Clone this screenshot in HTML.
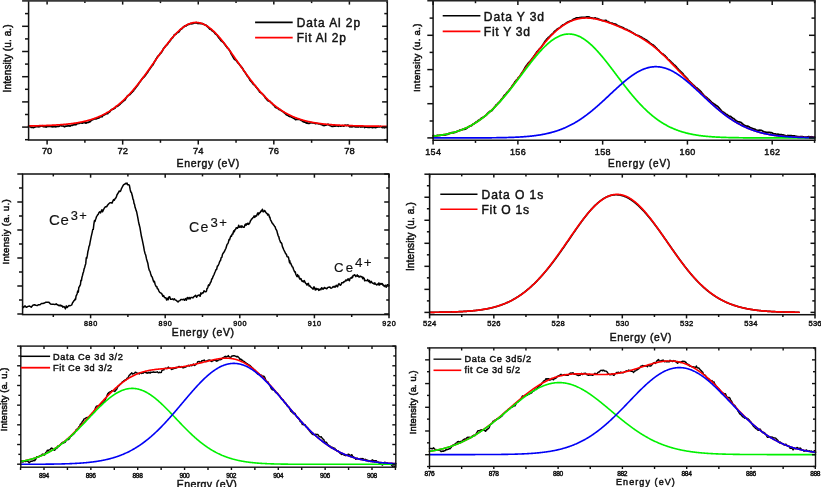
<!DOCTYPE html>
<html><head><meta charset="utf-8"><style>
html,body{margin:0;padding:0;background:#fff;}
svg{display:block;will-change:transform;}
text{font-family:"Liberation Sans",sans-serif;}
</style></head><body>
<svg width="821" height="487" viewBox="0 0 821 487">
<rect width="821" height="487" fill="#fff"/>
<polyline points="28.6,126.61 29.1,126.59 29.6,126.64 30.1,126.53 30.6,126.9 31.1,127.31 31.6,127.29 32.1,127.14 32.6,127.4 33.1,127.56 33.6,127.64 34.1,127.29 34.6,127.21 35.1,126.94 35.6,126.69 36.1,126.68 36.6,126.77 37.1,126.41 37.6,126.65 38.1,126.82 38.6,126.69 39.1,126.78 39.6,126.48 40.1,126.5 40.6,126.22 41.1,126.16 41.6,125.87 42.1,125.69 42.6,126.24 43.1,126.55 43.6,126.56 44.1,126.56 44.6,126.52 45.1,126.89 45.6,126.85 46.1,127.04 46.6,127.01 47.1,126.2 47.6,126.29 48.1,125.96 48.6,126.53 49.1,126.47 49.6,126.45 50.1,126.44 50.6,126.53 51.1,126.37 51.6,126.72 52.1,126.57 52.6,126.92 53.1,126.67 53.6,126.76 54.1,126.46 54.6,126.57 55.1,126.46 55.6,126.84 56.1,126.56 56.6,126.65 57.1,126.48 57.6,126.38 58.1,126.36 58.6,126.51 59.1,126.22 59.6,125.91 60.1,125.5 60.6,125.64 61.1,125.78 61.6,125.83 62.1,125.93 62.6,125.99 63.1,126.05 63.6,126.15 64.1,126.43 64.6,126.78 65.1,126.57 65.6,126.12 66.1,126.25 66.6,126.05 67.1,126.03 67.6,126.01 68.1,125.72 68.6,125.97 69.1,125.91 69.6,125.95 70.1,126.15 70.6,125.76 71.1,125.49 71.6,125.23 72.1,125.07 72.6,125.42 73.1,125.03 73.6,124.65 74.1,124.79 74.6,124.44 75.1,124.49 75.6,124.78 76.1,124.67 76.6,124.19 77.1,123.74 77.6,123.57 78.1,123.56 78.6,123.51 79.1,123.38 79.6,123.14 80.1,122.96 80.6,122.89 81.1,122.68 81.6,122.89 82.1,123.17 82.6,123.15 83.1,122.59 83.6,122.59 84.1,122.51 84.6,122.73 85.1,122.76 85.6,123.09 86.1,123.1 86.6,122.54 87.1,122.56 87.6,122.47 88.1,122.32 88.6,122.28 89.1,121.94 89.6,121.8 90.1,121.69 90.6,120.92 91.1,120.64 91.6,120.03 92.1,119.9 92.6,119.93 93.1,119.57 93.6,119.28 94.1,119 94.6,118.7 95.1,118.87 95.6,118.9 96.1,118.97 96.6,118.79 97.1,118.44 97.6,118.05 98.1,117.99 98.6,118.03 99.1,117.85 99.6,117.52 100.1,116.99 100.6,116.64 101.1,116.53 101.6,116.74 102.1,116.79 102.6,116.11 103.1,115.15 103.6,115.18 104.1,115.05 104.6,114.71 105.1,114.45 105.6,113.84 106.1,113.8 106.6,113.68 107.1,113.64 107.6,113.76 108.1,112.81 108.6,112.45 109.1,112.15 109.6,111.91 110.1,111.5 110.6,110.37 111.1,110.06 111.6,109.92 112.1,109.39 112.6,109.16 113.1,108.99 113.6,109.08 114.1,108.42 114.6,108.32 115.1,107.99 115.6,107.16 116.1,106.35 116.6,106.41 117.1,106.42 117.6,106.23 118.1,105.65 118.6,105.4 119.1,104.93 119.6,104.6 120.1,104.15 120.6,103.51 121.1,102.97 121.6,102.66 122.1,101.98 122.6,101.78 123.1,101.39 123.6,100.96 124.1,100.52 124.6,100.21 125.1,99.85 125.6,98.91 126.1,97.88 126.6,97.22 127.1,96.49 127.6,95.83 128.1,95.7 128.6,95.19 129.1,94.83 129.6,94.72 130.1,94.33 130.6,93.69 131.1,93.27 131.6,92.55 132.1,92.31 132.6,91.54 133.1,91.11 133.6,90.56 134.1,89.37 134.6,89.05 135.1,88.69 135.6,87.81 136.1,87.25 136.6,86.53 137.1,86.01 137.6,85.39 138.1,84.31 138.6,83.95 139.1,82.75 139.6,82.21 140.1,81.81 140.6,81.1 141.1,80.35 141.6,79.57 142.1,78.91 142.6,78.39 143.1,77.68 143.6,77.3 144.1,76.96 144.6,76.37 145.1,75.8 145.6,75.11 146.1,74.4 146.6,73.56 147.1,72.98 147.6,72.37 148.1,71.58 148.6,70.44 149.1,69.83 149.6,69.25 150.1,68.51 150.6,67.74 151.1,67 151.6,66.39 152.1,65.62 152.6,65.17 153.1,64.62 153.6,63.46 154.1,62.5 154.6,61.59 155.1,60.71 155.6,60.15 156.1,58.94 156.6,58.29 157.1,57.42 157.6,56.55 158.1,55.99 158.6,55.63 159.1,55.12 159.6,54.58 160.1,53.6 160.6,53.3 161.1,52.82 161.6,52.16 162.1,51.36 162.6,50.42 163.1,49.32 163.6,48.36 164.1,47.9 164.6,47.4 165.1,46.71 165.6,46.13 166.1,45.42 166.6,45.11 167.1,44.83 167.6,44.1 168.1,43.42 168.6,42.41 169.1,41.87 169.6,41.53 170.1,40.41 170.6,40.11 171.1,39.29 171.6,38.47 172.1,38.06 172.6,37.7 173.1,36.96 173.6,36.04 174.1,35.02 174.6,34.78 175.1,34.43 175.6,34.46 176.1,33.95 176.6,33.22 177.1,32.7 177.6,32.36 178.1,32.42 178.6,32.28 179.1,31.59 179.6,30.93 180.1,30.08 180.6,29.41 181.1,29.21 181.6,28.83 182.1,28.61 182.6,27.89 183.1,27.35 183.6,27.16 184.1,26.53 184.6,25.94 185.1,26.19 185.6,26.05 186.1,25.88 186.6,25.3 187.1,24.98 187.6,24.94 188.1,24.43 188.6,24.51 189.1,24.39 189.6,23.99 190.1,23.72 190.6,23.51 191.1,23.87 191.6,23.69 192.1,23.7 192.6,23.68 193.1,23.22 193.6,23.34 194.1,23 194.6,22.91 195.1,23 195.6,22.98 196.1,22.73 196.6,22.54 197.1,23.06 197.6,23.49 198.1,23.37 198.6,23.53 199.1,23.63 199.6,23.35 200.1,23.19 200.6,23.61 201.1,23.64 201.6,23.67 202.1,23.58 202.6,23.55 203.1,24.05 203.6,24.13 204.1,24.49 204.6,24.76 205.1,24.99 205.6,25.11 206.1,25.13 206.6,25.87 207.1,26.34 207.6,26.45 208.1,27.19 208.6,27.76 209.1,28.29 209.6,28.89 210.1,29.1 210.6,29.39 211.1,29.42 211.6,30.05 212.1,30.75 212.6,31.08 213.1,31.36 213.6,31.69 214.1,31.97 214.6,32.87 215.1,33.65 215.6,34.08 216.1,34.36 216.6,34.49 217.1,35.14 217.6,35.97 218.1,36.7 218.6,37.46 219.1,38.14 219.6,38.6 220.1,39.37 220.6,39.92 221.1,40.65 221.6,40.92 222.1,41.44 222.6,41.77 223.1,42.23 223.6,42.78 224.1,43.68 224.6,44.06 225.1,44.73 225.6,45.58 226.1,46.17 226.6,46.79 227.1,47.47 227.6,48.15 228.1,48.42 228.6,48.99 229.1,49.73 229.6,50.43 230.1,51.36 230.6,52.39 231.1,53.65 231.6,54.53 232.1,55.19 232.6,56.25 233.1,57.13 233.6,57.93 234.1,58.89 234.6,59.31 235.1,59.73 235.6,59.83 236.1,60.38 236.6,60.93 237.1,61.79 237.6,62.33 238.1,63.07 238.6,63.54 239.1,63.79 239.6,64.76 240.1,65.43 240.6,65.93 241.1,66.86 241.6,67.13 242.1,67.72 242.6,68.44 243.1,69.37 243.6,70.49 244.1,71.13 244.6,71.64 245.1,72.58 245.6,73.19 246.1,74.12 246.6,74.86 247.1,75.63 247.6,76.55 248.1,76.72 248.6,77.44 249.1,78.28 249.6,79.44 250.1,80.37 250.6,80.77 251.1,81.45 251.6,81.9 252.1,82.43 252.6,83.35 253.1,83.9 253.6,84.55 254.1,84.75 254.6,85.1 255.1,85.69 255.6,86.32 256.1,87.21 256.6,87.62 257.1,88.23 257.6,88.88 258.1,89.6 258.6,90.18 259.1,90.87 259.6,92.04 260.1,92.32 260.6,92.6 261.1,92.82 261.6,93.44 262.1,93.82 262.6,94.08 263.1,94.52 263.6,95.39 264.1,95.62 264.6,96.33 265.1,97.35 265.6,98.2 266.1,98.51 266.6,99.22 267.1,99.72 267.6,100.63 268.1,100.55 268.6,100.96 269.1,101.15 269.6,101.23 270.1,101.52 270.6,102.27 271.1,102.58 271.6,103.08 272.1,103.38 272.6,104.21 273.1,104.75 273.6,105.3 274.1,105.49 274.6,106.14 275.1,106.99 275.6,107.36 276.1,107.72 276.6,107.8 277.1,107.81 277.6,107.99 278.1,108.48 278.6,109.3 279.1,109.61 279.6,109.42 280.1,109.56 280.6,110.08 281.1,110.53 281.6,110.84 282.1,111.14 282.6,111.48 283.1,111.72 283.6,112.14 284.1,112.57 284.6,113.11 285.1,113.42 285.6,113.71 286.1,114.61 286.6,114.88 287.1,115.09 287.6,115.4 288.1,115.5 288.6,115.98 289.1,116.29 289.6,116.5 290.1,116.68 290.6,116.27 291.1,116.53 291.6,117.24 292.1,117.35 292.6,117.73 293.1,117.86 293.6,118.18 294.1,118.55 294.6,118.78 295.1,119.19 295.6,119.75 296.1,119.47 296.6,119.3 297.1,119.33 297.6,119.24 298.1,119.42 298.6,119.28 299.1,119.3 299.6,119.45 300.1,119.72 300.6,119.93 301.1,120.36 301.6,120.56 302.1,120.87 302.6,121.07 303.1,121.6 303.6,121.64 304.1,122.08 304.6,121.93 305.1,122.02 305.6,122.56 306.1,122.65 306.6,123.08 307.1,123.2 307.6,122.88 308.1,123.38 308.6,123.38 309.1,123.47 309.6,123.21 310.1,122.81 310.6,122.91 311.1,122.45 311.6,122.71 312.1,122.95 312.6,122.88 313.1,122.78 313.6,122.75 314.1,123.12 314.6,123.29 315.1,123.47 315.6,123.66 316.1,123.39 316.6,123.25 317.1,123.5 317.6,123.49 318.1,123.75 318.6,123.79 319.1,123.75 319.6,123.8 320.1,123.74 320.6,124.27 321.1,124.58 321.6,124.53 322.1,124.6 322.6,124.91 323.1,125.38 323.6,125.59 324.1,125.35 324.6,125.54 325.1,125.25 325.6,125.21 326.1,125.06 326.6,125.02 327.1,124.63 327.6,124.43 328.1,124.3 328.6,124.6 329.1,125.24 329.6,125.5 330.1,125.44 330.6,125.76 331.1,126.03 331.6,126.19 332.1,126.41 332.6,126.51 333.1,126.48 333.6,125.93 334.1,125.62 334.6,126.08 335.1,126.19 335.6,125.96 336.1,125.94 336.6,125.63 337.1,125.87 337.6,126 338.1,126.26 338.6,126.29 339.1,125.73 339.6,125.7 340.1,126.01 340.6,126.21 341.1,126.14 341.6,126.03 342.1,125.89 342.6,125.62 343.1,125.72 343.6,126.16 344.1,125.93 344.6,125.6 345.1,125.07 345.6,125.22 346.1,125.43 346.6,125.57 347.1,125.3 347.6,125.09 348.1,125.12 348.6,125.61 349.1,126.16 349.6,126.7 350.1,126.85 350.6,126.47 351.1,126.41 351.6,126.78 352.1,126.81 352.6,126.76 353.1,126.4 353.6,126.26 354.1,126.47 354.6,126.58 355.1,126.87 355.6,126.92 356.1,126.71 356.6,126.85 357.1,126.95 357.6,126.85 358.1,127.03 358.6,126.71 359.1,126.66 359.6,126.53 360.1,126.36 360.6,127.03 361.1,126.85 361.6,126.93 362.1,127.02 362.6,126.85 363.1,126.77 363.6,126.64 364.1,126.88 364.6,127.48 365.1,126.95 365.6,127.18 366.1,127.19 366.6,127.19 367.1,127.27 367.6,127.29 368.1,127.48 368.6,127.4 369.1,127.28 369.6,127.51 370.1,127.29 370.6,127.25 371.1,127.17 371.6,127.19 372.1,127.62 372.6,127.62 373.1,127.45 373.6,127.45 374.1,127.43 374.6,127.42 375.1,127.24 375.6,127.71 376.1,127.53 376.6,127.28 377.1,127.11 377.6,126.91 378.1,126.61 378.6,126.65 379.1,126.92 379.6,126.96 380.1,126.32 380.6,126.6 381.1,126.72 381.6,126.98 382.1,127.53 382.6,127.55 383.1,127.38 383.6,127.41 384.1,127.75 384.6,127.84 385.1,127.58 385.6,127.32 386.1,127.24 386.6,127.28 387.1,127.31" fill="none" stroke="#000" stroke-width="1.7" stroke-linejoin="round" stroke-linecap="round"/>
<polyline points="28.6,125.97 29.1,125.96 29.6,125.95 30.1,125.94 30.6,125.93 31.1,125.92 31.6,125.91 32.1,125.9 32.6,125.89 33.1,125.88 33.6,125.87 34.1,125.85 34.6,125.84 35.1,125.83 35.6,125.82 36.1,125.8 36.6,125.79 37.1,125.78 37.6,125.76 38.1,125.75 38.6,125.74 39.1,125.72 39.6,125.71 40.1,125.69 40.6,125.68 41.1,125.66 41.6,125.65 42.1,125.63 42.6,125.61 43.1,125.6 43.6,125.58 44.1,125.56 44.6,125.54 45.1,125.53 45.6,125.51 46.1,125.49 46.6,125.47 47.1,125.45 47.6,125.43 48.1,125.41 48.6,125.39 49.1,125.36 49.6,125.34 50.1,125.32 50.6,125.3 51.1,125.27 51.6,125.25 52.1,125.22 52.6,125.2 53.1,125.17 53.6,125.15 54.1,125.12 54.6,125.09 55.1,125.06 55.6,125.03 56.1,125 56.6,124.97 57.1,124.94 57.6,124.91 58.1,124.88 58.6,124.84 59.1,124.81 59.6,124.77 60.1,124.74 60.6,124.7 61.1,124.66 61.6,124.62 62.1,124.58 62.6,124.54 63.1,124.5 63.6,124.46 64.1,124.41 64.6,124.37 65.1,124.32 65.6,124.28 66.1,124.23 66.6,124.18 67.1,124.13 67.6,124.08 68.1,124.02 68.6,123.97 69.1,123.91 69.6,123.85 70.1,123.8 70.6,123.74 71.1,123.67 71.6,123.61 72.1,123.55 72.6,123.48 73.1,123.41 73.6,123.34 74.1,123.27 74.6,123.2 75.1,123.12 75.6,123.05 76.1,122.97 76.6,122.89 77.1,122.81 77.6,122.72 78.1,122.64 78.6,122.55 79.1,122.46 79.6,122.37 80.1,122.27 80.6,122.18 81.1,122.08 81.6,121.98 82.1,121.87 82.6,121.77 83.1,121.66 83.6,121.55 84.1,121.43 84.6,121.32 85.1,121.2 85.6,121.08 86.1,120.95 86.6,120.83 87.1,120.7 87.6,120.57 88.1,120.43 88.6,120.29 89.1,120.15 89.6,120.01 90.1,119.86 90.6,119.71 91.1,119.55 91.6,119.39 92.1,119.23 92.6,119.07 93.1,118.9 93.6,118.73 94.1,118.56 94.6,118.38 95.1,118.19 95.6,118.01 96.1,117.82 96.6,117.62 97.1,117.43 97.6,117.23 98.1,117.02 98.6,116.81 99.1,116.6 99.6,116.38 100.1,116.16 100.6,115.93 101.1,115.7 101.6,115.46 102.1,115.23 102.6,114.98 103.1,114.73 103.6,114.48 104.1,114.22 104.6,113.96 105.1,113.69 105.6,113.42 106.1,113.14 106.6,112.86 107.1,112.57 107.6,112.28 108.1,111.99 108.6,111.68 109.1,111.38 109.6,111.06 110.1,110.75 110.6,110.42 111.1,110.1 111.6,109.76 112.1,109.42 112.6,109.08 113.1,108.73 113.6,108.38 114.1,108.01 114.6,107.65 115.1,107.28 115.6,106.9 116.1,106.52 116.6,106.13 117.1,105.73 117.6,105.33 118.1,104.93 118.6,104.52 119.1,104.1 119.6,103.68 120.1,103.25 120.6,102.81 121.1,102.37 121.6,101.93 122.1,101.48 122.6,101.02 123.1,100.55 123.6,100.09 124.1,99.61 124.6,99.13 125.1,98.64 125.6,98.15 126.1,97.65 126.6,97.15 127.1,96.64 127.6,96.12 128.1,95.6 128.6,95.07 129.1,94.54 129.6,94 130.1,93.46 130.6,92.91 131.1,92.36 131.6,91.79 132.1,91.23 132.6,90.66 133.1,90.08 133.6,89.5 134.1,88.91 134.6,88.32 135.1,87.72 135.6,87.12 136.1,86.52 136.6,85.9 137.1,85.29 137.6,84.67 138.1,84.04 138.6,83.41 139.1,82.77 139.6,82.13 140.1,81.49 140.6,80.84 141.1,80.19 141.6,79.53 142.1,78.87 142.6,78.21 143.1,77.54 143.6,76.87 144.1,76.2 144.6,75.52 145.1,74.84 145.6,74.15 146.1,73.47 146.6,72.78 147.1,72.09 147.6,71.39 148.1,70.69 148.6,69.99 149.1,69.29 149.6,68.59 150.1,67.88 150.6,67.18 151.1,66.47 151.6,65.76 152.1,65.05 152.6,64.34 153.1,63.62 153.6,62.91 154.1,62.2 154.6,61.48 155.1,60.77 155.6,60.06 156.1,59.34 156.6,58.63 157.1,57.92 157.6,57.21 158.1,56.5 158.6,55.79 159.1,55.08 159.6,54.38 160.1,53.67 160.6,52.97 161.1,52.27 161.6,51.58 162.1,50.88 162.6,50.19 163.1,49.5 163.6,48.82 164.1,48.14 164.6,47.46 165.1,46.79 165.6,46.12 166.1,45.46 166.6,44.8 167.1,44.15 167.6,43.5 168.1,42.86 168.6,42.22 169.1,41.59 169.6,40.96 170.1,40.34 170.6,39.73 171.1,39.13 171.6,38.53 172.1,37.94 172.6,37.36 173.1,36.78 173.6,36.21 174.1,35.66 174.6,35.11 175.1,34.57 175.6,34.03 176.1,33.51 176.6,33 177.1,32.49 177.6,32 178.1,31.52 178.6,31.04 179.1,30.58 179.6,30.13 180.1,29.69 180.6,29.26 181.1,28.84 181.6,28.44 182.1,28.04 182.6,27.66 183.1,27.29 183.6,26.93 184.1,26.59 184.6,26.25 185.1,25.94 185.6,25.63 186.1,25.34 186.6,25.06 187.1,24.79 187.6,24.54 188.1,24.3 188.6,24.08 189.1,23.86 189.6,23.67 190.1,23.49 190.6,23.32 191.1,23.17 191.6,23.03 192.1,22.9 192.6,22.8 193.1,22.7 193.6,22.62 194.1,22.56 194.6,22.51 195.1,22.47 195.6,22.45 196.1,22.45 196.6,22.46 197.1,22.49 197.6,22.53 198.1,22.58 198.6,22.65 199.1,22.74 199.6,22.84 200.1,22.95 200.6,23.08 201.1,23.23 201.6,23.38 202.1,23.56 202.6,23.75 203.1,23.95 203.6,24.16 204.1,24.39 204.6,24.64 205.1,24.9 205.6,25.17 206.1,25.45 206.6,25.75 207.1,26.06 207.6,26.39 208.1,26.72 208.6,27.07 209.1,27.44 209.6,27.81 210.1,28.2 210.6,28.6 211.1,29.01 211.6,29.43 212.1,29.86 212.6,30.31 213.1,30.77 213.6,31.23 214.1,31.71 214.6,32.2 215.1,32.69 215.6,33.2 216.1,33.72 216.6,34.25 217.1,34.78 217.6,35.33 218.1,35.88 218.6,36.44 219.1,37.01 219.6,37.59 220.1,38.17 220.6,38.77 221.1,39.37 221.6,39.98 222.1,40.59 222.6,41.21 223.1,41.84 223.6,42.47 224.1,43.11 224.6,43.76 225.1,44.41 225.6,45.06 226.1,45.72 226.6,46.39 227.1,47.06 227.6,47.73 228.1,48.41 228.6,49.09 229.1,49.78 229.6,50.47 230.1,51.16 230.6,51.85 231.1,52.55 231.6,53.25 232.1,53.95 232.6,54.66 233.1,55.36 233.6,56.07 234.1,56.78 234.6,57.49 235.1,58.2 235.6,58.92 236.1,59.63 236.6,60.34 237.1,61.06 237.6,61.77 238.1,62.48 238.6,63.2 239.1,63.91 239.6,64.62 240.1,65.33 240.6,66.04 241.1,66.75 241.6,67.46 242.1,68.17 242.6,68.87 243.1,69.57 243.6,70.27 244.1,70.97 244.6,71.67 245.1,72.36 245.6,73.05 246.1,73.74 246.6,74.43 247.1,75.11 247.6,75.79 248.1,76.47 248.6,77.14 249.1,77.81 249.6,78.48 250.1,79.14 250.6,79.8 251.1,80.45 251.6,81.1 252.1,81.75 252.6,82.39 253.1,83.03 253.6,83.66 254.1,84.29 254.6,84.91 255.1,85.53 255.6,86.15 256.1,86.76 256.6,87.36 257.1,87.96 257.6,88.56 258.1,89.15 258.6,89.73 259.1,90.31 259.6,90.89 260.1,91.46 260.6,92.02 261.1,92.58 261.6,93.13 262.1,93.68 262.6,94.22 263.1,94.75 263.6,95.29 264.1,95.81 264.6,96.33 265.1,96.84 265.6,97.35 266.1,97.85 266.6,98.35 267.1,98.84 267.6,99.32 268.1,99.8 268.6,100.27 269.1,100.74 269.6,101.2 270.1,101.66 270.6,102.11 271.1,102.55 271.6,102.99 272.1,103.42 272.6,103.85 273.1,104.27 273.6,104.68 274.1,105.09 274.6,105.49 275.1,105.89 275.6,106.28 276.1,106.67 276.6,107.05 277.1,107.43 277.6,107.8 278.1,108.16 278.6,108.52 279.1,108.87 279.6,109.22 280.1,109.56 280.6,109.9 281.1,110.23 281.6,110.55 282.1,110.87 282.6,111.19 283.1,111.5 283.6,111.8 284.1,112.1 284.6,112.4 285.1,112.69 285.6,112.97 286.1,113.25 286.6,113.53 287.1,113.8 287.6,114.06 288.1,114.33 288.6,114.58 289.1,114.83 289.6,115.08 290.1,115.32 290.6,115.56 291.1,115.79 291.6,116.02 292.1,116.25 292.6,116.47 293.1,116.68 293.6,116.9 294.1,117.1 294.6,117.31 295.1,117.51 295.6,117.7 296.1,117.89 296.6,118.08 297.1,118.27 297.6,118.45 298.1,118.63 298.6,118.8 299.1,118.97 299.6,119.14 300.1,119.3 300.6,119.46 301.1,119.61 301.6,119.77 302.1,119.92 302.6,120.06 303.1,120.21 303.6,120.35 304.1,120.48 304.6,120.62 305.1,120.75 305.6,120.88 306.1,121 306.6,121.13 307.1,121.25 307.6,121.37 308.1,121.48 308.6,121.59 309.1,121.7 309.6,121.81 310.1,121.91 310.6,122.02 311.1,122.12 311.6,122.22 312.1,122.31 312.6,122.4 313.1,122.5 313.6,122.59 314.1,122.67 314.6,122.76 315.1,122.84 315.6,122.92 316.1,123 316.6,123.08 317.1,123.15 317.6,123.23 318.1,123.3 318.6,123.37 319.1,123.44 319.6,123.51 320.1,123.57 320.6,123.64 321.1,123.7 321.6,123.76 322.1,123.82 322.6,123.88 323.1,123.93 323.6,123.99 324.1,124.04 324.6,124.1 325.1,124.15 325.6,124.2 326.1,124.25 326.6,124.3 327.1,124.34 327.6,124.39 328.1,124.43 328.6,124.48 329.1,124.52 329.6,124.56 330.1,124.6 330.6,124.64 331.1,124.68 331.6,124.71 332.1,124.75 332.6,124.79 333.1,124.82 333.6,124.86 334.1,124.89 334.6,124.92 335.1,124.95 335.6,124.99 336.1,125.02 336.6,125.05 337.1,125.07 337.6,125.1 338.1,125.13 338.6,125.16 339.1,125.18 339.6,125.21 340.1,125.23 340.6,125.26 341.1,125.28 341.6,125.31 342.1,125.33 342.6,125.35 343.1,125.37 343.6,125.39 344.1,125.42 344.6,125.44 345.1,125.46 345.6,125.48 346.1,125.5 346.6,125.51 347.1,125.53 347.6,125.55 348.1,125.57 348.6,125.59 349.1,125.6 349.6,125.62 350.1,125.64 350.6,125.65 351.1,125.67 351.6,125.68 352.1,125.7 352.6,125.71 353.1,125.73 353.6,125.74 354.1,125.76 354.6,125.77 355.1,125.78 355.6,125.8 356.1,125.81 356.6,125.82 357.1,125.83 357.6,125.85 358.1,125.86 358.6,125.87 359.1,125.88 359.6,125.89 360.1,125.9 360.6,125.92 361.1,125.93 361.6,125.94 362.1,125.95 362.6,125.96 363.1,125.97 363.6,125.98 364.1,125.99 364.6,126 365.1,126.01 365.6,126.02 366.1,126.03 366.6,126.04 367.1,126.04 367.6,126.05 368.1,126.06 368.6,126.07 369.1,126.08 369.6,126.09 370.1,126.1 370.6,126.1 371.1,126.11 371.6,126.12 372.1,126.13 372.6,126.14 373.1,126.14 373.6,126.15 374.1,126.16 374.6,126.17 375.1,126.17 375.6,126.18 376.1,126.19 376.6,126.2 377.1,126.2 377.6,126.21 378.1,126.22 378.6,126.22 379.1,126.23 379.6,126.24 380.1,126.24 380.6,126.25 381.1,126.26 381.6,126.26 382.1,126.27 382.6,126.27 383.1,126.28 383.6,126.29 384.1,126.29 384.6,126.3 385.1,126.31 385.6,126.31 386.1,126.32 386.6,126.32 387.1,126.33" fill="none" stroke="#ff0000" stroke-width="1.7" stroke-linejoin="round" stroke-linecap="round"/>
<line x1="22.1" y1="127.1" x2="28.6" y2="127.1" stroke="#111" stroke-width="1.5"/>
<line x1="382.1" y1="127.1" x2="387.3" y2="127.1" stroke="#111" stroke-width="1.5"/>
<line x1="22.1" y1="101.9" x2="28.6" y2="101.9" stroke="#111" stroke-width="1.5"/>
<line x1="382.1" y1="101.9" x2="387.3" y2="101.9" stroke="#111" stroke-width="1.5"/>
<line x1="22.1" y1="76.7" x2="28.6" y2="76.7" stroke="#111" stroke-width="1.5"/>
<line x1="382.1" y1="76.7" x2="387.3" y2="76.7" stroke="#111" stroke-width="1.5"/>
<line x1="22.1" y1="51.5" x2="28.6" y2="51.5" stroke="#111" stroke-width="1.5"/>
<line x1="382.1" y1="51.5" x2="387.3" y2="51.5" stroke="#111" stroke-width="1.5"/>
<line x1="22.1" y1="26.3" x2="28.6" y2="26.3" stroke="#111" stroke-width="1.5"/>
<line x1="382.1" y1="26.3" x2="387.3" y2="26.3" stroke="#111" stroke-width="1.5"/>
<line x1="25" y1="139.7" x2="28.6" y2="139.7" stroke="#111" stroke-width="1.5"/>
<line x1="384.3" y1="139.7" x2="387.3" y2="139.7" stroke="#111" stroke-width="1.5"/>
<line x1="25" y1="114.5" x2="28.6" y2="114.5" stroke="#111" stroke-width="1.5"/>
<line x1="384.3" y1="114.5" x2="387.3" y2="114.5" stroke="#111" stroke-width="1.5"/>
<line x1="25" y1="89.3" x2="28.6" y2="89.3" stroke="#111" stroke-width="1.5"/>
<line x1="384.3" y1="89.3" x2="387.3" y2="89.3" stroke="#111" stroke-width="1.5"/>
<line x1="25" y1="64.1" x2="28.6" y2="64.1" stroke="#111" stroke-width="1.5"/>
<line x1="384.3" y1="64.1" x2="387.3" y2="64.1" stroke="#111" stroke-width="1.5"/>
<line x1="25" y1="38.9" x2="28.6" y2="38.9" stroke="#111" stroke-width="1.5"/>
<line x1="384.3" y1="38.9" x2="387.3" y2="38.9" stroke="#111" stroke-width="1.5"/>
<line x1="25" y1="13.6" x2="28.6" y2="13.6" stroke="#111" stroke-width="1.5"/>
<line x1="384.3" y1="13.6" x2="387.3" y2="13.6" stroke="#111" stroke-width="1.5"/>
<line x1="47.1" y1="139.9" x2="47.1" y2="144.6" stroke="#111" stroke-width="1.5"/>
<line x1="47.1" y1="0.9" x2="47.1" y2="4.6" stroke="#111" stroke-width="1.5"/>
<line x1="122.67" y1="139.9" x2="122.67" y2="144.6" stroke="#111" stroke-width="1.5"/>
<line x1="122.67" y1="0.9" x2="122.67" y2="4.6" stroke="#111" stroke-width="1.5"/>
<line x1="198.25" y1="139.9" x2="198.25" y2="144.6" stroke="#111" stroke-width="1.5"/>
<line x1="198.25" y1="0.9" x2="198.25" y2="4.6" stroke="#111" stroke-width="1.5"/>
<line x1="273.82" y1="139.9" x2="273.82" y2="144.6" stroke="#111" stroke-width="1.5"/>
<line x1="273.82" y1="0.9" x2="273.82" y2="4.6" stroke="#111" stroke-width="1.5"/>
<line x1="349.4" y1="139.9" x2="349.4" y2="144.6" stroke="#111" stroke-width="1.5"/>
<line x1="349.4" y1="0.9" x2="349.4" y2="4.6" stroke="#111" stroke-width="1.5"/>
<line x1="84.89" y1="139.9" x2="84.89" y2="142.8" stroke="#111" stroke-width="1.5"/>
<line x1="84.89" y1="0.9" x2="84.89" y2="3.1" stroke="#111" stroke-width="1.5"/>
<line x1="160.46" y1="139.9" x2="160.46" y2="142.8" stroke="#111" stroke-width="1.5"/>
<line x1="160.46" y1="0.9" x2="160.46" y2="3.1" stroke="#111" stroke-width="1.5"/>
<line x1="236.04" y1="139.9" x2="236.04" y2="142.8" stroke="#111" stroke-width="1.5"/>
<line x1="236.04" y1="0.9" x2="236.04" y2="3.1" stroke="#111" stroke-width="1.5"/>
<line x1="311.61" y1="139.9" x2="311.61" y2="142.8" stroke="#111" stroke-width="1.5"/>
<line x1="311.61" y1="0.9" x2="311.61" y2="3.1" stroke="#111" stroke-width="1.5"/>
<line x1="387.19" y1="139.9" x2="387.19" y2="142.8" stroke="#111" stroke-width="1.5"/>
<line x1="387.19" y1="0.9" x2="387.19" y2="3.1" stroke="#111" stroke-width="1.5"/>
<polyline points="28.6,0.9 28.6,139.9 387.3,139.9 387.3,0.9" fill="none" stroke="#111" stroke-width="1.5"/>
<line x1="22.1" y1="0.9" x2="388.05" y2="0.9" stroke="#383838" stroke-width="1.8"/>
<text x="47.1" y="153.8" font-size="9.4" text-anchor="middle" font-weight="normal" fill="#111" textLength="10.4" lengthAdjust="spacing" stroke="#111" stroke-width="0.45">70</text>
<text x="122.67" y="153.8" font-size="9.4" text-anchor="middle" font-weight="normal" fill="#111" textLength="10.4" lengthAdjust="spacing" stroke="#111" stroke-width="0.45">72</text>
<text x="198.25" y="153.8" font-size="9.4" text-anchor="middle" font-weight="normal" fill="#111" textLength="10.4" lengthAdjust="spacing" stroke="#111" stroke-width="0.45">74</text>
<text x="273.82" y="153.8" font-size="9.4" text-anchor="middle" font-weight="normal" fill="#111" textLength="10.4" lengthAdjust="spacing" stroke="#111" stroke-width="0.45">76</text>
<text x="349.4" y="153.8" font-size="9.4" text-anchor="middle" font-weight="normal" fill="#111" textLength="10.4" lengthAdjust="spacing" stroke="#111" stroke-width="0.45">78</text>
<text x="207.9" y="166.8" font-size="10.5" text-anchor="middle" font-weight="normal" fill="#111" textLength="62.6" lengthAdjust="spacing" stroke="#111" stroke-width="0.45">Energy (eV)</text>
<text x="10.8" y="58.4" font-size="10.0" text-anchor="middle" font-weight="normal" fill="#111" textLength="68" lengthAdjust="spacing" transform="rotate(-90 10.8 58.4)" stroke="#111" stroke-width="0.5">Intensity (u. a.)</text>
<line x1="255.1" y1="22.4" x2="292.7" y2="22.4" stroke="#000" stroke-width="1.6"/>
<line x1="255.1" y1="37.7" x2="292.7" y2="37.7" stroke="#ff0000" stroke-width="1.7"/>
<text x="296.8" y="26.7" font-size="11.9" text-anchor="start" font-weight="normal" fill="#111" textLength="63.2" lengthAdjust="spacing" stroke="#111" stroke-width="0.45">Data Al 2p</text>
<text x="296.8" y="42" font-size="11.9" text-anchor="start" font-weight="normal" fill="#111" textLength="49" lengthAdjust="spacing" stroke="#111" stroke-width="0.45">Fit Al 2p</text>
<polyline points="433.1,135.71 433.6,135.74 434.1,135.86 434.6,135.7 435.1,135.82 435.6,135.79 436.1,135.85 436.6,135.62 437.1,135.61 437.6,135.39 438.1,135.34 438.6,135.48 439.1,135.45 439.6,135.39 440.1,135.32 440.6,135.33 441.1,135.24 441.6,135.04 442.1,135.19 442.6,135.16 443.1,134.83 443.6,134.82 444.1,135.03 444.6,134.89 445.1,134.79 445.6,135.02 446.1,134.79 446.6,134.41 447.1,134.38 447.6,134.52 448.1,134.22 448.6,133.59 449.1,133.58 449.6,133.48 450.1,133.03 450.6,133.13 451.1,133.07 451.6,132.9 452.1,132.45 452.6,132.58 453.1,132.9 453.6,132.69 454.1,132.56 454.6,132.54 455.1,132.4 455.6,132.1 456.1,131.86 456.6,131.87 457.1,131.55 457.6,131.17 458.1,131.02 458.6,130.9 459.1,130.64 459.6,130.18 460.1,130.33 460.6,130.22 461.1,129.81 461.6,129.74 462.1,129.62 462.6,129.39 463.1,129.32 463.6,129.37 464.1,129.45 464.6,129.22 465.1,129.23 465.6,128.99 466.1,128.58 466.6,128.41 467.1,127.97 467.6,127.58 468.1,127.22 468.6,127.03 469.1,126.66 469.6,125.93 470.1,126.06 470.6,125.92 471.1,125.65 471.6,125.63 472.1,125.18 472.6,124.58 473.1,124.02 473.6,123.89 474.1,123.71 474.6,123.11 475.1,122.7 475.6,122.37 476.1,122.05 476.6,121.96 477.1,121.65 477.6,121.09 478.1,120.55 478.6,120.34 479.1,120.16 479.6,119.83 480.1,119.33 480.6,118.96 481.1,118.38 481.6,118.03 482.1,117.9 482.6,117.53 483.1,117.36 483.6,116.91 484.1,116.65 484.6,116.35 485.1,115.92 485.6,115.64 486.1,115.31 486.6,114.71 487.1,114.11 487.6,113.28 488.1,112.85 488.6,112.34 489.1,112 489.6,111.69 490.1,111.24 490.6,110.93 491.1,110.97 491.6,110.63 492.1,110.42 492.6,109.82 493.1,109.06 493.6,108.44 494.1,107.66 494.6,107.2 495.1,106.5 495.6,105.79 496.1,105.02 496.6,104.61 497.1,104.25 497.6,103.86 498.1,103.19 498.6,102.74 499.1,102.25 499.6,101.79 500.1,101.24 500.6,100.69 501.1,99.74 501.6,99.16 502.1,98.65 502.6,97.99 503.1,97.29 503.6,96.45 504.1,95.68 504.6,95.17 505.1,94.76 505.6,94.41 506.1,93.66 506.6,92.83 507.1,92.31 507.6,92.05 508.1,91.5 508.6,90.85 509.1,90.22 509.6,89.61 510.1,88.83 510.6,88.33 511.1,87.65 511.6,87.12 512.1,86.06 512.6,85.32 513.1,84.68 513.6,84 514.1,83.3 514.6,82.41 515.1,81.43 515.6,81.14 516.1,80.53 516.6,79.84 517.1,79.61 517.6,78.98 518.1,78.01 518.6,77.32 519.1,76.95 519.6,76.58 520.1,75.83 520.6,74.96 521.1,74.33 521.6,73.16 522.1,72.5 522.6,71.87 523.1,71.21 523.6,70.25 524.1,69.29 524.6,68.36 525.1,67.57 525.6,66.79 526.1,66.14 526.6,65.31 527.1,64.75 527.6,64.03 528.1,63.32 528.6,62.75 529.1,62.19 529.6,61.81 530.1,61.23 530.6,60.64 531.1,60 531.6,59.26 532.1,58.62 532.6,58.11 533.1,57.33 533.6,56.68 534.1,55.84 534.6,55.22 535.1,54.46 535.6,53.89 536.1,53.09 536.6,52.26 537.1,51.6 537.6,51.22 538.1,50.62 538.6,49.96 539.1,49.26 539.6,48.84 540.1,48.34 540.6,47.97 541.1,47.42 541.6,46.8 542.1,45.88 542.6,45.11 543.1,44.4 543.6,43.78 544.1,42.8 544.6,41.9 545.1,41.21 545.6,40.54 546.1,40 546.6,39.3 547.1,38.72 547.6,38.31 548.1,37.66 548.6,37.28 549.1,37.17 549.6,36.5 550.1,35.99 550.6,35.33 551.1,34.97 551.6,34.5 552.1,34.06 552.6,33.78 553.1,33.32 553.6,32.5 554.1,31.93 554.6,31.36 555.1,30.88 555.6,30.5 556.1,30.07 556.6,29.6 557.1,29.19 557.6,28.79 558.1,28.66 558.6,28.35 559.1,28.05 559.6,27.69 560.1,27.35 560.6,26.93 561.1,26.38 561.6,25.95 562.1,25.74 562.6,25.13 563.1,24.82 563.6,24.69 564.1,24.53 564.6,24.19 565.1,23.8 565.6,23.62 566.1,23.31 566.6,22.68 567.1,22.55 567.6,22.33 568.1,21.89 568.6,21.79 569.1,21.45 569.6,21.21 570.1,20.94 570.6,20.74 571.1,20.83 571.6,20.47 572.1,20.16 572.6,19.92 573.1,19.37 573.6,19.05 574.1,18.97 574.6,18.75 575.1,18.54 575.6,18.19 576.1,17.96 576.6,17.91 577.1,17.82 577.6,17.94 578.1,17.85 578.6,17.77 579.1,17.73 579.6,17.48 580.1,17.58 580.6,17.63 581.1,17.33 581.6,17.39 582.1,17.31 582.6,17.27 583.1,17.41 583.6,17.39 584.1,17.38 584.6,17.34 585.1,17.26 585.6,17.34 586.1,17.01 586.6,16.93 587.1,16.95 587.6,16.84 588.1,16.88 588.6,16.98 589.1,16.88 589.6,17.17 590.1,17.57 590.6,17.97 591.1,17.94 591.6,17.97 592.1,17.91 592.6,18.13 593.1,18.32 593.6,18.42 594.1,18.14 594.6,18.05 595.1,17.94 595.6,18.08 596.1,18.38 596.6,18.66 597.1,18.58 597.6,18.59 598.1,18.77 598.6,19.25 599.1,19.39 599.6,19.45 600.1,19.76 600.6,19.84 601.1,20.26 601.6,20.32 602.1,20.5 602.6,20.58 603.1,20.56 603.6,20.59 604.1,20.74 604.6,20.48 605.1,20.59 605.6,20.28 606.1,20.43 606.6,20.86 607.1,21.16 607.6,21.41 608.1,21.6 608.6,21.98 609.1,22.37 609.6,22.54 610.1,22.87 610.6,23.19 611.1,23.16 611.6,23.28 612.1,23.17 612.6,23.33 613.1,23.53 613.6,23.71 614.1,23.84 614.6,23.99 615.1,24.01 615.6,24.1 616.1,24.39 616.6,24.73 617.1,25.19 617.6,25.42 618.1,25.77 618.6,26.21 619.1,26.12 619.6,26.44 620.1,26.58 620.6,26.64 621.1,26.89 621.6,27.09 622.1,27.25 622.6,27.57 623.1,27.6 623.6,28.08 624.1,28.32 624.6,28.82 625.1,29.1 625.6,29.27 626.1,29.32 626.6,29.4 627.1,29.59 627.6,29.98 628.1,30.28 628.6,30.55 629.1,30.61 629.6,30.82 630.1,31.24 630.6,31.43 631.1,31.76 631.6,32.05 632.1,32.4 632.6,32.65 633.1,32.94 633.6,33.29 634.1,33.78 634.6,33.9 635.1,34.27 635.6,34.69 636.1,34.95 636.6,35.01 637.1,35.28 637.6,35.44 638.1,35.63 638.6,35.67 639.1,36.02 639.6,36.41 640.1,36.57 640.6,36.62 641.1,36.91 641.6,37.22 642.1,37.67 642.6,37.91 643.1,38.34 643.6,38.53 644.1,38.83 644.6,39.12 645.1,39.39 645.6,39.68 646.1,39.97 646.6,40.11 647.1,40.62 647.6,40.94 648.1,41.41 648.6,41.71 649.1,42.28 649.6,42.68 650.1,43.13 650.6,43.5 651.1,43.75 651.6,44.15 652.1,44.42 652.6,44.71 653.1,45.01 653.6,45.32 654.1,45.84 654.6,46.29 655.1,46.62 655.6,47.35 656.1,47.77 656.6,48.23 657.1,48.74 657.6,49.31 658.1,49.78 658.6,50.26 659.1,50.66 659.6,51.32 660.1,51.94 660.6,52.4 661.1,52.72 661.6,53.38 662.1,53.69 662.6,53.94 663.1,54.06 663.6,54.57 664.1,55.04 664.6,55.38 665.1,55.77 665.6,56.62 666.1,56.9 666.6,57.39 667.1,58.06 667.6,58.86 668.1,59.32 668.6,59.74 669.1,59.88 669.6,60.61 670.1,60.89 670.6,61.48 671.1,61.97 671.6,62.5 672.1,62.96 672.6,63.29 673.1,63.8 673.6,64.65 674.1,64.85 674.6,65.18 675.1,65.55 675.6,66.05 676.1,66.56 676.6,67.09 677.1,67.98 677.6,68.52 678.1,68.93 678.6,69.58 679.1,70 679.6,70.48 680.1,70.98 680.6,71.46 681.1,72 681.6,72.34 682.1,72.88 682.6,73.33 683.1,73.84 683.6,74.67 684.1,75.27 684.6,75.92 685.1,76.39 685.6,76.88 686.1,77.35 686.6,77.85 687.1,78.42 687.6,78.91 688.1,79.73 688.6,80.29 689.1,80.81 689.6,81.46 690.1,81.82 690.6,82.4 691.1,82.86 691.6,83.42 692.1,83.99 692.6,84.27 693.1,84.83 693.6,85.19 694.1,85.61 694.6,86.15 695.1,86.71 695.6,87.13 696.1,87.42 696.6,87.81 697.1,88.09 697.6,88.56 698.1,89.09 698.6,89.27 699.1,89.78 699.6,90.24 700.1,90.75 700.6,91.32 701.1,91.87 701.6,92.54 702.1,93.08 702.6,93.71 703.1,94.49 703.6,94.92 704.1,95.32 704.6,95.8 705.1,96.35 705.6,96.8 706.1,97.07 706.6,97.44 707.1,97.81 707.6,98.28 708.1,98.82 708.6,99.22 709.1,99.68 709.6,100.24 710.1,100.61 710.6,101.25 711.1,101.55 711.6,102.05 712.1,102.46 712.6,102.77 713.1,103.39 713.6,103.7 714.1,104.06 714.6,104.39 715.1,104.59 715.6,105.19 716.1,105.41 716.6,105.6 717.1,106.15 717.6,106.25 718.1,106.75 718.6,107.37 719.1,107.9 719.6,108.55 720.1,108.95 720.6,109.54 721.1,110.17 721.6,110.77 722.1,111.34 722.6,111.79 723.1,111.98 723.6,112.26 724.1,112.64 724.6,112.96 725.1,113.38 725.6,113.85 726.1,114.22 726.6,114.38 727.1,114.63 727.6,114.92 728.1,115.33 728.6,115.69 729.1,116.02 729.6,116.3 730.1,116.38 730.6,116.42 731.1,116.96 731.6,117.31 732.1,117.62 732.6,118.02 733.1,118.26 733.6,118.46 734.1,118.95 734.6,119.37 735.1,119.86 735.6,120.23 736.1,120.69 736.6,120.99 737.1,121.18 737.6,121.54 738.1,121.98 738.6,121.79 739.1,121.84 739.6,121.97 740.1,122.13 740.6,122.25 741.1,122.62 741.6,122.88 742.1,123.39 742.6,123.72 743.1,124.38 743.6,124.96 744.1,125.02 744.6,125.33 745.1,125.53 745.6,125.76 746.1,126.09 746.6,126.08 747.1,126.1 747.6,126.12 748.1,126.3 748.6,126.67 749.1,126.79 749.6,127.13 750.1,127.5 750.6,127.69 751.1,127.9 751.6,128.06 752.1,128.24 752.6,128.46 753.1,128.8 753.6,128.91 754.1,129.09 754.6,129.06 755.1,129.4 755.6,129.58 756.1,129.94 756.6,130.11 757.1,130.26 757.6,130.26 758.1,130.43 758.6,130.3 759.1,130.29 759.6,130.14 760.1,130.16 760.6,130.25 761.1,130.28 761.6,130.38 762.1,130.66 762.6,130.99 763.1,131.32 763.6,131.62 764.1,131.85 764.6,132.09 765.1,132.02 765.6,132.32 766.1,132.18 766.6,132.45 767.1,132.56 767.6,132.44 768.1,132.46 768.6,132.45 769.1,132.24 769.6,132.48 770.1,132.45 770.6,132.93 771.1,132.77 771.6,132.63 772.1,132.96 772.6,133.16 773.1,133.5 773.6,133.85 774.1,133.81 774.6,133.9 775.1,133.84 775.6,133.89 776.1,134.18 776.6,134.23 777.1,134.25 777.6,134.19 778.1,134.21 778.6,134.28 779.1,134.68 779.6,134.71 780.1,134.79 780.6,134.57 781.1,134.66 781.6,134.57 782.1,134.72 782.6,134.91 783.1,135.21 783.6,134.98 784.1,135.25 784.6,135.37 785.1,135.62 785.6,135.69 786.1,135.85 786.6,135.91 787.1,135.69 787.6,135.46 788.1,135.7 788.6,135.52 789.1,135.55 789.6,135.64 790.1,135.62 790.6,135.58 791.1,135.56 791.6,135.63 792.1,135.94 792.6,135.79 793.1,135.89 793.6,136.05 794.1,135.88 794.6,135.8 795.1,136.05 795.6,136.26 796.1,136.41 796.6,136.3 797.1,136.53 797.6,136.65 798.1,136.71 798.6,136.71 799.1,136.9 799.6,136.72 800.1,136.48 800.6,136.57 801.1,136.76 801.6,136.59 802.1,136.53 802.6,136.6 803.1,136.91 803.6,136.93 804.1,137.14 804.6,137.3 805.1,137.11 805.6,136.99 806.1,137.1 806.6,137.22 807.1,136.95 807.6,136.8 808.1,136.77 808.6,136.56 809.1,136.69 809.6,136.91 810.1,137.14 810.6,136.87 811.1,136.72 811.6,137.09 812.1,137.04 812.6,136.91 813.1,137.13 813.6,137.2 814.1,137.23 814.6,136.99" fill="none" stroke="#000" stroke-width="1.7" stroke-linejoin="round" stroke-linecap="round"/>
<polyline points="433.1,136.15 433.6,136.1 434.1,136.05 434.6,135.99 435.1,135.93 435.6,135.87 436.1,135.81 436.6,135.75 437.1,135.69 437.6,135.62 438.1,135.55 438.6,135.49 439.1,135.42 439.6,135.34 440.1,135.27 440.6,135.19 441.1,135.11 441.6,135.03 442.1,134.95 442.6,134.87 443.1,134.78 443.6,134.69 444.1,134.6 444.6,134.51 445.1,134.42 445.6,134.32 446.1,134.22 446.6,134.12 447.1,134.02 447.6,133.91 448.1,133.8 448.6,133.69 449.1,133.58 449.6,133.46 450.1,133.34 450.6,133.22 451.1,133.1 451.6,132.97 452.1,132.84 452.6,132.71 453.1,132.57 453.6,132.44 454.1,132.29 454.6,132.15 455.1,132 455.6,131.85 456.1,131.7 456.6,131.54 457.1,131.38 457.6,131.22 458.1,131.05 458.6,130.88 459.1,130.71 459.6,130.53 460.1,130.35 460.6,130.17 461.1,129.98 461.6,129.79 462.1,129.59 462.6,129.4 463.1,129.19 463.6,128.99 464.1,128.78 464.6,128.56 465.1,128.34 465.6,128.12 466.1,127.9 466.6,127.67 467.1,127.43 467.6,127.19 468.1,126.95 468.6,126.7 469.1,126.45 469.6,126.2 470.1,125.94 470.6,125.67 471.1,125.4 471.6,125.13 472.1,124.85 472.6,124.57 473.1,124.28 473.6,123.99 474.1,123.69 474.6,123.39 475.1,123.08 475.6,122.77 476.1,122.46 476.6,122.14 477.1,121.81 477.6,121.48 478.1,121.14 478.6,120.8 479.1,120.46 479.6,120.11 480.1,119.75 480.6,119.39 481.1,119.02 481.6,118.65 482.1,118.28 482.6,117.9 483.1,117.51 483.6,117.12 484.1,116.72 484.6,116.32 485.1,115.91 485.6,115.5 486.1,115.08 486.6,114.66 487.1,114.23 487.6,113.8 488.1,113.36 488.6,112.91 489.1,112.46 489.6,112.01 490.1,111.55 490.6,111.08 491.1,110.61 491.6,110.14 492.1,109.66 492.6,109.17 493.1,108.68 493.6,108.18 494.1,107.68 494.6,107.18 495.1,106.66 495.6,106.15 496.1,105.63 496.6,105.1 497.1,104.57 497.6,104.03 498.1,103.49 498.6,102.94 499.1,102.39 499.6,101.83 500.1,101.27 500.6,100.71 501.1,100.14 501.6,99.56 502.1,98.98 502.6,98.4 503.1,97.81 503.6,97.22 504.1,96.62 504.6,96.02 505.1,95.41 505.6,94.8 506.1,94.19 506.6,93.57 507.1,92.95 507.6,92.32 508.1,91.69 508.6,91.06 509.1,90.42 509.6,89.78 510.1,89.14 510.6,88.49 511.1,87.84 511.6,87.19 512.1,86.53 512.6,85.87 513.1,85.21 513.6,84.54 514.1,83.87 514.6,83.2 515.1,82.53 515.6,81.85 516.1,81.18 516.6,80.5 517.1,79.82 517.6,79.13 518.1,78.45 518.6,77.76 519.1,77.07 519.6,76.38 520.1,75.69 520.6,75 521.1,74.3 521.6,73.61 522.1,72.91 522.6,72.21 523.1,71.52 523.6,70.82 524.1,70.12 524.6,69.42 525.1,68.73 525.6,68.03 526.1,67.33 526.6,66.63 527.1,65.94 527.6,65.24 528.1,64.54 528.6,63.85 529.1,63.15 529.6,62.46 530.1,61.77 530.6,61.08 531.1,60.39 531.6,59.71 532.1,59.02 532.6,58.34 533.1,57.66 533.6,56.98 534.1,56.31 534.6,55.63 535.1,54.96 535.6,54.29 536.1,53.63 536.6,52.97 537.1,52.31 537.6,51.65 538.1,51 538.6,50.35 539.1,49.71 539.6,49.07 540.1,48.43 540.6,47.8 541.1,47.17 541.6,46.55 542.1,45.93 542.6,45.32 543.1,44.71 543.6,44.1 544.1,43.51 544.6,42.91 545.1,42.32 545.6,41.74 546.1,41.16 546.6,40.59 547.1,40.02 547.6,39.46 548.1,38.91 548.6,38.36 549.1,37.81 549.6,37.28 550.1,36.75 550.6,36.22 551.1,35.71 551.6,35.19 552.1,34.69 552.6,34.19 553.1,33.7 553.6,33.22 554.1,32.74 554.6,32.27 555.1,31.81 555.6,31.35 556.1,30.91 556.6,30.47 557.1,30.03 557.6,29.61 558.1,29.19 558.6,28.78 559.1,28.37 559.6,27.98 560.1,27.59 560.6,27.21 561.1,26.84 561.6,26.47 562.1,26.12 562.6,25.77 563.1,25.43 563.6,25.09 564.1,24.77 564.6,24.45 565.1,24.14 565.6,23.84 566.1,23.54 566.6,23.26 567.1,22.98 567.6,22.71 568.1,22.45 568.6,22.19 569.1,21.95 569.6,21.71 570.1,21.48 570.6,21.26 571.1,21.04 571.6,20.83 572.1,20.64 572.6,20.44 573.1,20.26 573.6,20.08 574.1,19.92 574.6,19.75 575.1,19.6 575.6,19.45 576.1,19.32 576.6,19.18 577.1,19.06 577.6,18.94 578.1,18.83 578.6,18.73 579.1,18.64 579.6,18.55 580.1,18.47 580.6,18.39 581.1,18.32 581.6,18.26 582.1,18.21 582.6,18.16 583.1,18.12 583.6,18.08 584.1,18.06 584.6,18.03 585.1,18.02 585.6,18.01 586.1,18 586.6,18 587.1,18.01 587.6,18.03 588.1,18.05 588.6,18.07 589.1,18.1 589.6,18.14 590.1,18.18 590.6,18.22 591.1,18.27 591.6,18.33 592.1,18.39 592.6,18.46 593.1,18.53 593.6,18.6 594.1,18.68 594.6,18.77 595.1,18.85 595.6,18.95 596.1,19.04 596.6,19.14 597.1,19.25 597.6,19.36 598.1,19.47 598.6,19.59 599.1,19.71 599.6,19.83 600.1,19.96 600.6,20.09 601.1,20.22 601.6,20.36 602.1,20.5 602.6,20.65 603.1,20.79 603.6,20.94 604.1,21.09 604.6,21.25 605.1,21.41 605.6,21.57 606.1,21.73 606.6,21.9 607.1,22.06 607.6,22.23 608.1,22.41 608.6,22.58 609.1,22.76 609.6,22.94 610.1,23.12 610.6,23.3 611.1,23.49 611.6,23.68 612.1,23.87 612.6,24.06 613.1,24.25 613.6,24.45 614.1,24.64 614.6,24.84 615.1,25.04 615.6,25.24 616.1,25.45 616.6,25.65 617.1,25.86 617.6,26.07 618.1,26.28 618.6,26.49 619.1,26.7 619.6,26.92 620.1,27.13 620.6,27.35 621.1,27.57 621.6,27.79 622.1,28.01 622.6,28.24 623.1,28.46 623.6,28.69 624.1,28.92 624.6,29.15 625.1,29.38 625.6,29.62 626.1,29.85 626.6,30.09 627.1,30.32 627.6,30.56 628.1,30.81 628.6,31.05 629.1,31.29 629.6,31.54 630.1,31.79 630.6,32.04 631.1,32.29 631.6,32.55 632.1,32.81 632.6,33.06 633.1,33.32 633.6,33.59 634.1,33.85 634.6,34.12 635.1,34.39 635.6,34.66 636.1,34.93 636.6,35.21 637.1,35.49 637.6,35.77 638.1,36.06 638.6,36.34 639.1,36.63 639.6,36.93 640.1,37.22 640.6,37.52 641.1,37.82 641.6,38.12 642.1,38.43 642.6,38.74 643.1,39.05 643.6,39.37 644.1,39.69 644.6,40.01 645.1,40.34 645.6,40.67 646.1,41 646.6,41.34 647.1,41.68 647.6,42.03 648.1,42.38 648.6,42.73 649.1,43.09 649.6,43.45 650.1,43.81 650.6,44.18 651.1,44.55 651.6,44.93 652.1,45.31 652.6,45.69 653.1,46.08 653.6,46.48 654.1,46.88 654.6,47.28 655.1,47.69 655.6,48.1 656.1,48.51 656.6,48.93 657.1,49.36 657.6,49.79 658.1,50.22 658.6,50.66 659.1,51.1 659.6,51.55 660.1,52 660.6,52.45 661.1,52.91 661.6,53.38 662.1,53.84 662.6,54.32 663.1,54.79 663.6,55.27 664.1,55.75 664.6,56.24 665.1,56.73 665.6,57.22 666.1,57.72 666.6,58.22 667.1,58.72 667.6,59.22 668.1,59.73 668.6,60.24 669.1,60.75 669.6,61.26 670.1,61.77 670.6,62.29 671.1,62.8 671.6,63.32 672.1,63.84 672.6,64.36 673.1,64.88 673.6,65.4 674.1,65.92 674.6,66.44 675.1,66.96 675.6,67.47 676.1,67.99 676.6,68.51 677.1,69.03 677.6,69.55 678.1,70.06 678.6,70.58 679.1,71.09 679.6,71.6 680.1,72.12 680.6,72.63 681.1,73.14 681.6,73.65 682.1,74.16 682.6,74.67 683.1,75.18 683.6,75.68 684.1,76.19 684.6,76.7 685.1,77.2 685.6,77.71 686.1,78.21 686.6,78.71 687.1,79.22 687.6,79.72 688.1,80.22 688.6,80.73 689.1,81.23 689.6,81.73 690.1,82.24 690.6,82.74 691.1,83.24 691.6,83.74 692.1,84.24 692.6,84.75 693.1,85.25 693.6,85.75 694.1,86.25 694.6,86.75 695.1,87.26 695.6,87.76 696.1,88.26 696.6,88.76 697.1,89.26 697.6,89.76 698.1,90.26 698.6,90.76 699.1,91.26 699.6,91.76 700.1,92.26 700.6,92.75 701.1,93.25 701.6,93.75 702.1,94.24 702.6,94.73 703.1,95.23 703.6,95.72 704.1,96.21 704.6,96.7 705.1,97.19 705.6,97.67 706.1,98.16 706.6,98.64 707.1,99.12 707.6,99.6 708.1,100.08 708.6,100.56 709.1,101.03 709.6,101.51 710.1,101.98 710.6,102.45 711.1,102.91 711.6,103.38 712.1,103.84 712.6,104.3 713.1,104.76 713.6,105.21 714.1,105.66 714.6,106.11 715.1,106.56 715.6,107 716.1,107.44 716.6,107.88 717.1,108.32 717.6,108.75 718.1,109.18 718.6,109.61 719.1,110.03 719.6,110.45 720.1,110.87 720.6,111.28 721.1,111.69 721.6,112.1 722.1,112.5 722.6,112.9 723.1,113.3 723.6,113.69 724.1,114.08 724.6,114.46 725.1,114.85 725.6,115.23 726.1,115.6 726.6,115.97 727.1,116.34 727.6,116.7 728.1,117.06 728.6,117.42 729.1,117.77 729.6,118.12 730.1,118.47 730.6,118.81 731.1,119.15 731.6,119.48 732.1,119.81 732.6,120.14 733.1,120.46 733.6,120.78 734.1,121.09 734.6,121.4 735.1,121.71 735.6,122.01 736.1,122.31 736.6,122.61 737.1,122.9 737.6,123.18 738.1,123.47 738.6,123.75 739.1,124.02 739.6,124.3 740.1,124.56 740.6,124.83 741.1,125.09 741.6,125.35 742.1,125.6 742.6,125.85 743.1,126.1 743.6,126.34 744.1,126.58 744.6,126.81 745.1,127.05 745.6,127.27 746.1,127.5 746.6,127.72 747.1,127.94 747.6,128.15 748.1,128.36 748.6,128.57 749.1,128.77 749.6,128.97 750.1,129.17 750.6,129.36 751.1,129.55 751.6,129.74 752.1,129.92 752.6,130.1 753.1,130.28 753.6,130.45 754.1,130.62 754.6,130.79 755.1,130.96 755.6,131.12 756.1,131.28 756.6,131.43 757.1,131.58 757.6,131.73 758.1,131.88 758.6,132.03 759.1,132.17 759.6,132.31 760.1,132.44 760.6,132.58 761.1,132.71 761.6,132.83 762.1,132.96 762.6,133.08 763.1,133.2 763.6,133.32 764.1,133.44 764.6,133.55 765.1,133.66 765.6,133.77 766.1,133.88 766.6,133.98 767.1,134.08 767.6,134.18 768.1,134.28 768.6,134.37 769.1,134.47 769.6,134.56 770.1,134.65 770.6,134.73 771.1,134.82 771.6,134.9 772.1,134.98 772.6,135.06 773.1,135.14 773.6,135.21 774.1,135.29 774.6,135.36 775.1,135.43 775.6,135.5 776.1,135.57 776.6,135.63 777.1,135.7 777.6,135.76 778.1,135.82 778.6,135.88 779.1,135.94 779.6,135.99 780.1,136.05 780.6,136.1 781.1,136.16 781.6,136.21 782.1,136.26 782.6,136.3 783.1,136.35 783.6,136.4 784.1,136.44 784.6,136.49 785.1,136.53 785.6,136.57 786.1,136.61 786.6,136.65 787.1,136.69 787.6,136.72 788.1,136.76 788.6,136.8 789.1,136.83 789.6,136.86 790.1,136.9 790.6,136.93 791.1,136.96 791.6,136.99 792.1,137.02 792.6,137.04 793.1,137.07 793.6,137.1 794.1,137.12 794.6,137.15 795.1,137.17 795.6,137.2 796.1,137.22 796.6,137.24 797.1,137.26 797.6,137.28 798.1,137.3 798.6,137.32 799.1,137.34 799.6,137.36 800.1,137.38 800.6,137.4 801.1,137.41 801.6,137.43 802.1,137.45 802.6,137.46 803.1,137.48 803.6,137.49 804.1,137.51 804.6,137.52 805.1,137.53 805.6,137.55 806.1,137.56 806.6,137.57 807.1,137.58 807.6,137.59 808.1,137.6 808.6,137.61 809.1,137.62 809.6,137.63 810.1,137.64 810.6,137.65 811.1,137.66 811.6,137.67 812.1,137.68 812.6,137.69 813.1,137.69 813.6,137.7 814.1,137.71 814.6,137.72" fill="none" stroke="#ff0000" stroke-width="1.7" stroke-linejoin="round" stroke-linecap="round"/>
<polyline points="433.1,136.16 433.6,136.1 434.1,136.05 434.6,135.99 435.1,135.93 435.6,135.87 436.1,135.81 436.6,135.75 437.1,135.69 437.6,135.62 438.1,135.56 438.6,135.49 439.1,135.42 439.6,135.34 440.1,135.27 440.6,135.19 441.1,135.12 441.6,135.04 442.1,134.95 442.6,134.87 443.1,134.78 443.6,134.7 444.1,134.61 444.6,134.51 445.1,134.42 445.6,134.32 446.1,134.22 446.6,134.12 447.1,134.02 447.6,133.91 448.1,133.81 448.6,133.69 449.1,133.58 449.6,133.47 450.1,133.35 450.6,133.23 451.1,133.1 451.6,132.98 452.1,132.85 452.6,132.71 453.1,132.58 453.6,132.44 454.1,132.3 454.6,132.16 455.1,132.01 455.6,131.86 456.1,131.71 456.6,131.55 457.1,131.39 457.6,131.23 458.1,131.06 458.6,130.89 459.1,130.72 459.6,130.54 460.1,130.36 460.6,130.18 461.1,129.99 461.6,129.8 462.1,129.6 462.6,129.41 463.1,129.2 463.6,129 464.1,128.79 464.6,128.58 465.1,128.36 465.6,128.14 466.1,127.91 466.6,127.68 467.1,127.45 467.6,127.21 468.1,126.97 468.6,126.72 469.1,126.47 469.6,126.22 470.1,125.96 470.6,125.69 471.1,125.42 471.6,125.15 472.1,124.87 472.6,124.59 473.1,124.31 473.6,124.02 474.1,123.72 474.6,123.42 475.1,123.11 475.6,122.8 476.1,122.49 476.6,122.17 477.1,121.85 477.6,121.52 478.1,121.18 478.6,120.85 479.1,120.5 479.6,120.15 480.1,119.8 480.6,119.44 481.1,119.08 481.6,118.71 482.1,118.33 482.6,117.96 483.1,117.57 483.6,117.18 484.1,116.79 484.6,116.39 485.1,115.98 485.6,115.57 486.1,115.16 486.6,114.74 487.1,114.32 487.6,113.89 488.1,113.45 488.6,113.01 489.1,112.56 489.6,112.11 490.1,111.66 490.6,111.2 491.1,110.73 491.6,110.26 492.1,109.78 492.6,109.3 493.1,108.82 493.6,108.33 494.1,107.83 494.6,107.33 495.1,106.82 495.6,106.31 496.1,105.8 496.6,105.28 497.1,104.75 497.6,104.22 498.1,103.69 498.6,103.15 499.1,102.6 499.6,102.06 500.1,101.5 500.6,100.95 501.1,100.39 501.6,99.82 502.1,99.25 502.6,98.67 503.1,98.1 503.6,97.51 504.1,96.93 504.6,96.34 505.1,95.74 505.6,95.15 506.1,94.54 506.6,93.94 507.1,93.33 507.6,92.72 508.1,92.1 508.6,91.48 509.1,90.86 509.6,90.24 510.1,89.61 510.6,88.98 511.1,88.35 511.6,87.71 512.1,87.07 512.6,86.43 513.1,85.79 513.6,85.14 514.1,84.49 514.6,83.84 515.1,83.19 515.6,82.54 516.1,81.88 516.6,81.23 517.1,80.57 517.6,79.91 518.1,79.25 518.6,78.59 519.1,77.93 519.6,77.27 520.1,76.61 520.6,75.94 521.1,75.28 521.6,74.62 522.1,73.95 522.6,73.29 523.1,72.63 523.6,71.96 524.1,71.3 524.6,70.64 525.1,69.98 525.6,69.32 526.1,68.67 526.6,68.01 527.1,67.36 527.6,66.7 528.1,66.05 528.6,65.4 529.1,64.76 529.6,64.11 530.1,63.47 530.6,62.83 531.1,62.2 531.6,61.57 532.1,60.94 532.6,60.31 533.1,59.69 533.6,59.07 534.1,58.46 534.6,57.85 535.1,57.24 535.6,56.64 536.1,56.04 536.6,55.45 537.1,54.86 537.6,54.28 538.1,53.7 538.6,53.13 539.1,52.56 539.6,52 540.1,51.45 540.6,50.9 541.1,50.35 541.6,49.82 542.1,49.29 542.6,48.77 543.1,48.25 543.6,47.74 544.1,47.24 544.6,46.74 545.1,46.26 545.6,45.78 546.1,45.31 546.6,44.84 547.1,44.39 547.6,43.94 548.1,43.5 548.6,43.07 549.1,42.65 549.6,42.23 550.1,41.83 550.6,41.43 551.1,41.04 551.6,40.67 552.1,40.3 552.6,39.94 553.1,39.59 553.6,39.25 554.1,38.92 554.6,38.6 555.1,38.29 555.6,37.99 556.1,37.7 556.6,37.43 557.1,37.16 557.6,36.9 558.1,36.65 558.6,36.41 559.1,36.19 559.6,35.97 560.1,35.77 560.6,35.57 561.1,35.39 561.6,35.22 562.1,35.06 562.6,34.91 563.1,34.77 563.6,34.64 564.1,34.53 564.6,34.42 565.1,34.33 565.6,34.25 566.1,34.18 566.6,34.12 567.1,34.07 567.6,34.04 568.1,34.01 568.6,34 569.1,34 569.6,34.01 570.1,34.03 570.6,34.07 571.1,34.11 571.6,34.17 572.1,34.24 572.6,34.31 573.1,34.41 573.6,34.51 574.1,34.62 574.6,34.75 575.1,34.88 575.6,35.03 576.1,35.19 576.6,35.36 577.1,35.54 577.6,35.73 578.1,35.93 578.6,36.14 579.1,36.37 579.6,36.6 580.1,36.85 580.6,37.1 581.1,37.37 581.6,37.65 582.1,37.94 582.6,38.23 583.1,38.54 583.6,38.86 584.1,39.19 584.6,39.52 585.1,39.87 585.6,40.23 586.1,40.59 586.6,40.97 587.1,41.35 587.6,41.75 588.1,42.15 588.6,42.56 589.1,42.98 589.6,43.41 590.1,43.85 590.6,44.3 591.1,44.75 591.6,45.21 592.1,45.68 592.6,46.16 593.1,46.65 593.6,47.14 594.1,47.64 594.6,48.15 595.1,48.66 595.6,49.18 596.1,49.71 596.6,50.25 597.1,50.79 597.6,51.34 598.1,51.89 598.6,52.45 599.1,53.01 599.6,53.58 600.1,54.16 600.6,54.74 601.1,55.33 601.6,55.92 602.1,56.52 602.6,57.12 603.1,57.72 603.6,58.33 604.1,58.95 604.6,59.57 605.1,60.19 605.6,60.81 606.1,61.44 606.6,62.07 607.1,62.71 607.6,63.35 608.1,63.99 608.6,64.63 609.1,65.28 609.6,65.92 610.1,66.57 610.6,67.23 611.1,67.88 611.6,68.54 612.1,69.19 612.6,69.85 613.1,70.51 613.6,71.17 614.1,71.83 614.6,72.49 615.1,73.16 615.6,73.82 616.1,74.48 616.6,75.15 617.1,75.81 617.6,76.47 618.1,77.14 618.6,77.8 619.1,78.46 619.6,79.12 620.1,79.78 620.6,80.44 621.1,81.1 621.6,81.75 622.1,82.41 622.6,83.06 623.1,83.71 623.6,84.36 624.1,85.01 624.6,85.66 625.1,86.3 625.6,86.94 626.1,87.58 626.6,88.22 627.1,88.85 627.6,89.48 628.1,90.11 628.6,90.74 629.1,91.36 629.6,91.98 630.1,92.6 630.6,93.21 631.1,93.82 631.6,94.42 632.1,95.03 632.6,95.62 633.1,96.22 633.6,96.81 634.1,97.4 634.6,97.98 635.1,98.56 635.6,99.13 636.1,99.71 636.6,100.27 637.1,100.83 637.6,101.39 638.1,101.95 638.6,102.5 639.1,103.04 639.6,103.58 640.1,104.12 640.6,104.65 641.1,105.17 641.6,105.69 642.1,106.21 642.6,106.72 643.1,107.23 643.6,107.73 644.1,108.23 644.6,108.72 645.1,109.21 645.6,109.69 646.1,110.17 646.6,110.64 647.1,111.1 647.6,111.57 648.1,112.02 648.6,112.47 649.1,112.92 649.6,113.36 650.1,113.8 650.6,114.23 651.1,114.66 651.6,115.08 652.1,115.49 652.6,115.9 653.1,116.31 653.6,116.71 654.1,117.1 654.6,117.49 655.1,117.88 655.6,118.26 656.1,118.63 656.6,119 657.1,119.37 657.6,119.73 658.1,120.08 658.6,120.43 659.1,120.78 659.6,121.12 660.1,121.45 660.6,121.78 661.1,122.11 661.6,122.43 662.1,122.74 662.6,123.05 663.1,123.36 663.6,123.66 664.1,123.96 664.6,124.25 665.1,124.54 665.6,124.82 666.1,125.1 666.6,125.37 667.1,125.64 667.6,125.9 668.1,126.16 668.6,126.42 669.1,126.67 669.6,126.92 670.1,127.16 670.6,127.4 671.1,127.63 671.6,127.86 672.1,128.09 672.6,128.31 673.1,128.53 673.6,128.75 674.1,128.96 674.6,129.16 675.1,129.37 675.6,129.57 676.1,129.76 676.6,129.95 677.1,130.14 677.6,130.32 678.1,130.5 678.6,130.68 679.1,130.86 679.6,131.03 680.1,131.19 680.6,131.36 681.1,131.52 681.6,131.67 682.1,131.83 682.6,131.98 683.1,132.13 683.6,132.27 684.1,132.41 684.6,132.55 685.1,132.69 685.6,132.82 686.1,132.95 686.6,133.08 687.1,133.2 687.6,133.32 688.1,133.44 688.6,133.56 689.1,133.67 689.6,133.78 690.1,133.89 690.6,134 691.1,134.1 691.6,134.2 692.1,134.3 692.6,134.4 693.1,134.5 693.6,134.59 694.1,134.68 694.6,134.77 695.1,134.85 695.6,134.94 696.1,135.02 696.6,135.1 697.1,135.18 697.6,135.25 698.1,135.33 698.6,135.4 699.1,135.47 699.6,135.54 700.1,135.61 700.6,135.68 701.1,135.74 701.6,135.8 702.1,135.86 702.6,135.92 703.1,135.98 703.6,136.04 704.1,136.09 704.6,136.14 705.1,136.2 705.6,136.25 706.1,136.3 706.6,136.34 707.1,136.39 707.6,136.44 708.1,136.48 708.6,136.52 709.1,136.57 709.6,136.61 710.1,136.65 710.6,136.69 711.1,136.72 711.6,136.76 712.1,136.8 712.6,136.83 713.1,136.86 713.6,136.9 714.1,136.93 714.6,136.96 715.1,136.99 715.6,137.02 716.1,137.05 716.6,137.07 717.1,137.1 717.6,137.13 718.1,137.15 718.6,137.18 719.1,137.2 719.6,137.22 720.1,137.24 720.6,137.27 721.1,137.29 721.6,137.31 722.1,137.33 722.6,137.35 723.1,137.37 723.6,137.38 724.1,137.4 724.6,137.42 725.1,137.43 725.6,137.45 726.1,137.47 726.6,137.48 727.1,137.49 727.6,137.51 728.1,137.52 728.6,137.54 729.1,137.55 729.6,137.56 730.1,137.57 730.6,137.58 731.1,137.59 731.6,137.61 732.1,137.62 732.6,137.63 733.1,137.64 733.6,137.65 734.1,137.65 734.6,137.66 735.1,137.67 735.6,137.68 736.1,137.69 736.6,137.7 737.1,137.7 737.6,137.71 738.1,137.72 738.6,137.72 739.1,137.73 739.6,137.74 740.1,137.74 740.6,137.75 741.1,137.75 741.6,137.76 742.1,137.77 742.6,137.77 743.1,137.78 743.6,137.78 744.1,137.78 744.6,137.79 745.1,137.79 745.6,137.8 746.1,137.8 746.6,137.81 747.1,137.81 747.6,137.81 748.1,137.82 748.6,137.82 749.1,137.82 749.6,137.83 750.1,137.83 750.6,137.83 751.1,137.83 751.6,137.84 752.1,137.84 752.6,137.84 753.1,137.84 753.6,137.85 754.1,137.85 754.6,137.85 755.1,137.85 755.6,137.85 756.1,137.86 756.6,137.86 757.1,137.86 757.6,137.86 758.1,137.86 758.6,137.86 759.1,137.87 759.6,137.87 760.1,137.87 760.6,137.87 761.1,137.87 761.6,137.87 762.1,137.87 762.6,137.87 763.1,137.88 763.6,137.88 764.1,137.88 764.6,137.88 765.1,137.88 765.6,137.88 766.1,137.88 766.6,137.88 767.1,137.88 767.6,137.88 768.1,137.88 768.6,137.88 769.1,137.89 769.6,137.89 770.1,137.89 770.6,137.89 771.1,137.89 771.6,137.89 772.1,137.89 772.6,137.89 773.1,137.89 773.6,137.89 774.1,137.89 774.6,137.89 775.1,137.89 775.6,137.89 776.1,137.89 776.6,137.89 777.1,137.89 777.6,137.89 778.1,137.89 778.6,137.89 779.1,137.89 779.6,137.89 780.1,137.89 780.6,137.89 781.1,137.9 781.6,137.9 782.1,137.9 782.6,137.9 783.1,137.9 783.6,137.9 784.1,137.9 784.6,137.9 785.1,137.9 785.6,137.9 786.1,137.9 786.6,137.9 787.1,137.9 787.6,137.9 788.1,137.9 788.6,137.9 789.1,137.9 789.6,137.9 790.1,137.9 790.6,137.9 791.1,137.9 791.6,137.9 792.1,137.9 792.6,137.9 793.1,137.9 793.6,137.9 794.1,137.9 794.6,137.9 795.1,137.9 795.6,137.9 796.1,137.9 796.6,137.9 797.1,137.9 797.6,137.9 798.1,137.9 798.6,137.9 799.1,137.9 799.6,137.9 800.1,137.9 800.6,137.9 801.1,137.9 801.6,137.9 802.1,137.9 802.6,137.9 803.1,137.9 803.6,137.9 804.1,137.9 804.6,137.9 805.1,137.9 805.6,137.9 806.1,137.9 806.6,137.9 807.1,137.9 807.6,137.9 808.1,137.9 808.6,137.9 809.1,137.9 809.6,137.9 810.1,137.9 810.6,137.9 811.1,137.9 811.6,137.9 812.1,137.9 812.6,137.9 813.1,137.9 813.6,137.9 814.1,137.9 814.6,137.9" fill="none" stroke="#00f000" stroke-width="1.7" stroke-linejoin="round" stroke-linecap="round"/>
<polyline points="433.1,137.9 433.6,137.9 434.1,137.9 434.6,137.9 435.1,137.9 435.6,137.9 436.1,137.9 436.6,137.9 437.1,137.9 437.6,137.9 438.1,137.9 438.6,137.9 439.1,137.9 439.6,137.9 440.1,137.9 440.6,137.9 441.1,137.9 441.6,137.9 442.1,137.9 442.6,137.9 443.1,137.9 443.6,137.9 444.1,137.9 444.6,137.9 445.1,137.9 445.6,137.9 446.1,137.9 446.6,137.9 447.1,137.9 447.6,137.9 448.1,137.9 448.6,137.9 449.1,137.9 449.6,137.9 450.1,137.9 450.6,137.9 451.1,137.9 451.6,137.9 452.1,137.9 452.6,137.9 453.1,137.9 453.6,137.9 454.1,137.9 454.6,137.9 455.1,137.89 455.6,137.89 456.1,137.89 456.6,137.89 457.1,137.89 457.6,137.89 458.1,137.89 458.6,137.89 459.1,137.89 459.6,137.89 460.1,137.89 460.6,137.89 461.1,137.89 461.6,137.89 462.1,137.89 462.6,137.89 463.1,137.89 463.6,137.89 464.1,137.89 464.6,137.89 465.1,137.89 465.6,137.89 466.1,137.89 466.6,137.88 467.1,137.88 467.6,137.88 468.1,137.88 468.6,137.88 469.1,137.88 469.6,137.88 470.1,137.88 470.6,137.88 471.1,137.88 471.6,137.88 472.1,137.88 472.6,137.87 473.1,137.87 473.6,137.87 474.1,137.87 474.6,137.87 475.1,137.87 475.6,137.87 476.1,137.87 476.6,137.86 477.1,137.86 477.6,137.86 478.1,137.86 478.6,137.86 479.1,137.86 479.6,137.85 480.1,137.85 480.6,137.85 481.1,137.85 481.6,137.85 482.1,137.84 482.6,137.84 483.1,137.84 483.6,137.84 484.1,137.83 484.6,137.83 485.1,137.83 485.6,137.82 486.1,137.82 486.6,137.82 487.1,137.81 487.6,137.81 488.1,137.81 488.6,137.8 489.1,137.8 489.6,137.8 490.1,137.79 490.6,137.79 491.1,137.78 491.6,137.78 492.1,137.77 492.6,137.77 493.1,137.76 493.6,137.76 494.1,137.75 494.6,137.75 495.1,137.74 495.6,137.73 496.1,137.73 496.6,137.72 497.1,137.71 497.6,137.71 498.1,137.7 498.6,137.69 499.1,137.68 499.6,137.68 500.1,137.67 500.6,137.66 501.1,137.65 501.6,137.64 502.1,137.63 502.6,137.62 503.1,137.61 503.6,137.6 504.1,137.59 504.6,137.58 505.1,137.57 505.6,137.56 506.1,137.54 506.6,137.53 507.1,137.52 507.6,137.5 508.1,137.49 508.6,137.47 509.1,137.46 509.6,137.44 510.1,137.43 510.6,137.41 511.1,137.39 511.6,137.38 512.1,137.36 512.6,137.34 513.1,137.32 513.6,137.3 514.1,137.28 514.6,137.26 515.1,137.24 515.6,137.22 516.1,137.19 516.6,137.17 517.1,137.14 517.6,137.12 518.1,137.09 518.6,137.07 519.1,137.04 519.6,137.01 520.1,136.98 520.6,136.95 521.1,136.92 521.6,136.89 522.1,136.86 522.6,136.82 523.1,136.79 523.6,136.75 524.1,136.72 524.6,136.68 525.1,136.64 525.6,136.6 526.1,136.56 526.6,136.52 527.1,136.48 527.6,136.43 528.1,136.39 528.6,136.34 529.1,136.3 529.6,136.25 530.1,136.2 530.6,136.15 531.1,136.09 531.6,136.04 532.1,135.98 532.6,135.93 533.1,135.87 533.6,135.81 534.1,135.75 534.6,135.69 535.1,135.62 535.6,135.56 536.1,135.49 536.6,135.42 537.1,135.35 537.6,135.28 538.1,135.2 538.6,135.13 539.1,135.05 539.6,134.97 540.1,134.89 540.6,134.81 541.1,134.72 541.6,134.63 542.1,134.54 542.6,134.45 543.1,134.36 543.6,134.26 544.1,134.17 544.6,134.07 545.1,133.97 545.6,133.86 546.1,133.76 546.6,133.65 547.1,133.54 547.6,133.42 548.1,133.31 548.6,133.19 549.1,133.07 549.6,132.94 550.1,132.82 550.6,132.69 551.1,132.56 551.6,132.43 552.1,132.29 552.6,132.15 553.1,132.01 553.6,131.87 554.1,131.72 554.6,131.57 555.1,131.42 555.6,131.26 556.1,131.1 556.6,130.94 557.1,130.78 557.6,130.61 558.1,130.44 558.6,130.26 559.1,130.09 559.6,129.91 560.1,129.72 560.6,129.54 561.1,129.35 561.6,129.15 562.1,128.96 562.6,128.76 563.1,128.55 563.6,128.35 564.1,128.14 564.6,127.92 565.1,127.71 565.6,127.49 566.1,127.26 566.6,127.04 567.1,126.81 567.6,126.57 568.1,126.33 568.6,126.09 569.1,125.85 569.6,125.6 570.1,125.35 570.6,125.09 571.1,124.83 571.6,124.57 572.1,124.3 572.6,124.03 573.1,123.75 573.6,123.48 574.1,123.19 574.6,122.91 575.1,122.62 575.6,122.33 576.1,122.03 576.6,121.73 577.1,121.42 577.6,121.11 578.1,120.8 578.6,120.49 579.1,120.17 579.6,119.84 580.1,119.52 580.6,119.19 581.1,118.85 581.6,118.51 582.1,118.17 582.6,117.83 583.1,117.48 583.6,117.13 584.1,116.77 584.6,116.41 585.1,116.05 585.6,115.68 586.1,115.31 586.6,114.94 587.1,114.56 587.6,114.18 588.1,113.79 588.6,113.41 589.1,113.02 589.6,112.62 590.1,112.22 590.6,111.82 591.1,111.42 591.6,111.01 592.1,110.61 592.6,110.19 593.1,109.78 593.6,109.36 594.1,108.94 594.6,108.52 595.1,108.09 595.6,107.66 596.1,107.23 596.6,106.8 597.1,106.36 597.6,105.92 598.1,105.48 598.6,105.04 599.1,104.59 599.6,104.14 600.1,103.69 600.6,103.24 601.1,102.79 601.6,102.34 602.1,101.88 602.6,101.42 603.1,100.96 603.6,100.5 604.1,100.04 604.6,99.58 605.1,99.11 605.6,98.65 606.1,98.18 606.6,97.71 607.1,97.25 607.6,96.78 608.1,96.31 608.6,95.84 609.1,95.37 609.6,94.9 610.1,94.43 610.6,93.96 611.1,93.49 611.6,93.03 612.1,92.56 612.6,92.09 613.1,91.62 613.6,91.16 614.1,90.69 614.6,90.23 615.1,89.76 615.6,89.3 616.1,88.84 616.6,88.38 617.1,87.92 617.6,87.47 618.1,87.01 618.6,86.56 619.1,86.11 619.6,85.66 620.1,85.21 620.6,84.77 621.1,84.33 621.6,83.89 622.1,83.46 622.6,83.03 623.1,82.6 623.6,82.17 624.1,81.75 624.6,81.33 625.1,80.92 625.6,80.5 626.1,80.1 626.6,79.69 627.1,79.29 627.6,78.9 628.1,78.51 628.6,78.12 629.1,77.74 629.6,77.36 630.1,76.99 630.6,76.62 631.1,76.26 631.6,75.9 632.1,75.55 632.6,75.2 633.1,74.86 633.6,74.53 634.1,74.2 634.6,73.87 635.1,73.56 635.6,73.24 636.1,72.94 636.6,72.64 637.1,72.35 637.6,72.06 638.1,71.78 638.6,71.51 639.1,71.24 639.6,70.98 640.1,70.73 640.6,70.48 641.1,70.24 641.6,70.01 642.1,69.79 642.6,69.57 643.1,69.36 643.6,69.16 644.1,68.97 644.6,68.78 645.1,68.6 645.6,68.43 646.1,68.27 646.6,68.11 647.1,67.96 647.6,67.82 648.1,67.69 648.6,67.57 649.1,67.45 649.6,67.34 650.1,67.24 650.6,67.15 651.1,67.07 651.6,67 652.1,66.93 652.6,66.87 653.1,66.82 653.6,66.78 654.1,66.75 654.6,66.72 655.1,66.71 655.6,66.7 656.1,66.7 656.6,66.71 657.1,66.73 657.6,66.75 658.1,66.79 658.6,66.83 659.1,66.88 659.6,66.94 660.1,67.01 660.6,67.09 661.1,67.17 661.6,67.26 662.1,67.36 662.6,67.47 663.1,67.59 663.6,67.72 664.1,67.85 664.6,67.99 665.1,68.14 665.6,68.3 666.1,68.46 666.6,68.64 667.1,68.82 667.6,69 668.1,69.2 668.6,69.4 669.1,69.61 669.6,69.83 670.1,70.06 670.6,70.29 671.1,70.53 671.6,70.78 672.1,71.03 672.6,71.29 673.1,71.56 673.6,71.84 674.1,72.12 674.6,72.4 675.1,72.7 675.6,73 676.1,73.31 676.6,73.62 677.1,73.94 677.6,74.26 678.1,74.59 678.6,74.93 679.1,75.27 679.6,75.62 680.1,75.97 680.6,76.33 681.1,76.69 681.6,77.06 682.1,77.44 682.6,77.81 683.1,78.2 683.6,78.58 684.1,78.98 684.6,79.37 685.1,79.77 685.6,80.18 686.1,80.59 686.6,81 687.1,81.41 687.6,81.83 688.1,82.26 688.6,82.68 689.1,83.11 689.6,83.54 690.1,83.98 690.6,84.42 691.1,84.86 691.6,85.3 692.1,85.75 692.6,86.2 693.1,86.65 693.6,87.1 694.1,87.56 694.6,88.01 695.1,88.47 695.6,88.93 696.1,89.39 696.6,89.85 697.1,90.32 697.6,90.78 698.1,91.25 698.6,91.72 699.1,92.18 699.6,92.65 700.1,93.12 700.6,93.59 701.1,94.06 701.6,94.53 702.1,95 702.6,95.47 703.1,95.94 703.6,96.4 704.1,96.87 704.6,97.34 705.1,97.81 705.6,98.27 706.1,98.74 706.6,99.21 707.1,99.67 707.6,100.13 708.1,100.59 708.6,101.05 709.1,101.51 709.6,101.97 710.1,102.43 710.6,102.88 711.1,103.33 711.6,103.78 712.1,104.23 712.6,104.68 713.1,105.12 713.6,105.57 714.1,106.01 714.6,106.45 715.1,106.88 715.6,107.32 716.1,107.75 716.6,108.17 717.1,108.6 717.6,109.02 718.1,109.44 718.6,109.86 719.1,110.28 719.6,110.69 720.1,111.1 720.6,111.5 721.1,111.9 721.6,112.3 722.1,112.7 722.6,113.09 723.1,113.48 723.6,113.87 724.1,114.25 724.6,114.63 725.1,115.01 725.6,115.38 726.1,115.75 726.6,116.12 727.1,116.48 727.6,116.84 728.1,117.2 728.6,117.55 729.1,117.9 729.6,118.24 730.1,118.58 730.6,118.92 731.1,119.25 731.6,119.58 732.1,119.91 732.6,120.23 733.1,120.55 733.6,120.87 734.1,121.18 734.6,121.48 735.1,121.79 735.6,122.09 736.1,122.38 736.6,122.68 737.1,122.97 737.6,123.25 738.1,123.53 738.6,123.81 739.1,124.08 739.6,124.35 740.1,124.62 740.6,124.88 741.1,125.14 741.6,125.4 742.1,125.65 742.6,125.9 743.1,126.14 743.6,126.38 744.1,126.62 744.6,126.85 745.1,127.08 745.6,127.31 746.1,127.53 746.6,127.75 747.1,127.97 747.6,128.18 748.1,128.39 748.6,128.59 749.1,128.8 749.6,129 750.1,129.19 750.6,129.38 751.1,129.57 751.6,129.76 752.1,129.94 752.6,130.12 753.1,130.3 753.6,130.47 754.1,130.64 754.6,130.81 755.1,130.97 755.6,131.13 756.1,131.29 756.6,131.45 757.1,131.6 757.6,131.75 758.1,131.89 758.6,132.04 759.1,132.18 759.6,132.32 760.1,132.45 760.6,132.59 761.1,132.72 761.6,132.84 762.1,132.97 762.6,133.09 763.1,133.21 763.6,133.33 764.1,133.45 764.6,133.56 765.1,133.67 765.6,133.78 766.1,133.88 766.6,133.99 767.1,134.09 767.6,134.19 768.1,134.28 768.6,134.38 769.1,134.47 769.6,134.56 770.1,134.65 770.6,134.74 771.1,134.82 771.6,134.91 772.1,134.99 772.6,135.07 773.1,135.14 773.6,135.22 774.1,135.29 774.6,135.36 775.1,135.43 775.6,135.5 776.1,135.57 776.6,135.64 777.1,135.7 777.6,135.76 778.1,135.82 778.6,135.88 779.1,135.94 779.6,136 780.1,136.05 780.6,136.1 781.1,136.16 781.6,136.21 782.1,136.26 782.6,136.31 783.1,136.35 783.6,136.4 784.1,136.44 784.6,136.49 785.1,136.53 785.6,136.57 786.1,136.61 786.6,136.65 787.1,136.69 787.6,136.73 788.1,136.76 788.6,136.8 789.1,136.83 789.6,136.86 790.1,136.9 790.6,136.93 791.1,136.96 791.6,136.99 792.1,137.02 792.6,137.04 793.1,137.07 793.6,137.1 794.1,137.12 794.6,137.15 795.1,137.17 795.6,137.2 796.1,137.22 796.6,137.24 797.1,137.26 797.6,137.28 798.1,137.31 798.6,137.32 799.1,137.34 799.6,137.36 800.1,137.38 800.6,137.4 801.1,137.41 801.6,137.43 802.1,137.45 802.6,137.46 803.1,137.48 803.6,137.49 804.1,137.51 804.6,137.52 805.1,137.53 805.6,137.55 806.1,137.56 806.6,137.57 807.1,137.58 807.6,137.59 808.1,137.6 808.6,137.61 809.1,137.62 809.6,137.63 810.1,137.64 810.6,137.65 811.1,137.66 811.6,137.67 812.1,137.68 812.6,137.69 813.1,137.69 813.6,137.7 814.1,137.71 814.6,137.72" fill="none" stroke="#0000f5" stroke-width="1.7" stroke-linejoin="round" stroke-linecap="round"/>
<line x1="427.3" y1="137.9" x2="433.1" y2="137.9" stroke="#111" stroke-width="1.5"/>
<line x1="809" y1="137.9" x2="815" y2="137.9" stroke="#111" stroke-width="1.5"/>
<line x1="427.3" y1="103.7" x2="433.1" y2="103.7" stroke="#111" stroke-width="1.5"/>
<line x1="809" y1="103.7" x2="815" y2="103.7" stroke="#111" stroke-width="1.5"/>
<line x1="427.3" y1="69.6" x2="433.1" y2="69.6" stroke="#111" stroke-width="1.5"/>
<line x1="809" y1="69.6" x2="815" y2="69.6" stroke="#111" stroke-width="1.5"/>
<line x1="427.3" y1="35.3" x2="433.1" y2="35.3" stroke="#111" stroke-width="1.5"/>
<line x1="809" y1="35.3" x2="815" y2="35.3" stroke="#111" stroke-width="1.5"/>
<line x1="429.6" y1="121" x2="433.1" y2="121" stroke="#111" stroke-width="1.5"/>
<line x1="811.5" y1="121" x2="815" y2="121" stroke="#111" stroke-width="1.5"/>
<line x1="429.6" y1="86.6" x2="433.1" y2="86.6" stroke="#111" stroke-width="1.5"/>
<line x1="811.5" y1="86.6" x2="815" y2="86.6" stroke="#111" stroke-width="1.5"/>
<line x1="429.6" y1="52.4" x2="433.1" y2="52.4" stroke="#111" stroke-width="1.5"/>
<line x1="811.5" y1="52.4" x2="815" y2="52.4" stroke="#111" stroke-width="1.5"/>
<line x1="429.6" y1="18.1" x2="433.1" y2="18.1" stroke="#111" stroke-width="1.5"/>
<line x1="811.5" y1="18.1" x2="815" y2="18.1" stroke="#111" stroke-width="1.5"/>
<line x1="433.1" y1="140.3" x2="433.1" y2="144.6" stroke="#111" stroke-width="1.5"/>
<line x1="433.1" y1="0.6" x2="433.1" y2="5" stroke="#111" stroke-width="1.5"/>
<line x1="517.88" y1="140.3" x2="517.88" y2="144.6" stroke="#111" stroke-width="1.5"/>
<line x1="517.88" y1="0.6" x2="517.88" y2="5" stroke="#111" stroke-width="1.5"/>
<line x1="602.65" y1="140.3" x2="602.65" y2="144.6" stroke="#111" stroke-width="1.5"/>
<line x1="602.65" y1="0.6" x2="602.65" y2="5" stroke="#111" stroke-width="1.5"/>
<line x1="687.43" y1="140.3" x2="687.43" y2="144.6" stroke="#111" stroke-width="1.5"/>
<line x1="687.43" y1="0.6" x2="687.43" y2="5" stroke="#111" stroke-width="1.5"/>
<line x1="772.2" y1="140.3" x2="772.2" y2="144.6" stroke="#111" stroke-width="1.5"/>
<line x1="772.2" y1="0.6" x2="772.2" y2="5" stroke="#111" stroke-width="1.5"/>
<line x1="475.49" y1="140.3" x2="475.49" y2="142.9" stroke="#111" stroke-width="1.5"/>
<line x1="475.49" y1="0.6" x2="475.49" y2="3.2" stroke="#111" stroke-width="1.5"/>
<line x1="560.26" y1="140.3" x2="560.26" y2="142.9" stroke="#111" stroke-width="1.5"/>
<line x1="560.26" y1="0.6" x2="560.26" y2="3.2" stroke="#111" stroke-width="1.5"/>
<line x1="645.04" y1="140.3" x2="645.04" y2="142.9" stroke="#111" stroke-width="1.5"/>
<line x1="645.04" y1="0.6" x2="645.04" y2="3.2" stroke="#111" stroke-width="1.5"/>
<line x1="729.81" y1="140.3" x2="729.81" y2="142.9" stroke="#111" stroke-width="1.5"/>
<line x1="729.81" y1="0.6" x2="729.81" y2="3.2" stroke="#111" stroke-width="1.5"/>
<line x1="814.59" y1="140.3" x2="814.59" y2="142.9" stroke="#111" stroke-width="1.5"/>
<line x1="814.59" y1="0.6" x2="814.59" y2="3.2" stroke="#111" stroke-width="1.5"/>
<polyline points="433.1,0.6 433.1,140.3 815,140.3 815,0.6" fill="none" stroke="#111" stroke-width="1.5"/>
<line x1="427.3" y1="0.6" x2="815.75" y2="0.6" stroke="#222" stroke-width="1.7"/>
<text x="433.1" y="154.6" font-size="9.0" text-anchor="middle" font-weight="normal" fill="#111" textLength="15.8" lengthAdjust="spacing" stroke="#111" stroke-width="0.45">154</text>
<text x="517.88" y="154.6" font-size="9.0" text-anchor="middle" font-weight="normal" fill="#111" textLength="15.8" lengthAdjust="spacing" stroke="#111" stroke-width="0.45">156</text>
<text x="602.65" y="154.6" font-size="9.0" text-anchor="middle" font-weight="normal" fill="#111" textLength="15.8" lengthAdjust="spacing" stroke="#111" stroke-width="0.45">158</text>
<text x="687.43" y="154.6" font-size="9.0" text-anchor="middle" font-weight="normal" fill="#111" textLength="15.8" lengthAdjust="spacing" stroke="#111" stroke-width="0.45">160</text>
<text x="772.2" y="154.6" font-size="9.0" text-anchor="middle" font-weight="normal" fill="#111" textLength="15.8" lengthAdjust="spacing" stroke="#111" stroke-width="0.45">162</text>
<text x="639.2" y="167.4" font-size="10.0" text-anchor="middle" font-weight="normal" fill="#111" textLength="62.4" lengthAdjust="spacing" stroke="#111" stroke-width="0.45">Energy (eV)</text>
<text x="420" y="57.75" font-size="9.6" text-anchor="middle" font-weight="normal" fill="#111" textLength="68.3" lengthAdjust="spacing" transform="rotate(-90 420 57.75)" stroke="#111" stroke-width="0.5">Intensity (u. a.)</text>
<line x1="442.7" y1="15.8" x2="480.4" y2="15.8" stroke="#000" stroke-width="1.6"/>
<line x1="442.7" y1="31.4" x2="480.4" y2="31.4" stroke="#ff0000" stroke-width="1.6"/>
<text x="483.8" y="20.6" font-size="12.1" text-anchor="start" font-weight="normal" fill="#111" textLength="60.2" lengthAdjust="spacing" stroke="#111" stroke-width="0.45">Data Y 3d</text>
<text x="483.8" y="35.6" font-size="12.1" text-anchor="start" font-weight="normal" fill="#111" textLength="46.2" lengthAdjust="spacing" stroke="#111" stroke-width="0.45">Fit Y 3d</text>
<polyline points="22.6,306.29 23.55,307.41 24.9,305.87 26.45,307.33 28,306.36 29.55,306 31.19,307.14 32.83,305.21 34.4,304.74 35.85,305.28 37.23,305.62 38.6,304.71 40,304.81 41.45,303.43 42.92,303.52 44.4,303.08 45.9,302.18 47.43,302.23 48.98,302.36 50.52,303.96 52,304.13 53.44,304.15 54.86,304.61 56.19,303.83 57.4,304.8 58.43,305.23 59.31,305.75 60.14,305.1 61,305.99 61.9,305.52 62.81,307.25 63.71,306.48 64.6,307.1 65.46,308.92 66.29,305.88 67.13,307.48 68,306.42 68.94,305.48 69.92,305.66 70.87,305.36 71.7,304.94 72.38,303.17 72.95,302.23 73.47,301.46 74,300.49 74.54,300.39 75.06,298.91 75.57,299.39 76.1,295.81 76.65,294.99 77.2,293.44 77.75,290.9 78.3,292.15 78.83,287.21 79.36,287.09 79.88,285.41 80.4,285.01 80.92,280.27 81.44,280.61 81.97,277.24 82.5,275.52 83.05,272.98 83.6,271.74 84.15,268.72 84.7,267.42 85.23,265.18 85.75,263.66 86.27,257.72 86.8,258.19 87.34,255.43 87.89,251.57 88.45,249.6 89,246.44 89.55,245.45 90.11,242.13 90.66,239.28 91.2,236.59 91.73,234.4 92.25,232.08 92.77,229.4 93.3,229.32 93.85,224.32 94.4,220.84 94.95,221.47 95.5,219.44 96.01,218.32 96.51,216.6 97.02,215.82 97.6,214.82 98.27,214.33 99,212.48 99.76,211.74 100.5,212.93 101.19,211.36 101.86,209.76 102.58,211.76 103.4,209.95 104.38,207.96 105.46,206.67 106.59,206.77 107.7,205.01 108.81,203.74 109.93,202.75 111.02,202.76 112,203.13 112.85,201.17 113.6,199.65 114.3,200.2 115,198.8 115.69,198.15 116.36,196.96 117.02,194.71 117.7,193.75 118.41,192.7 119.14,190.97 119.87,191.49 120.6,191.12 121.32,188.96 122.05,187.51 122.77,186.07 123.5,184.8 124.24,184.33 124.98,184.02 125.71,183.39 126.4,183.8 127.03,183.09 127.62,184.68 128.2,184.83 128.8,184.77 129.45,185.56 130.12,189.22 130.78,192 131.4,192.35 131.96,194.55 132.48,196.49 132.99,199.18 133.5,200 134.02,203.38 134.54,204.4 135.07,207.32 135.6,208.8 136.13,210.59 136.65,211.89 137.2,214.73 137.8,217.66 138.48,221.49 139.21,224.81 139.96,227.63 140.7,232.22 141.42,236.27 142.15,239.31 142.87,242.95 143.6,246.41 144.33,250.63 145.06,253.46 145.78,255.32 146.5,258.98 147.2,261.18 147.9,263.55 148.6,267.83 149.3,270.3 150.02,271.41 150.74,273.98 151.47,276.26 152.2,276.99 152.94,279.42 153.69,281.86 154.42,281.3 155.1,284.23 155.7,285.58 156.24,286.52 156.78,286.46 157.4,288.76 158.12,288.91 158.9,291.1 159.71,292.2 160.5,292.9 161.28,293.22 162.06,294.28 162.83,296.28 163.6,295.55 164.35,297.3 165.1,297.78 165.85,297.8 166.6,300.01 167.35,298.16 168.11,299.83 168.88,296.99 169.7,296.75 170.58,299.37 171.51,299.24 172.46,298.85 173.4,299.65 174.33,298.7 175.25,300.08 176.18,300.23 177.1,301.17 178.03,301.94 178.95,300.89 179.87,300.63 180.8,299.6 181.73,299.58 182.65,299.66 183.58,299.17 184.5,300.31 185.43,298.62 186.35,300.18 187.28,297.45 188.2,298.95 189.12,297.45 190.05,298.99 190.97,297.44 191.9,297.44 192.83,297.93 193.75,296.85 194.68,296.15 195.6,295.19 196.54,297.27 197.49,295.71 198.42,295.28 199.3,295 200.12,296.25 200.89,292.87 201.64,293.93 202.4,292.86 203.2,292.91 204.03,290.78 204.81,291.5 205.5,291.65 206.06,291.73 206.53,290.86 206.96,288.57 207.4,288.45 207.84,287.54 208.26,285.68 208.7,284.74 209.2,285.35 209.78,284.22 210.41,282.42 211.07,281.91 211.7,278.92 212.3,278.69 212.9,276.88 213.5,275.59 214.1,274.5 214.7,272.76 215.3,271.5 215.92,269.66 216.6,269.49 217.36,266.18 218.19,265.54 219.02,263.54 219.8,261.31 220.51,260.47 221.18,257.69 221.84,257.35 222.5,254.37 223.18,253.21 223.86,252.25 224.53,251.23 225.2,249.71 225.86,248.48 226.52,246.2 227.17,244.26 227.8,243.72 228.41,242.16 229.01,239.59 229.6,239.67 230.2,237.75 230.83,235.99 231.47,236.2 232.08,234.22 232.6,233.71 232.96,234.07 233.2,231.97 233.44,232.58 233.8,230.74 234.31,231.67 234.92,229.76 235.56,229.57 236.2,227.71 236.82,227.93 237.44,228.22 238.07,227.4 238.7,225.33 239.32,227.17 239.95,227.06 240.57,226.13 241.2,227.42 241.83,225.84 242.46,226.58 243.08,227.33 243.7,227.32 244.3,227.16 244.9,224.92 245.5,224.06 246.1,225.33 246.72,223.65 247.35,224.32 247.98,223.08 248.6,224.42 249.2,223.64 249.8,222.84 250.4,221.02 251,220.15 251.62,218.94 252.24,218.72 252.87,217.73 253.5,217.25 254.12,215.94 254.75,217.43 255.38,215.86 256,216.27 256.64,215.78 257.29,213.87 257.92,212.91 258.5,214.72 259.01,213.07 259.46,213.17 259.89,212.63 260.3,212.61 260.67,211.16 260.99,211.49 261.34,210.62 261.8,211.06 262.42,209.15 263.14,211.81 263.89,211.77 264.6,210.44 265.26,211.47 265.91,212.54 266.52,213.34 267.1,213.45 267.62,214.95 268.09,214.37 268.55,214.36 269,215.32 269.44,217.17 269.86,216.98 270.3,219.18 270.8,220.41 271.38,221.29 272.01,222.98 272.67,223.4 273.3,224.56 273.9,225.17 274.5,226.17 275.1,226.77 275.7,228.84 276.32,229.72 276.95,231.17 277.58,233.81 278.2,235.84 278.8,236.72 279.4,239.46 280,240.77 280.6,242.58 281.2,242.55 281.8,243.63 282.42,246.58 283.1,248.15 283.86,250.01 284.69,251.56 285.52,253.54 286.3,254.07 287.04,256.51 287.75,256.97 288.41,257.09 289,259.92 289.46,262.25 289.82,260.77 290.18,263.6 290.6,263.1 291.13,264.15 291.71,265.71 292.31,266.78 292.9,267.12 293.47,269.28 294.04,270.49 294.62,271.88 295.2,271.72 295.8,274.22 296.4,275.45 297,276.55 297.6,274.6 298.18,276.63 298.76,275.93 299.33,278.17 299.9,279.12 300.46,278.44 301.02,278.7 301.59,280.59 302.2,281.41 302.87,280.87 303.57,281.88 304.3,280.57 305,282.27 305.68,283.29 306.35,283.79 307.02,285.15 307.7,283.64 308.39,283.36 309.09,285.98 309.8,285.69 310.5,286.74 311.2,287.41 311.91,287.92 312.61,288.92 313.3,288.95 313.98,286.76 314.65,288.34 315.32,290.08 316,288.32 316.69,289.57 317.39,288.86 318.1,288.71 318.8,290.38 319.5,289.84 320.2,288.96 320.9,289.77 321.6,287.76 322.3,288.2 323,289.33 323.7,288.49 324.4,287.47 325.1,288.37 325.81,288.08 326.51,288.83 327.2,288.31 327.88,287.38 328.55,287.14 329.22,287.26 329.9,286.98 330.59,288.11 331.29,288.18 332,287.81 332.7,287.04 333.4,286.42 334.1,287.26 334.8,286.32 335.5,286.9 336.2,285.18 336.91,285.92 337.61,286.76 338.3,284.42 338.98,283.67 339.65,284.44 340.32,285.31 341,284.7 341.7,282.78 342.4,282.61 343.1,282.79 343.8,281.68 344.49,281.88 345.18,281.06 345.86,279.99 346.5,280.63 347.1,280.3 347.67,279.19 348.23,278.82 348.8,280.25 349.41,280.73 350.03,278.46 350.64,277.92 351.2,278.2 351.69,277.68 352.13,276.72 352.56,277.64 353,275.6 353.47,275.68 353.94,275.36 354.42,274.81 354.9,274.96 355.38,275.85 355.86,276.62 356.33,276.05 356.8,275.73 357.25,274.84 357.7,276.17 358.15,275.69 358.6,276.3 359.07,277.15 359.55,276.63 360.03,276.25 360.5,276.15 360.95,276.8 361.4,276.88 361.85,276.57 362.3,277.53 362.77,278.84 363.25,277.37 363.73,278.44 364.2,278.27 364.65,280.86 365.07,280.38 365.52,280.37 366,280.56 366.54,280.63 367.12,280.78 367.71,279.41 368.3,280.95 368.86,281.66 369.42,280.44 369.99,282.63 370.6,282.64 371.27,281.35 371.98,282.66 372.7,283.32 373.4,283.24 374.09,284.09 374.78,282.76 375.46,284.01 376.1,284.42 376.7,284.88 377.28,284.29 377.83,284.04 378.4,284.81 378.97,282.86 379.55,284.94 380.12,284.3 380.7,283.57 381.27,284.28 381.84,283.56 382.42,283.7 383,285.35 383.61,285.13 384.24,286.51 384.85,285.57 385.4,285.3 385.85,285.34 386.22,287.29 386.59,285.98 387,285.51 387.52,284.82 388.1,284.65 388.63,285.25 389,285.75" fill="none" stroke="#000" stroke-width="1.5" stroke-linejoin="round" stroke-linecap="round"/>
<line x1="17.3" y1="314" x2="22.6" y2="314" stroke="#111" stroke-width="1.5"/>
<line x1="384.2" y1="314" x2="389" y2="314" stroke="#111" stroke-width="1.5"/>
<line x1="17.3" y1="286" x2="22.6" y2="286" stroke="#111" stroke-width="1.5"/>
<line x1="384.2" y1="286" x2="389" y2="286" stroke="#111" stroke-width="1.5"/>
<line x1="17.3" y1="258" x2="22.6" y2="258" stroke="#111" stroke-width="1.5"/>
<line x1="384.2" y1="258" x2="389" y2="258" stroke="#111" stroke-width="1.5"/>
<line x1="17.3" y1="230" x2="22.6" y2="230" stroke="#111" stroke-width="1.5"/>
<line x1="384.2" y1="230" x2="389" y2="230" stroke="#111" stroke-width="1.5"/>
<line x1="17.3" y1="202" x2="22.6" y2="202" stroke="#111" stroke-width="1.5"/>
<line x1="384.2" y1="202" x2="389" y2="202" stroke="#111" stroke-width="1.5"/>
<line x1="17.3" y1="174" x2="22.6" y2="174" stroke="#111" stroke-width="1.5"/>
<line x1="384.2" y1="174" x2="389" y2="174" stroke="#111" stroke-width="1.5"/>
<line x1="19" y1="300" x2="22.6" y2="300" stroke="#111" stroke-width="1.5"/>
<line x1="386.2" y1="300" x2="389" y2="300" stroke="#111" stroke-width="1.5"/>
<line x1="19" y1="272" x2="22.6" y2="272" stroke="#111" stroke-width="1.5"/>
<line x1="386.2" y1="272" x2="389" y2="272" stroke="#111" stroke-width="1.5"/>
<line x1="19" y1="244" x2="22.6" y2="244" stroke="#111" stroke-width="1.5"/>
<line x1="386.2" y1="244" x2="389" y2="244" stroke="#111" stroke-width="1.5"/>
<line x1="19" y1="216" x2="22.6" y2="216" stroke="#111" stroke-width="1.5"/>
<line x1="386.2" y1="216" x2="389" y2="216" stroke="#111" stroke-width="1.5"/>
<line x1="19" y1="188" x2="22.6" y2="188" stroke="#111" stroke-width="1.5"/>
<line x1="386.2" y1="188" x2="389" y2="188" stroke="#111" stroke-width="1.5"/>
<line x1="90.6" y1="314.6" x2="90.6" y2="318.3" stroke="#111" stroke-width="1.5"/>
<line x1="90.6" y1="174" x2="90.6" y2="177.7" stroke="#111" stroke-width="1.5"/>
<line x1="165.2" y1="314.6" x2="165.2" y2="318.3" stroke="#111" stroke-width="1.5"/>
<line x1="165.2" y1="174" x2="165.2" y2="177.7" stroke="#111" stroke-width="1.5"/>
<line x1="239.8" y1="314.6" x2="239.8" y2="318.3" stroke="#111" stroke-width="1.5"/>
<line x1="239.8" y1="174" x2="239.8" y2="177.7" stroke="#111" stroke-width="1.5"/>
<line x1="314.4" y1="314.6" x2="314.4" y2="318.3" stroke="#111" stroke-width="1.5"/>
<line x1="314.4" y1="174" x2="314.4" y2="177.7" stroke="#111" stroke-width="1.5"/>
<line x1="389" y1="314.6" x2="389" y2="318.3" stroke="#111" stroke-width="1.5"/>
<line x1="389" y1="174" x2="389" y2="177.7" stroke="#111" stroke-width="1.5"/>
<line x1="53.3" y1="314.6" x2="53.3" y2="317" stroke="#111" stroke-width="1.5"/>
<line x1="53.3" y1="174" x2="53.3" y2="176.4" stroke="#111" stroke-width="1.5"/>
<line x1="127.9" y1="314.6" x2="127.9" y2="317" stroke="#111" stroke-width="1.5"/>
<line x1="127.9" y1="174" x2="127.9" y2="176.4" stroke="#111" stroke-width="1.5"/>
<line x1="202.5" y1="314.6" x2="202.5" y2="317" stroke="#111" stroke-width="1.5"/>
<line x1="202.5" y1="174" x2="202.5" y2="176.4" stroke="#111" stroke-width="1.5"/>
<line x1="277.1" y1="314.6" x2="277.1" y2="317" stroke="#111" stroke-width="1.5"/>
<line x1="277.1" y1="174" x2="277.1" y2="176.4" stroke="#111" stroke-width="1.5"/>
<line x1="351.7" y1="314.6" x2="351.7" y2="317" stroke="#111" stroke-width="1.5"/>
<line x1="351.7" y1="174" x2="351.7" y2="176.4" stroke="#111" stroke-width="1.5"/>
<rect x="22.6" y="174" width="366.4" height="140.6" fill="none" stroke="#111" stroke-width="1.5"/>
<text x="90.6" y="326.3" font-size="7.2" text-anchor="middle" font-weight="normal" fill="#111" textLength="13.3" lengthAdjust="spacing" stroke="#111" stroke-width="0.45">880</text>
<text x="165.2" y="326.3" font-size="7.2" text-anchor="middle" font-weight="normal" fill="#111" textLength="13.3" lengthAdjust="spacing" stroke="#111" stroke-width="0.45">890</text>
<text x="239.8" y="326.3" font-size="7.2" text-anchor="middle" font-weight="normal" fill="#111" textLength="13.3" lengthAdjust="spacing" stroke="#111" stroke-width="0.45">900</text>
<text x="314.4" y="326.3" font-size="7.2" text-anchor="middle" font-weight="normal" fill="#111" textLength="13.3" lengthAdjust="spacing" stroke="#111" stroke-width="0.45">910</text>
<text x="389" y="326.3" font-size="7.2" text-anchor="middle" font-weight="normal" fill="#111" textLength="13.3" lengthAdjust="spacing" stroke="#111" stroke-width="0.45">920</text>
<text x="202.9" y="336.2" font-size="10.4" text-anchor="middle" font-weight="normal" fill="#111" textLength="62.2" lengthAdjust="spacing" stroke="#111" stroke-width="0.45">Energy (eV)</text>
<text x="8.6" y="231.9" font-size="9.8" text-anchor="middle" font-weight="normal" fill="#111" textLength="65.2" lengthAdjust="spacing" transform="rotate(-90 8.6 231.9)" stroke="#111" stroke-width="0.5">Intensiy (a. u.)</text>
<text x="49.1" y="225.3" font-size="15" text-anchor="start" font-weight="normal" fill="#111" textLength="19.8" lengthAdjust="spacing" stroke="#111" stroke-width="0.15">Ce</text>
<text x="70.7" y="219.8" font-size="12.9" text-anchor="start" font-weight="normal" fill="#111" textLength="16.2" lengthAdjust="spacing" stroke="#111" stroke-width="0.15">3+</text>
<text x="189.1" y="231.9" font-size="14.2" text-anchor="start" font-weight="normal" fill="#111" textLength="19.4" lengthAdjust="spacing" stroke="#111" stroke-width="0.15">Ce</text>
<text x="210.5" y="227" font-size="13.2" text-anchor="start" font-weight="normal" fill="#111" textLength="16.4" lengthAdjust="spacing" stroke="#111" stroke-width="0.15">3+</text>
<text x="334.1" y="271.9" font-size="13.2" text-anchor="start" font-weight="normal" fill="#111" textLength="19" lengthAdjust="spacing" stroke="#111" stroke-width="0.15">Ce</text>
<text x="355.1" y="267.3" font-size="13.4" text-anchor="start" font-weight="normal" fill="#111" textLength="16.6" lengthAdjust="spacing" stroke="#111" stroke-width="0.15">4+</text>
<polyline points="429.6,312.31 430.1,312.31 430.6,312.31 431.1,312.3 431.6,312.3 432.1,312.3 432.6,312.29 433.1,312.29 433.6,312.28 434.1,312.28 434.6,312.27 435.1,312.27 435.6,312.26 436.1,312.26 436.6,312.25 437.1,312.25 437.6,312.24 438.1,312.23 438.6,312.23 439.1,312.22 439.6,312.21 440.1,312.21 440.6,312.2 441.1,312.19 441.6,312.19 442.1,312.18 442.6,312.17 443.1,312.16 443.6,312.15 444.1,312.14 444.6,312.13 445.1,312.12 445.6,312.11 446.1,312.1 446.6,312.09 447.1,312.08 447.6,312.07 448.1,312.06 448.6,312.05 449.1,312.04 449.6,312.02 450.1,312.01 450.6,312 451.1,311.98 451.6,311.97 452.1,311.95 452.6,311.94 453.1,311.92 453.6,311.91 454.1,311.89 454.6,311.87 455.1,311.86 455.6,311.84 456.1,311.82 456.6,311.8 457.1,311.78 457.6,311.76 458.1,311.74 458.6,311.72 459.1,311.7 459.6,311.68 460.1,311.65 460.6,311.63 461.1,311.61 461.6,311.58 462.1,311.55 462.6,311.53 463.1,311.5 463.6,311.47 464.1,311.44 464.6,311.41 465.1,311.38 465.6,311.35 466.1,311.32 466.6,311.29 467.1,311.25 467.6,311.22 468.1,311.18 468.6,311.14 469.1,311.11 469.6,311.07 470.1,311.03 470.6,310.99 471.1,310.94 471.6,310.9 472.1,310.86 472.6,310.81 473.1,310.76 473.6,310.71 474.1,310.67 474.6,310.61 475.1,310.56 475.6,310.51 476.1,310.45 476.6,310.4 477.1,310.34 477.6,310.28 478.1,310.22 478.6,310.16 479.1,310.09 479.6,310.03 480.1,309.96 480.6,309.89 481.1,309.82 481.6,309.74 482.1,309.67 482.6,309.59 483.1,309.51 483.6,309.43 484.1,309.35 484.6,309.27 485.1,309.18 485.6,309.09 486.1,309 486.6,308.91 487.1,308.81 487.6,308.71 488.1,308.61 488.6,308.51 489.1,308.4 489.6,308.3 490.1,308.19 490.6,308.07 491.1,307.96 491.6,307.84 492.1,307.72 492.6,307.6 493.1,307.47 493.6,307.34 494.1,307.21 494.6,307.08 495.1,306.94 495.6,306.8 496.1,306.65 496.6,306.51 497.1,306.35 497.6,306.2 498.1,306.04 498.6,305.88 499.1,305.72 499.6,305.55 500.1,305.38 500.6,305.21 501.1,305.03 501.6,304.85 502.1,304.67 502.6,304.48 503.1,304.29 503.6,304.09 504.1,303.89 504.6,303.69 505.1,303.48 505.6,303.27 506.1,303.06 506.6,302.84 507.1,302.61 507.6,302.39 508.1,302.16 508.6,301.92 509.1,301.68 509.6,301.44 510.1,301.19 510.6,300.94 511.1,300.68 511.6,300.42 512.1,300.15 512.6,299.88 513.1,299.61 513.6,299.33 514.1,299.05 514.6,298.76 515.1,298.47 515.6,298.17 516.1,297.87 516.6,297.56 517.1,297.25 517.6,296.94 518.1,296.62 518.6,296.29 519.1,295.96 519.6,295.63 520.1,295.29 520.6,294.94 521.1,294.59 521.6,294.24 522.1,293.88 522.6,293.52 523.1,293.15 523.6,292.77 524.1,292.4 524.6,292.01 525.1,291.62 525.6,291.23 526.1,290.83 526.6,290.43 527.1,290.02 527.6,289.61 528.1,289.19 528.6,288.76 529.1,288.34 529.6,287.9 530.1,287.46 530.6,287.02 531.1,286.57 531.6,286.12 532.1,285.66 532.6,285.19 533.1,284.72 533.6,284.25 534.1,283.77 534.6,283.29 535.1,282.8 535.6,282.3 536.1,281.8 536.6,281.3 537.1,280.79 537.6,280.27 538.1,279.76 538.6,279.23 539.1,278.7 539.6,278.17 540.1,277.63 540.6,277.08 541.1,276.54 541.6,275.98 542.1,275.42 542.6,274.86 543.1,274.29 543.6,273.72 544.1,273.14 544.6,272.56 545.1,271.97 545.6,271.38 546.1,270.78 546.6,270.18 547.1,269.58 547.6,268.97 548.1,268.35 548.6,267.73 549.1,267.11 549.6,266.48 550.1,265.85 550.6,265.22 551.1,264.58 551.6,263.93 552.1,263.28 552.6,262.63 553.1,261.97 553.6,261.31 554.1,260.65 554.6,259.98 555.1,259.31 555.6,258.64 556.1,257.96 556.6,257.28 557.1,256.59 557.6,255.91 558.1,255.21 558.6,254.52 559.1,253.82 559.6,253.12 560.1,252.42 560.6,251.72 561.1,251.01 561.6,250.3 562.1,249.58 562.6,248.87 563.1,248.15 563.6,247.43 564.1,246.71 564.6,245.99 565.1,245.27 565.6,244.54 566.1,243.82 566.6,243.09 567.1,242.36 567.6,241.63 568.1,240.9 568.6,240.17 569.1,239.44 569.6,238.71 570.1,237.98 570.6,237.24 571.1,236.51 571.6,235.78 572.1,235.05 572.6,234.32 573.1,233.59 573.6,232.87 574.1,232.14 574.6,231.42 575.1,230.7 575.6,229.97 576.1,229.26 576.6,228.54 577.1,227.83 577.6,227.11 578.1,226.41 578.6,225.7 579.1,225 579.6,224.3 580.1,223.61 580.6,222.91 581.1,222.23 581.6,221.55 582.1,220.87 582.6,220.19 583.1,219.52 583.6,218.86 584.1,218.2 584.6,217.55 585.1,216.9 585.6,216.26 586.1,215.63 586.6,215 587.1,214.37 587.6,213.76 588.1,213.15 588.6,212.55 589.1,211.95 589.6,211.37 590.1,210.79 590.6,210.21 591.1,209.65 591.6,209.1 592.1,208.55 592.6,208.01 593.1,207.48 593.6,206.96 594.1,206.45 594.6,205.95 595.1,205.45 595.6,204.97 596.1,204.49 596.6,204.03 597.1,203.58 597.6,203.13 598.1,202.7 598.6,202.28 599.1,201.86 599.6,201.46 600.1,201.07 600.6,200.69 601.1,200.32 601.6,199.96 602.1,199.62 602.6,199.28 603.1,198.96 603.6,198.64 604.1,198.34 604.6,198.05 605.1,197.78 605.6,197.51 606.1,197.26 606.6,197.01 607.1,196.78 607.6,196.57 608.1,196.36 608.6,196.17 609.1,195.99 609.6,195.82 610.1,195.66 610.6,195.52 611.1,195.38 611.6,195.26 612.1,195.16 612.6,195.06 613.1,194.98 613.6,194.91 614.1,194.85 614.6,194.8 615.1,194.77 615.6,194.75 616.1,194.74 616.6,194.74 617.1,194.75 617.6,194.78 618.1,194.82 618.6,194.87 619.1,194.93 619.6,195.01 620.1,195.1 620.6,195.19 621.1,195.3 621.6,195.43 622.1,195.56 622.6,195.7 623.1,195.86 623.6,196.03 624.1,196.21 624.6,196.4 625.1,196.6 625.6,196.81 626.1,197.04 626.6,197.27 627.1,197.51 627.6,197.77 628.1,198.04 628.6,198.31 629.1,198.6 629.6,198.9 630.1,199.21 630.6,199.52 631.1,199.85 631.6,200.19 632.1,200.54 632.6,200.89 633.1,201.26 633.6,201.63 634.1,202.02 634.6,202.41 635.1,202.82 635.6,203.23 636.1,203.65 636.6,204.08 637.1,204.52 637.6,204.96 638.1,205.42 638.6,205.88 639.1,206.36 639.6,206.83 640.1,207.32 640.6,207.82 641.1,208.32 641.6,208.83 642.1,209.35 642.6,209.87 643.1,210.4 643.6,210.94 644.1,211.49 644.6,212.04 645.1,212.6 645.6,213.17 646.1,213.74 646.6,214.32 647.1,214.9 647.6,215.49 648.1,216.09 648.6,216.69 649.1,217.3 649.6,217.91 650.1,218.53 650.6,219.15 651.1,219.78 651.6,220.42 652.1,221.05 652.6,221.7 653.1,222.35 653.6,223 654.1,223.65 654.6,224.31 655.1,224.98 655.6,225.65 656.1,226.32 656.6,226.99 657.1,227.67 657.6,228.36 658.1,229.04 658.6,229.73 659.1,230.42 659.6,231.11 660.1,231.81 660.6,232.51 661.1,233.21 661.6,233.92 662.1,234.62 662.6,235.33 663.1,236.04 663.6,236.75 664.1,237.46 664.6,238.17 665.1,238.89 665.6,239.6 666.1,240.32 666.6,241.04 667.1,241.76 667.6,242.47 668.1,243.19 668.6,243.91 669.1,244.63 669.6,245.35 670.1,246.07 670.6,246.78 671.1,247.5 671.6,248.22 672.1,248.93 672.6,249.65 673.1,250.36 673.6,251.07 674.1,251.78 674.6,252.49 675.1,253.2 675.6,253.91 676.1,254.61 676.6,255.31 677.1,256.01 677.6,256.71 678.1,257.4 678.6,258.1 679.1,258.79 679.6,259.47 680.1,260.16 680.6,260.84 681.1,261.51 681.6,262.19 682.1,262.86 682.6,263.53 683.1,264.19 683.6,264.85 684.1,265.51 684.6,266.16 685.1,266.81 685.6,267.45 686.1,268.09 686.6,268.73 687.1,269.36 687.6,269.98 688.1,270.6 688.6,271.22 689.1,271.83 689.6,272.44 690.1,273.05 690.6,273.64 691.1,274.24 691.6,274.82 692.1,275.41 692.6,275.99 693.1,276.56 693.6,277.12 694.1,277.69 694.6,278.24 695.1,278.79 695.6,279.34 696.1,279.88 696.6,280.41 697.1,280.94 697.6,281.47 698.1,281.98 698.6,282.5 699.1,283 699.6,283.5 700.1,284 700.6,284.49 701.1,284.97 701.6,285.45 702.1,285.92 702.6,286.39 703.1,286.85 703.6,287.3 704.1,287.75 704.6,288.19 705.1,288.63 705.6,289.06 706.1,289.49 706.6,289.91 707.1,290.32 707.6,290.73 708.1,291.14 708.6,291.54 709.1,291.93 709.6,292.31 710.1,292.7 710.6,293.07 711.1,293.44 711.6,293.81 712.1,294.17 712.6,294.52 713.1,294.87 713.6,295.21 714.1,295.55 714.6,295.88 715.1,296.21 715.6,296.54 716.1,296.85 716.6,297.17 717.1,297.47 717.6,297.78 718.1,298.08 718.6,298.37 719.1,298.66 719.6,298.94 720.1,299.22 720.6,299.49 721.1,299.76 721.6,300.03 722.1,300.29 722.6,300.55 723.1,300.8 723.6,301.05 724.1,301.29 724.6,301.53 725.1,301.76 725.6,301.99 726.1,302.22 726.6,302.44 727.1,302.66 727.6,302.88 728.1,303.09 728.6,303.29 729.1,303.5 729.6,303.7 730.1,303.89 730.6,304.09 731.1,304.28 731.6,304.46 732.1,304.64 732.6,304.82 733.1,305 733.6,305.17 734.1,305.34 734.6,305.5 735.1,305.66 735.6,305.82 736.1,305.98 736.6,306.13 737.1,306.28 737.6,306.43 738.1,306.57 738.6,306.71 739.1,306.85 739.6,306.99 740.1,307.12 740.6,307.25 741.1,307.38 741.6,307.5 742.1,307.63 742.6,307.74 743.1,307.86 743.6,307.98 744.1,308.09 744.6,308.2 745.1,308.31 745.6,308.41 746.1,308.52 746.6,308.62 747.1,308.72 747.6,308.81 748.1,308.91 748.6,309 749.1,309.09 749.6,309.18 750.1,309.27 750.6,309.35 751.1,309.43 751.6,309.51 752.1,309.59 752.6,309.67 753.1,309.75 753.6,309.82 754.1,309.89 754.6,309.96 755.1,310.03 755.6,310.1 756.1,310.16 756.6,310.23 757.1,310.29 757.6,310.35 758.1,310.41 758.6,310.47 759.1,310.52 759.6,310.58 760.1,310.63 760.6,310.68 761.1,310.73 761.6,310.78 762.1,310.83 762.6,310.88 763.1,310.92 763.6,310.97 764.1,311.01 764.6,311.05 765.1,311.1 765.6,311.14 766.1,311.17 766.6,311.21 767.1,311.25 767.6,311.29 768.1,311.32 768.6,311.35 769.1,311.39 769.6,311.42 770.1,311.45 770.6,311.48 771.1,311.51 771.6,311.54 772.1,311.57 772.6,311.59 773.1,311.62 773.6,311.64 774.1,311.67 774.6,311.69 775.1,311.72 775.6,311.74 776.1,311.76 776.6,311.78 777.1,311.8 777.6,311.82 778.1,311.84 778.6,311.86 779.1,311.88 779.6,311.9 780.1,311.91 780.6,311.93 781.1,311.95 781.6,311.96 782.1,311.98 782.6,311.99 783.1,312 783.6,312.02 784.1,312.03 784.6,312.04 785.1,312.06 785.6,312.07 786.1,312.08 786.6,312.09 787.1,312.1 787.6,312.11 788.1,312.12 788.6,312.13 789.1,312.14 789.6,312.15 790.1,312.16 790.6,312.17 791.1,312.17 791.6,312.18 792.1,312.19 792.6,312.2 793.1,312.2 793.6,312.21 794.1,312.22 794.6,312.22 795.1,312.23 795.6,312.24 796.1,312.24 796.6,312.25 797.1,312.25 797.6,312.26 798.1,312.26 798.6,312.27 799.1,312.27" fill="none" stroke="#000" stroke-width="1.7" stroke-linejoin="round" stroke-linecap="round"/>
<polyline points="429.6,312.31 430.1,312.31 430.6,312.31 431.1,312.3 431.6,312.3 432.1,312.3 432.6,312.29 433.1,312.29 433.6,312.28 434.1,312.28 434.6,312.28 435.1,312.27 435.6,312.27 436.1,312.26 436.6,312.26 437.1,312.25 437.6,312.24 438.1,312.24 438.6,312.23 439.1,312.23 439.6,312.22 440.1,312.21 440.6,312.21 441.1,312.2 441.6,312.19 442.1,312.18 442.6,312.18 443.1,312.17 443.6,312.16 444.1,312.15 444.6,312.14 445.1,312.13 445.6,312.12 446.1,312.11 446.6,312.1 447.1,312.09 447.6,312.08 448.1,312.07 448.6,312.06 449.1,312.04 449.6,312.03 450.1,312.02 450.6,312.01 451.1,311.99 451.6,311.98 452.1,311.96 452.6,311.95 453.1,311.93 453.6,311.92 454.1,311.9 454.6,311.88 455.1,311.87 455.6,311.85 456.1,311.83 456.6,311.81 457.1,311.79 457.6,311.77 458.1,311.75 458.6,311.73 459.1,311.71 459.6,311.68 460.1,311.66 460.6,311.63 461.1,311.61 461.6,311.58 462.1,311.56 462.6,311.53 463.1,311.5 463.6,311.47 464.1,311.44 464.6,311.41 465.1,311.38 465.6,311.35 466.1,311.32 466.6,311.28 467.1,311.25 467.6,311.21 468.1,311.17 468.6,311.14 469.1,311.1 469.6,311.06 470.1,311.02 470.6,310.97 471.1,310.93 471.6,310.88 472.1,310.84 472.6,310.79 473.1,310.74 473.6,310.69 474.1,310.64 474.6,310.59 475.1,310.54 475.6,310.48 476.1,310.42 476.6,310.37 477.1,310.31 477.6,310.25 478.1,310.18 478.6,310.12 479.1,310.05 479.6,309.99 480.1,309.92 480.6,309.85 481.1,309.77 481.6,309.7 482.1,309.62 482.6,309.54 483.1,309.46 483.6,309.38 484.1,309.3 484.6,309.21 485.1,309.13 485.6,309.04 486.1,308.94 486.6,308.85 487.1,308.75 487.6,308.65 488.1,308.55 488.6,308.45 489.1,308.34 489.6,308.24 490.1,308.13 490.6,308.01 491.1,307.9 491.6,307.78 492.1,307.66 492.6,307.54 493.1,307.41 493.6,307.28 494.1,307.15 494.6,307.02 495.1,306.88 495.6,306.74 496.1,306.59 496.6,306.45 497.1,306.3 497.6,306.15 498.1,305.99 498.6,305.83 499.1,305.67 499.6,305.51 500.1,305.34 500.6,305.17 501.1,304.99 501.6,304.81 502.1,304.63 502.6,304.45 503.1,304.26 503.6,304.06 504.1,303.87 504.6,303.67 505.1,303.46 505.6,303.26 506.1,303.04 506.6,302.83 507.1,302.61 507.6,302.39 508.1,302.16 508.6,301.93 509.1,301.69 509.6,301.45 510.1,301.21 510.6,300.96 511.1,300.7 511.6,300.45 512.1,300.19 512.6,299.92 513.1,299.65 513.6,299.37 514.1,299.09 514.6,298.81 515.1,298.52 515.6,298.23 516.1,297.93 516.6,297.63 517.1,297.32 517.6,297.01 518.1,296.69 518.6,296.37 519.1,296.04 519.6,295.71 520.1,295.37 520.6,295.03 521.1,294.68 521.6,294.33 522.1,293.97 522.6,293.61 523.1,293.24 523.6,292.86 524.1,292.49 524.6,292.1 525.1,291.71 525.6,291.32 526.1,290.92 526.6,290.52 527.1,290.11 527.6,289.69 528.1,289.27 528.6,288.84 529.1,288.41 529.6,287.97 530.1,287.53 530.6,287.08 531.1,286.63 531.6,286.17 532.1,285.71 532.6,285.24 533.1,284.76 533.6,284.28 534.1,283.8 534.6,283.31 535.1,282.81 535.6,282.31 536.1,281.8 536.6,281.29 537.1,280.77 537.6,280.25 538.1,279.72 538.6,279.19 539.1,278.65 539.6,278.1 540.1,277.55 540.6,277 541.1,276.44 541.6,275.87 542.1,275.3 542.6,274.73 543.1,274.15 543.6,273.56 544.1,272.97 544.6,272.38 545.1,271.78 545.6,271.18 546.1,270.57 546.6,269.96 547.1,269.34 547.6,268.71 548.1,268.09 548.6,267.46 549.1,266.82 549.6,266.18 550.1,265.54 550.6,264.89 551.1,264.24 551.6,263.58 552.1,262.92 552.6,262.26 553.1,261.59 553.6,260.92 554.1,260.25 554.6,259.57 555.1,258.89 555.6,258.2 556.1,257.52 556.6,256.83 557.1,256.13 557.6,255.44 558.1,254.74 558.6,254.04 559.1,253.33 559.6,252.63 560.1,251.92 560.6,251.21 561.1,250.5 561.6,249.78 562.1,249.07 562.6,248.35 563.1,247.63 563.6,246.91 564.1,246.19 564.6,245.47 565.1,244.75 565.6,244.02 566.1,243.3 566.6,242.57 567.1,241.85 567.6,241.12 568.1,240.39 568.6,239.67 569.1,238.94 569.6,238.22 570.1,237.49 570.6,236.77 571.1,236.05 571.6,235.32 572.1,234.6 572.6,233.88 573.1,233.17 573.6,232.45 574.1,231.73 574.6,231.02 575.1,230.31 575.6,229.6 576.1,228.9 576.6,228.2 577.1,227.5 577.6,226.8 578.1,226.1 578.6,225.41 579.1,224.73 579.6,224.04 580.1,223.36 580.6,222.69 581.1,222.02 581.6,221.35 582.1,220.69 582.6,220.03 583.1,219.37 583.6,218.73 584.1,218.08 584.6,217.45 585.1,216.81 585.6,216.19 586.1,215.57 586.6,214.95 587.1,214.34 587.6,213.74 588.1,213.15 588.6,212.56 589.1,211.98 589.6,211.4 590.1,210.83 590.6,210.27 591.1,209.72 591.6,209.17 592.1,208.64 592.6,208.11 593.1,207.59 593.6,207.07 594.1,206.57 594.6,206.07 595.1,205.58 595.6,205.1 596.1,204.63 596.6,204.17 597.1,203.72 597.6,203.28 598.1,202.85 598.6,202.42 599.1,202.01 599.6,201.6 600.1,201.21 600.6,200.83 601.1,200.45 601.6,200.09 602.1,199.74 602.6,199.4 603.1,199.06 603.6,198.74 604.1,198.43 604.6,198.13 605.1,197.84 605.6,197.57 606.1,197.3 606.6,197.05 607.1,196.8 607.6,196.57 608.1,196.35 608.6,196.14 609.1,195.94 609.6,195.76 610.1,195.58 610.6,195.42 611.1,195.27 611.6,195.13 612.1,195.01 612.6,194.89 613.1,194.79 613.6,194.7 614.1,194.62 614.6,194.55 615.1,194.5 615.6,194.45 616.1,194.42 616.6,194.41 617.1,194.4 617.6,194.41 618.1,194.42 618.6,194.45 619.1,194.5 619.6,194.55 620.1,194.62 620.6,194.7 621.1,194.79 621.6,194.89 622.1,195.01 622.6,195.13 623.1,195.27 623.6,195.42 624.1,195.58 624.6,195.76 625.1,195.94 625.6,196.14 626.1,196.35 626.6,196.57 627.1,196.8 627.6,197.05 628.1,197.3 628.6,197.57 629.1,197.84 629.6,198.13 630.1,198.43 630.6,198.74 631.1,199.06 631.6,199.4 632.1,199.74 632.6,200.09 633.1,200.45 633.6,200.83 634.1,201.21 634.6,201.6 635.1,202.01 635.6,202.42 636.1,202.85 636.6,203.28 637.1,203.72 637.6,204.17 638.1,204.63 638.6,205.1 639.1,205.58 639.6,206.07 640.1,206.57 640.6,207.07 641.1,207.59 641.6,208.11 642.1,208.64 642.6,209.17 643.1,209.72 643.6,210.27 644.1,210.83 644.6,211.4 645.1,211.98 645.6,212.56 646.1,213.15 646.6,213.74 647.1,214.34 647.6,214.95 648.1,215.57 648.6,216.19 649.1,216.81 649.6,217.45 650.1,218.08 650.6,218.73 651.1,219.37 651.6,220.03 652.1,220.69 652.6,221.35 653.1,222.02 653.6,222.69 654.1,223.36 654.6,224.04 655.1,224.73 655.6,225.41 656.1,226.1 656.6,226.8 657.1,227.5 657.6,228.2 658.1,228.9 658.6,229.6 659.1,230.31 659.6,231.02 660.1,231.73 660.6,232.45 661.1,233.17 661.6,233.88 662.1,234.6 662.6,235.32 663.1,236.05 663.6,236.77 664.1,237.49 664.6,238.22 665.1,238.94 665.6,239.67 666.1,240.39 666.6,241.12 667.1,241.85 667.6,242.57 668.1,243.3 668.6,244.02 669.1,244.75 669.6,245.47 670.1,246.19 670.6,246.91 671.1,247.63 671.6,248.35 672.1,249.07 672.6,249.78 673.1,250.5 673.6,251.21 674.1,251.92 674.6,252.63 675.1,253.33 675.6,254.04 676.1,254.74 676.6,255.44 677.1,256.13 677.6,256.83 678.1,257.52 678.6,258.2 679.1,258.89 679.6,259.57 680.1,260.25 680.6,260.92 681.1,261.59 681.6,262.26 682.1,262.92 682.6,263.58 683.1,264.24 683.6,264.89 684.1,265.54 684.6,266.18 685.1,266.82 685.6,267.46 686.1,268.09 686.6,268.71 687.1,269.34 687.6,269.96 688.1,270.57 688.6,271.18 689.1,271.78 689.6,272.38 690.1,272.97 690.6,273.56 691.1,274.15 691.6,274.73 692.1,275.3 692.6,275.87 693.1,276.44 693.6,277 694.1,277.55 694.6,278.1 695.1,278.65 695.6,279.19 696.1,279.72 696.6,280.25 697.1,280.77 697.6,281.29 698.1,281.8 698.6,282.31 699.1,282.81 699.6,283.31 700.1,283.8 700.6,284.28 701.1,284.76 701.6,285.24 702.1,285.71 702.6,286.17 703.1,286.63 703.6,287.08 704.1,287.53 704.6,287.97 705.1,288.41 705.6,288.84 706.1,289.27 706.6,289.69 707.1,290.11 707.6,290.52 708.1,290.92 708.6,291.32 709.1,291.71 709.6,292.1 710.1,292.49 710.6,292.86 711.1,293.24 711.6,293.61 712.1,293.97 712.6,294.33 713.1,294.68 713.6,295.03 714.1,295.37 714.6,295.71 715.1,296.04 715.6,296.37 716.1,296.69 716.6,297.01 717.1,297.32 717.6,297.63 718.1,297.93 718.6,298.23 719.1,298.52 719.6,298.81 720.1,299.09 720.6,299.37 721.1,299.65 721.6,299.92 722.1,300.19 722.6,300.45 723.1,300.7 723.6,300.96 724.1,301.21 724.6,301.45 725.1,301.69 725.6,301.93 726.1,302.16 726.6,302.39 727.1,302.61 727.6,302.83 728.1,303.04 728.6,303.26 729.1,303.46 729.6,303.67 730.1,303.87 730.6,304.06 731.1,304.26 731.6,304.45 732.1,304.63 732.6,304.81 733.1,304.99 733.6,305.17 734.1,305.34 734.6,305.51 735.1,305.67 735.6,305.83 736.1,305.99 736.6,306.15 737.1,306.3 737.6,306.45 738.1,306.59 738.6,306.74 739.1,306.88 739.6,307.02 740.1,307.15 740.6,307.28 741.1,307.41 741.6,307.54 742.1,307.66 742.6,307.78 743.1,307.9 743.6,308.01 744.1,308.13 744.6,308.24 745.1,308.34 745.6,308.45 746.1,308.55 746.6,308.65 747.1,308.75 747.6,308.85 748.1,308.94 748.6,309.04 749.1,309.13 749.6,309.21 750.1,309.3 750.6,309.38 751.1,309.46 751.6,309.54 752.1,309.62 752.6,309.7 753.1,309.77 753.6,309.85 754.1,309.92 754.6,309.99 755.1,310.05 755.6,310.12 756.1,310.18 756.6,310.25 757.1,310.31 757.6,310.37 758.1,310.42 758.6,310.48 759.1,310.54 759.6,310.59 760.1,310.64 760.6,310.69 761.1,310.74 761.6,310.79 762.1,310.84 762.6,310.88 763.1,310.93 763.6,310.97 764.1,311.02 764.6,311.06 765.1,311.1 765.6,311.14 766.1,311.17 766.6,311.21 767.1,311.25 767.6,311.28 768.1,311.32 768.6,311.35 769.1,311.38 769.6,311.41 770.1,311.44 770.6,311.47 771.1,311.5 771.6,311.53 772.1,311.56 772.6,311.58 773.1,311.61 773.6,311.63 774.1,311.66 774.6,311.68 775.1,311.71 775.6,311.73 776.1,311.75 776.6,311.77 777.1,311.79 777.6,311.81 778.1,311.83 778.6,311.85 779.1,311.87 779.6,311.88 780.1,311.9 780.6,311.92 781.1,311.93 781.6,311.95 782.1,311.96 782.6,311.98 783.1,311.99 783.6,312.01 784.1,312.02 784.6,312.03 785.1,312.04 785.6,312.06 786.1,312.07 786.6,312.08 787.1,312.09 787.6,312.1 788.1,312.11 788.6,312.12 789.1,312.13 789.6,312.14 790.1,312.15 790.6,312.16 791.1,312.17 791.6,312.18 792.1,312.18 792.6,312.19 793.1,312.2 793.6,312.21 794.1,312.21 794.6,312.22 795.1,312.23 795.6,312.23 796.1,312.24 796.6,312.24 797.1,312.25 797.6,312.26 798.1,312.26 798.6,312.27 799.1,312.27" fill="none" stroke="#ff0000" stroke-width="1.7" stroke-linejoin="round" stroke-linecap="round"/>
<line x1="424.4" y1="312.4" x2="429.6" y2="312.4" stroke="#111" stroke-width="1.5"/>
<line x1="810.5" y1="312.4" x2="815" y2="312.4" stroke="#111" stroke-width="1.5"/>
<line x1="424.4" y1="289.37" x2="429.6" y2="289.37" stroke="#111" stroke-width="1.5"/>
<line x1="810.5" y1="289.37" x2="815" y2="289.37" stroke="#111" stroke-width="1.5"/>
<line x1="424.4" y1="266.33" x2="429.6" y2="266.33" stroke="#111" stroke-width="1.5"/>
<line x1="810.5" y1="266.33" x2="815" y2="266.33" stroke="#111" stroke-width="1.5"/>
<line x1="424.4" y1="243.3" x2="429.6" y2="243.3" stroke="#111" stroke-width="1.5"/>
<line x1="810.5" y1="243.3" x2="815" y2="243.3" stroke="#111" stroke-width="1.5"/>
<line x1="424.4" y1="220.27" x2="429.6" y2="220.27" stroke="#111" stroke-width="1.5"/>
<line x1="810.5" y1="220.27" x2="815" y2="220.27" stroke="#111" stroke-width="1.5"/>
<line x1="424.4" y1="197.23" x2="429.6" y2="197.23" stroke="#111" stroke-width="1.5"/>
<line x1="810.5" y1="197.23" x2="815" y2="197.23" stroke="#111" stroke-width="1.5"/>
<line x1="424.4" y1="174.2" x2="429.6" y2="174.2" stroke="#111" stroke-width="1.5"/>
<line x1="810.5" y1="174.2" x2="815" y2="174.2" stroke="#111" stroke-width="1.5"/>
<line x1="426.9" y1="300.88" x2="429.6" y2="300.88" stroke="#111" stroke-width="1.5"/>
<line x1="812.3" y1="300.88" x2="815" y2="300.88" stroke="#111" stroke-width="1.5"/>
<line x1="426.9" y1="277.85" x2="429.6" y2="277.85" stroke="#111" stroke-width="1.5"/>
<line x1="812.3" y1="277.85" x2="815" y2="277.85" stroke="#111" stroke-width="1.5"/>
<line x1="426.9" y1="254.82" x2="429.6" y2="254.82" stroke="#111" stroke-width="1.5"/>
<line x1="812.3" y1="254.82" x2="815" y2="254.82" stroke="#111" stroke-width="1.5"/>
<line x1="426.9" y1="231.78" x2="429.6" y2="231.78" stroke="#111" stroke-width="1.5"/>
<line x1="812.3" y1="231.78" x2="815" y2="231.78" stroke="#111" stroke-width="1.5"/>
<line x1="426.9" y1="208.75" x2="429.6" y2="208.75" stroke="#111" stroke-width="1.5"/>
<line x1="812.3" y1="208.75" x2="815" y2="208.75" stroke="#111" stroke-width="1.5"/>
<line x1="426.9" y1="185.72" x2="429.6" y2="185.72" stroke="#111" stroke-width="1.5"/>
<line x1="812.3" y1="185.72" x2="815" y2="185.72" stroke="#111" stroke-width="1.5"/>
<line x1="429.6" y1="314.7" x2="429.6" y2="318.4" stroke="#111" stroke-width="1.5"/>
<line x1="429.6" y1="174.2" x2="429.6" y2="177.6" stroke="#111" stroke-width="1.5"/>
<line x1="493.83" y1="314.7" x2="493.83" y2="318.4" stroke="#111" stroke-width="1.5"/>
<line x1="493.83" y1="174.2" x2="493.83" y2="177.6" stroke="#111" stroke-width="1.5"/>
<line x1="558.07" y1="314.7" x2="558.07" y2="318.4" stroke="#111" stroke-width="1.5"/>
<line x1="558.07" y1="174.2" x2="558.07" y2="177.6" stroke="#111" stroke-width="1.5"/>
<line x1="622.3" y1="314.7" x2="622.3" y2="318.4" stroke="#111" stroke-width="1.5"/>
<line x1="622.3" y1="174.2" x2="622.3" y2="177.6" stroke="#111" stroke-width="1.5"/>
<line x1="686.53" y1="314.7" x2="686.53" y2="318.4" stroke="#111" stroke-width="1.5"/>
<line x1="686.53" y1="174.2" x2="686.53" y2="177.6" stroke="#111" stroke-width="1.5"/>
<line x1="750.77" y1="314.7" x2="750.77" y2="318.4" stroke="#111" stroke-width="1.5"/>
<line x1="750.77" y1="174.2" x2="750.77" y2="177.6" stroke="#111" stroke-width="1.5"/>
<line x1="815" y1="314.7" x2="815" y2="318.4" stroke="#111" stroke-width="1.5"/>
<line x1="815" y1="174.2" x2="815" y2="177.6" stroke="#111" stroke-width="1.5"/>
<line x1="461.72" y1="314.7" x2="461.72" y2="317" stroke="#111" stroke-width="1.5"/>
<line x1="461.72" y1="174.2" x2="461.72" y2="176.4" stroke="#111" stroke-width="1.5"/>
<line x1="525.95" y1="314.7" x2="525.95" y2="317" stroke="#111" stroke-width="1.5"/>
<line x1="525.95" y1="174.2" x2="525.95" y2="176.4" stroke="#111" stroke-width="1.5"/>
<line x1="590.18" y1="314.7" x2="590.18" y2="317" stroke="#111" stroke-width="1.5"/>
<line x1="590.18" y1="174.2" x2="590.18" y2="176.4" stroke="#111" stroke-width="1.5"/>
<line x1="654.42" y1="314.7" x2="654.42" y2="317" stroke="#111" stroke-width="1.5"/>
<line x1="654.42" y1="174.2" x2="654.42" y2="176.4" stroke="#111" stroke-width="1.5"/>
<line x1="718.65" y1="314.7" x2="718.65" y2="317" stroke="#111" stroke-width="1.5"/>
<line x1="718.65" y1="174.2" x2="718.65" y2="176.4" stroke="#111" stroke-width="1.5"/>
<line x1="782.88" y1="314.7" x2="782.88" y2="317" stroke="#111" stroke-width="1.5"/>
<line x1="782.88" y1="174.2" x2="782.88" y2="176.4" stroke="#111" stroke-width="1.5"/>
<rect x="429.6" y="174.2" width="385.4" height="140.5" fill="none" stroke="#111" stroke-width="1.5"/>
<text x="429.6" y="325.9" font-size="7.6" text-anchor="middle" font-weight="normal" fill="#111" textLength="13.2" lengthAdjust="spacing" stroke="#111" stroke-width="0.45">524</text>
<text x="493.83" y="325.9" font-size="7.6" text-anchor="middle" font-weight="normal" fill="#111" textLength="13.2" lengthAdjust="spacing" stroke="#111" stroke-width="0.45">526</text>
<text x="558.07" y="325.9" font-size="7.6" text-anchor="middle" font-weight="normal" fill="#111" textLength="13.2" lengthAdjust="spacing" stroke="#111" stroke-width="0.45">528</text>
<text x="622.3" y="325.9" font-size="7.6" text-anchor="middle" font-weight="normal" fill="#111" textLength="13.2" lengthAdjust="spacing" stroke="#111" stroke-width="0.45">530</text>
<text x="686.53" y="325.9" font-size="7.6" text-anchor="middle" font-weight="normal" fill="#111" textLength="13.2" lengthAdjust="spacing" stroke="#111" stroke-width="0.45">532</text>
<text x="750.77" y="325.9" font-size="7.6" text-anchor="middle" font-weight="normal" fill="#111" textLength="13.2" lengthAdjust="spacing" stroke="#111" stroke-width="0.45">534</text>
<text x="815" y="325.9" font-size="7.6" text-anchor="middle" font-weight="normal" fill="#111" textLength="13.2" lengthAdjust="spacing" stroke="#111" stroke-width="0.45">536</text>
<text x="640.6" y="340.8" font-size="10.3" text-anchor="middle" font-weight="normal" fill="#111" textLength="61.7" lengthAdjust="spacing" stroke="#111" stroke-width="0.45">Energy (eV)</text>
<text x="413.8" y="236.6" font-size="10.0" text-anchor="middle" font-weight="normal" fill="#111" textLength="69" lengthAdjust="spacing" transform="rotate(-90 413.8 236.6)" stroke="#111" stroke-width="0.5">Intensity (u. a.)</text>
<line x1="440.3" y1="194.3" x2="477.5" y2="194.3" stroke="#000" stroke-width="1.6"/>
<line x1="440.3" y1="209.3" x2="477.5" y2="209.3" stroke="#ff0000" stroke-width="1.6"/>
<text x="481.5" y="198.6" font-size="12.1" text-anchor="start" font-weight="normal" fill="#111" textLength="61.7" lengthAdjust="spacing" stroke="#111" stroke-width="0.45">Data O 1s</text>
<text x="481.5" y="213.6" font-size="12.1" text-anchor="start" font-weight="normal" fill="#111" textLength="47.5" lengthAdjust="spacing" stroke="#111" stroke-width="0.45">Fit O 1s</text>
<polyline points="20.8,462.08 21.3,461.46 21.8,460.91 22.3,461.2 22.8,462.01 23.3,461.77 23.8,461.4 24.3,460.79 24.8,461.41 25.3,461.64 25.8,461.36 26.3,460.91 26.8,461.12 27.3,461.02 27.8,461.35 28.3,461.71 28.8,462.42 29.3,462.87 29.8,462.2 30.3,461.61 30.8,461.26 31.3,461.11 31.8,461.36 32.3,461 32.8,460.96 33.3,460.79 33.8,460.68 34.3,459.95 34.8,460.65 35.3,459.96 35.8,459.26 36.3,457.89 36.8,456.62 37.3,456.6 37.8,456.58 38.3,456.92 38.8,456.49 39.3,456.05 39.8,456.43 40.3,455.71 40.8,455.41 41.3,455.35 41.8,455.04 42.3,454.18 42.8,454.47 43.3,454.22 43.8,454.76 44.3,455.07 44.8,454.9 45.3,453.25 45.8,452.3 46.3,451.95 46.8,451.35 47.3,450.23 47.8,450.41 48.3,450.93 48.8,450 49.3,449.89 49.8,449.6 50.3,449.16 50.8,448.41 51.3,448.64 51.8,448.04 52.3,448.36 52.8,449.11 53.3,449.38 53.8,449.67 54.3,450.19 54.8,450.11 55.3,449.35 55.8,448.31 56.3,447.95 56.8,448.52 57.3,447.54 57.8,446.08 58.3,446.81 58.8,446.24 59.3,446.04 59.8,445.58 60.3,444.98 60.8,444.25 61.3,443.46 61.8,442.96 62.3,442.35 62.8,442.89 63.3,442.99 63.8,443.14 64.3,441.59 64.8,441.77 65.3,442.16 65.8,441.12 66.3,440.52 66.8,440.01 67.3,439.37 67.8,439.51 68.3,439.39 68.8,439.58 69.3,438.36 69.8,438.04 70.3,436.57 70.8,435.82 71.3,436.2 71.8,435.56 72.3,434.92 72.8,434.79 73.3,434.36 73.8,433.91 74.3,433.06 74.8,432.81 75.3,431.68 75.8,430.61 76.3,429.48 76.8,429.76 77.3,429.01 77.8,428.61 78.3,428.04 78.8,426.61 79.3,426.61 79.8,425.82 80.3,424.21 80.8,424.11 81.3,423.3 81.8,422.87 82.3,421.41 82.8,420.96 83.3,420.7 83.8,419.17 84.3,418.95 84.8,418.81 85.3,418.43 85.8,418.06 86.3,417.59 86.8,417.47 87.3,417.32 87.8,418.04 88.3,417.56 88.8,416.81 89.3,416.53 89.8,416.2 90.3,415.8 90.8,415.12 91.3,415.31 91.8,414.35 92.3,413.82 92.8,412.94 93.3,412.64 93.8,411.87 94.3,410.88 94.8,410.07 95.3,408.32 95.8,407.29 96.3,406.2 96.8,406.19 97.3,405.95 97.8,406.03 98.3,405.96 98.8,405.65 99.3,405.48 99.8,404.71 100.3,405.12 100.8,404.13 101.3,403.78 101.8,403.03 102.3,402.86 102.8,403.27 103.3,402.45 103.8,402.08 104.3,401.13 104.8,400.73 105.3,399.58 105.8,398.47 106.3,397.43 106.8,396.3 107.3,394.85 107.8,393.57 108.3,393.62 108.8,392.56 109.3,392.21 109.8,392.12 110.3,391.64 110.8,391.65 111.3,391.57 111.8,390.62 112.3,391.02 112.8,390.71 113.3,390.68 113.8,391.06 114.3,390.98 114.8,391.49 115.3,390.85 115.8,389.82 116.3,389.79 116.8,389.18 117.3,387.83 117.8,386.79 118.3,385.99 118.8,385.41 119.3,385.62 119.8,384.54 120.3,384.14 120.8,383.67 121.3,383.24 121.8,382.8 122.3,381.87 122.8,381.63 123.3,381.39 123.8,380.76 124.3,380.92 124.8,380.25 125.3,379.57 125.8,379.63 126.3,379.72 126.8,378.66 127.3,378 127.8,378.06 128.3,377.34 128.8,376.04 129.3,375.07 129.8,374.95 130.3,374.3 130.8,373.77 131.3,373.29 131.8,372.77 132.3,373.94 132.8,373.99 133.3,373.71 133.8,373.67 134.3,373.18 134.8,372.95 135.3,372.24 135.8,372.29 136.3,372.79 136.8,372.85 137.3,373.13 137.8,373.41 138.3,373.34 138.8,373.39 139.3,374 139.8,372.99 140.3,372.79 140.8,372.99 141.3,372.97 141.8,373.57 142.3,373.14 142.8,372.73 143.3,373.15 143.8,372.6 144.3,372.37 144.8,372.41 145.3,372.32 145.8,372.23 146.3,373.09 146.8,372.46 147.3,372.82 147.8,373.27 148.3,372.92 148.8,372.2 149.3,372.52 149.8,373.04 150.3,373.06 150.8,372.07 151.3,372.3 151.8,372.43 152.3,372.27 152.8,372.07 153.3,372.21 153.8,371.79 154.3,372.26 154.8,372.39 155.3,372.32 155.8,372.32 156.3,372.09 156.8,372.11 157.3,371.73 157.8,372.31 158.3,372.84 158.8,372.52 159.3,372.26 159.8,372.44 160.3,372.64 160.8,372.66 161.3,372.44 161.8,370.81 162.3,370.35 162.8,370.03 163.3,369.61 163.8,369.97 164.3,368.86 164.8,368.66 165.3,368.12 165.8,368.1 166.3,368.48 166.8,368.45 167.3,367.88 167.8,368.04 168.3,367.09 168.8,367.54 169.3,367.89 169.8,368.11 170.3,368.25 170.8,368.75 171.3,368.9 171.8,369.5 172.3,368.95 172.8,368.97 173.3,368.9 173.8,368.71 174.3,368.45 174.8,368.19 175.3,367.63 175.8,368.33 176.3,367.3 176.8,367.54 177.3,367.34 177.8,367.08 178.3,366.82 178.8,366.49 179.3,366.34 179.8,367.28 180.3,367.34 180.8,367.05 181.3,366.57 181.8,366.94 182.3,367.28 182.8,367.89 183.3,367.81 183.8,367.82 184.3,367.3 184.8,366.97 185.3,367.18 185.8,367.01 186.3,366.63 186.8,366.16 187.3,365.97 187.8,365.64 188.3,365.21 188.8,365.92 189.3,366.15 189.8,365.95 190.3,365.53 190.8,365.06 191.3,365.54 191.8,365.75 192.3,365.39 192.8,365.03 193.3,364.1 193.8,364.55 194.3,365.5 194.8,365.35 195.3,364.56 195.8,364.77 196.3,363.83 196.8,363.52 197.3,362.61 197.8,361.61 198.3,361.59 198.8,361.47 199.3,361.43 199.8,362.26 200.3,361.94 200.8,362.24 201.3,361.69 201.8,360.67 202.3,360.67 202.8,360.8 203.3,360.41 203.8,360.38 204.3,359.95 204.8,361 205.3,361.46 205.8,361.68 206.3,361.04 206.8,361.44 207.3,360.52 207.8,360.79 208.3,360.07 208.8,360.26 209.3,360.2 209.8,360.01 210.3,360.55 210.8,361 211.3,361.42 211.8,361.62 212.3,360.79 212.8,360.92 213.3,360.69 213.8,360.33 214.3,359.99 214.8,360.42 215.3,360.32 215.8,360.85 216.3,360.67 216.8,361.2 217.3,360.6 217.8,360.68 218.3,360.13 218.8,359.84 219.3,359.82 219.8,359.6 220.3,359.71 220.8,359.67 221.3,359.44 221.8,359 222.3,358.2 222.8,357.75 223.3,357.82 223.8,357.34 224.3,356.93 224.8,356.72 225.3,356.26 225.8,357.18 226.3,357.13 226.8,356.39 227.3,356.52 227.8,356.25 228.3,355.61 228.8,356.59 229.3,356.77 229.8,357.02 230.3,357.41 230.8,357.07 231.3,357.01 231.8,355.95 232.3,355.84 232.8,356.1 233.3,355.79 233.8,355.68 234.3,355.69 234.8,356.02 235.3,356.21 235.8,356.46 236.3,356.74 236.8,356.51 237.3,356.69 237.8,356.44 238.3,357.18 238.8,357.32 239.3,358.3 239.8,359.48 240.3,359.14 240.8,358.92 241.3,359.39 241.8,360.41 242.3,360.13 242.8,360.58 243.3,361.18 243.8,361.39 244.3,361.43 244.8,361.98 245.3,362.79 245.8,362.61 246.3,363.21 246.8,363.97 247.3,363.63 247.8,364.27 248.3,364.51 248.8,364.69 249.3,365.14 249.8,365.54 250.3,365.68 250.8,366.26 251.3,366.72 251.8,367.44 252.3,368 252.8,368.07 253.3,368.77 253.8,369.4 254.3,369.76 254.8,370.29 255.3,370.48 255.8,371.71 256.3,372.61 256.8,372.75 257.3,373.7 257.8,374.06 258.3,373.92 258.8,373.43 259.3,374.31 259.8,374.67 260.3,375.21 260.8,375.18 261.3,375.19 261.8,375.36 262.3,376.23 262.8,377.09 263.3,376.55 263.8,376.11 264.3,376.78 264.8,377.46 265.3,378.69 265.8,380.2 266.3,381.2 266.8,381.33 267.3,381.6 267.8,381.81 268.3,382.44 268.8,383.74 269.3,384.73 269.8,385.36 270.3,386.46 270.8,387.38 271.3,388.64 271.8,389.12 272.3,389.69 272.8,389.71 273.3,389.96 273.8,389.97 274.3,390.31 274.8,390.85 275.3,392.01 275.8,392.67 276.3,392.86 276.8,392.72 277.3,393.32 277.8,393.52 278.3,394.8 278.8,394.96 279.3,395.49 279.8,396 280.3,397 280.8,397.61 281.3,398.85 281.8,399.35 282.3,399.61 282.8,399.5 283.3,400.21 283.8,401.16 284.3,402.28 284.8,402.21 285.3,403.37 285.8,403.04 286.3,404.28 286.8,405.33 287.3,406 287.8,406.59 288.3,406.6 288.8,406.85 289.3,407.93 289.8,408.97 290.3,410.02 290.8,411.29 291.3,411.44 291.8,411.93 292.3,412.41 292.8,412.44 293.3,413.71 293.8,413.52 294.3,413.24 294.8,413.23 295.3,413.74 295.8,414.98 296.3,415.86 296.8,416.81 297.3,417.42 297.8,418.21 298.3,417.58 298.8,418.46 299.3,419.35 299.8,420.75 300.3,421.48 300.8,421.5 301.3,422.41 301.8,422.9 302.3,424.46 302.8,424.08 303.3,424.59 303.8,424.74 304.3,424.7 304.8,424.73 305.3,424.97 305.8,426.21 306.3,426.94 306.8,427.09 307.3,427.5 307.8,427.97 308.3,429.45 308.8,429.64 309.3,430.75 309.8,430.97 310.3,432 310.8,432.46 311.3,432.98 311.8,433.61 312.3,434.18 312.8,434.53 313.3,434.54 313.8,434.56 314.3,434.68 314.8,434.62 315.3,434.96 315.8,434.1 316.3,434.37 316.8,434.55 317.3,434.35 317.8,434.36 318.3,435.23 318.8,436 319.3,436.38 319.8,436.75 320.3,436.82 320.8,437.12 321.3,436.72 321.8,437.75 322.3,438.16 322.8,438.66 323.3,439.59 323.8,439.63 324.3,440.82 324.8,441.76 325.3,442.79 325.8,442.28 326.3,442.31 326.8,442.76 327.3,444.01 327.8,444.46 328.3,444.82 328.8,446.17 329.3,445.59 329.8,446.63 330.3,446.21 330.8,446.95 331.3,447.93 331.8,447.43 332.3,447.14 332.8,447.64 333.3,448.03 333.8,448.05 334.3,448.63 334.8,448.22 335.3,449.13 335.8,449.65 336.3,449.87 336.8,451 337.3,450.74 337.8,450.83 338.3,450.84 338.8,451.64 339.3,452.17 339.8,453.16 340.3,453.16 340.8,453.39 341.3,454.48 341.8,454.4 342.3,454.31 342.8,453.9 343.3,454.63 343.8,454.97 344.3,455.25 344.8,455.25 345.3,455.38 345.8,455.69 346.3,455.36 346.8,455.18 347.3,454.82 347.8,454.52 348.3,454.15 348.8,454.18 349.3,454.69 349.8,455.54 350.3,456.04 350.8,455.39 351.3,454.82 351.8,454.64 352.3,455.63 352.8,456.77 353.3,456.66 353.8,457.02 354.3,457.68 354.8,458.06 355.3,458.49 355.8,459.38 356.3,459.09 356.8,458.56 357.3,458.18 357.8,458.85 358.3,458.86 358.8,459.32 359.3,459.41 359.8,458.92 360.3,458.55 360.8,458.93 361.3,458.75 361.8,458.57 362.3,458.91 362.8,458.43 363.3,458.85 363.8,459.53 364.3,459.57 364.8,459.84 365.3,459.26 365.8,459.79 366.3,460.32 366.8,459.89 367.3,460.27 367.8,460.67 368.3,460.47 368.8,461.48 369.3,461.38 369.8,460.67 370.3,461.4 370.8,461.13 371.3,460.61 371.8,460.4 372.3,459.82 372.8,460.74 373.3,460.4 373.8,460.68 374.3,461.71 374.8,460.69 375.3,460.67 375.8,460.96 376.3,460.62 376.8,461.34 377.3,462.38 377.8,462.29 378.3,462.2 378.8,462.41 379.3,463.41 379.8,463.8 380.3,462.89 380.8,464.3 381.3,464.19 381.8,464.33 382.3,465.08 382.8,464.75 383.3,464.41 383.8,463.77 384.3,463.11 384.8,462.14 385.3,462.41 385.8,462.66 386.3,463.05 386.8,462.92 387.3,463.03 387.8,464.17 388.3,463.72 388.8,463.61 389.3,463.58 389.8,463.58 390.3,464.18 390.8,464.09 391.3,464.77 391.8,465.35 392.3,466.24 392.8,466.18 393.3,466.14 393.8,465.96 394.3,466.22 394.8,466.34 395.3,465.89 395.8,465.85" fill="none" stroke="#000" stroke-width="1.4" stroke-linejoin="round" stroke-linecap="round"/>
<polyline points="20.8,461.43 21.3,461.34 21.8,461.26 22.3,461.17 22.8,461.07 23.3,460.98 23.8,460.88 24.3,460.78 24.8,460.68 25.3,460.58 25.8,460.47 26.3,460.36 26.8,460.25 27.3,460.13 27.8,460.02 28.3,459.9 28.8,459.77 29.3,459.65 29.8,459.52 30.3,459.39 30.8,459.26 31.3,459.12 31.8,458.98 32.3,458.84 32.8,458.69 33.3,458.54 33.8,458.39 34.3,458.23 34.8,458.07 35.3,457.91 35.8,457.74 36.3,457.57 36.8,457.4 37.3,457.23 37.8,457.05 38.3,456.86 38.8,456.68 39.3,456.48 39.8,456.29 40.3,456.09 40.8,455.89 41.3,455.68 41.8,455.47 42.3,455.26 42.8,455.04 43.3,454.82 43.8,454.6 44.3,454.37 44.8,454.13 45.3,453.89 45.8,453.65 46.3,453.4 46.8,453.15 47.3,452.9 47.8,452.64 48.3,452.38 48.8,452.11 49.3,451.84 49.8,451.56 50.3,451.28 50.8,450.99 51.3,450.7 51.8,450.41 52.3,450.11 52.8,449.8 53.3,449.49 53.8,449.18 54.3,448.86 54.8,448.54 55.3,448.21 55.8,447.88 56.3,447.55 56.8,447.21 57.3,446.86 57.8,446.51 58.3,446.15 58.8,445.8 59.3,445.43 59.8,445.06 60.3,444.69 60.8,444.31 61.3,443.93 61.8,443.54 62.3,443.15 62.8,442.75 63.3,442.35 63.8,441.94 64.3,441.53 64.8,441.12 65.3,440.7 65.8,440.27 66.3,439.84 66.8,439.41 67.3,438.97 67.8,438.53 68.3,438.08 68.8,437.63 69.3,437.18 69.8,436.72 70.3,436.26 70.8,435.79 71.3,435.32 71.8,434.84 72.3,434.36 72.8,433.88 73.3,433.39 73.8,432.9 74.3,432.4 74.8,431.91 75.3,431.4 75.8,430.9 76.3,430.39 76.8,429.88 77.3,429.36 77.8,428.84 78.3,428.32 78.8,427.79 79.3,427.27 79.8,426.74 80.3,426.2 80.8,425.66 81.3,425.13 81.8,424.58 82.3,424.04 82.8,423.49 83.3,422.94 83.8,422.39 84.3,421.84 84.8,421.29 85.3,420.73 85.8,420.17 86.3,419.61 86.8,419.05 87.3,418.49 87.8,417.92 88.3,417.36 88.8,416.79 89.3,416.22 89.8,415.65 90.3,415.09 90.8,414.52 91.3,413.95 91.8,413.38 92.3,412.81 92.8,412.24 93.3,411.67 93.8,411.1 94.3,410.53 94.8,409.96 95.3,409.39 95.8,408.82 96.3,408.25 96.8,407.68 97.3,407.12 97.8,406.55 98.3,405.99 98.8,405.43 99.3,404.87 99.8,404.31 100.3,403.75 100.8,403.2 101.3,402.64 101.8,402.09 102.3,401.54 102.8,401 103.3,400.45 103.8,399.91 104.3,399.37 104.8,398.84 105.3,398.3 105.8,397.77 106.3,397.25 106.8,396.72 107.3,396.2 107.8,395.69 108.3,395.17 108.8,394.66 109.3,394.16 109.8,393.66 110.3,393.16 110.8,392.66 111.3,392.17 111.8,391.69 112.3,391.21 112.8,390.73 113.3,390.26 113.8,389.79 114.3,389.33 114.8,388.87 115.3,388.41 115.8,387.96 116.3,387.52 116.8,387.08 117.3,386.65 117.8,386.22 118.3,385.8 118.8,385.38 119.3,384.96 119.8,384.56 120.3,384.15 120.8,383.76 121.3,383.37 121.8,382.98 122.3,382.6 122.8,382.23 123.3,381.86 123.8,381.49 124.3,381.14 124.8,380.79 125.3,380.44 125.8,380.1 126.3,379.77 126.8,379.44 127.3,379.12 127.8,378.8 128.3,378.49 128.8,378.18 129.3,377.89 129.8,377.59 130.3,377.31 130.8,377.02 131.3,376.75 131.8,376.48 132.3,376.22 132.8,375.96 133.3,375.71 133.8,375.46 134.3,375.22 134.8,374.98 135.3,374.75 135.8,374.53 136.3,374.31 136.8,374.1 137.3,373.89 137.8,373.69 138.3,373.49 138.8,373.3 139.3,373.12 139.8,372.94 140.3,372.76 140.8,372.59 141.3,372.43 141.8,372.27 142.3,372.11 142.8,371.96 143.3,371.81 143.8,371.67 144.3,371.53 144.8,371.4 145.3,371.27 145.8,371.15 146.3,371.03 146.8,370.91 147.3,370.8 147.8,370.69 148.3,370.59 148.8,370.49 149.3,370.39 149.8,370.3 150.3,370.21 150.8,370.12 151.3,370.04 151.8,369.96 152.3,369.88 152.8,369.81 153.3,369.74 153.8,369.67 154.3,369.6 154.8,369.54 155.3,369.47 155.8,369.41 156.3,369.36 156.8,369.3 157.3,369.25 157.8,369.19 158.3,369.14 158.8,369.09 159.3,369.05 159.8,369 160.3,368.96 160.8,368.91 161.3,368.87 161.8,368.83 162.3,368.79 162.8,368.74 163.3,368.7 163.8,368.66 164.3,368.63 164.8,368.59 165.3,368.55 165.8,368.51 166.3,368.47 166.8,368.43 167.3,368.39 167.8,368.35 168.3,368.31 168.8,368.27 169.3,368.23 169.8,368.19 170.3,368.15 170.8,368.1 171.3,368.06 171.8,368.01 172.3,367.97 172.8,367.92 173.3,367.87 173.8,367.82 174.3,367.77 174.8,367.72 175.3,367.67 175.8,367.61 176.3,367.56 176.8,367.5 177.3,367.44 177.8,367.38 178.3,367.32 178.8,367.25 179.3,367.19 179.8,367.12 180.3,367.05 180.8,366.98 181.3,366.91 181.8,366.83 182.3,366.76 182.8,366.68 183.3,366.6 183.8,366.52 184.3,366.43 184.8,366.35 185.3,366.26 185.8,366.17 186.3,366.08 186.8,365.99 187.3,365.9 187.8,365.8 188.3,365.71 188.8,365.61 189.3,365.51 189.8,365.4 190.3,365.3 190.8,365.2 191.3,365.09 191.8,364.98 192.3,364.87 192.8,364.76 193.3,364.65 193.8,364.54 194.3,364.42 194.8,364.3 195.3,364.19 195.8,364.07 196.3,363.95 196.8,363.83 197.3,363.71 197.8,363.59 198.3,363.47 198.8,363.34 199.3,363.22 199.8,363.1 200.3,362.97 200.8,362.85 201.3,362.72 201.8,362.6 202.3,362.47 202.8,362.35 203.3,362.22 203.8,362.09 204.3,361.97 204.8,361.84 205.3,361.72 205.8,361.59 206.3,361.47 206.8,361.35 207.3,361.22 207.8,361.1 208.3,360.98 208.8,360.86 209.3,360.74 209.8,360.62 210.3,360.5 210.8,360.39 211.3,360.27 211.8,360.16 212.3,360.05 212.8,359.94 213.3,359.83 213.8,359.72 214.3,359.62 214.8,359.52 215.3,359.42 215.8,359.32 216.3,359.23 216.8,359.14 217.3,359.05 217.8,358.96 218.3,358.88 218.8,358.8 219.3,358.73 219.8,358.66 220.3,358.59 220.8,358.53 221.3,358.47 221.8,358.42 222.3,358.37 222.8,358.33 223.3,358.29 223.8,358.26 224.3,358.23 224.8,358.21 225.3,358.2 225.8,358.19 226.3,358.18 226.8,358.19 227.3,358.2 227.8,358.21 228.3,358.24 228.8,358.27 229.3,358.3 229.8,358.35 230.3,358.4 230.8,358.45 231.3,358.52 231.8,358.59 232.3,358.67 232.8,358.76 233.3,358.86 233.8,358.96 234.3,359.07 234.8,359.19 235.3,359.31 235.8,359.45 236.3,359.59 236.8,359.74 237.3,359.89 237.8,360.06 238.3,360.23 238.8,360.41 239.3,360.6 239.8,360.79 240.3,361 240.8,361.21 241.3,361.43 241.8,361.65 242.3,361.89 242.8,362.13 243.3,362.38 243.8,362.63 244.3,362.9 244.8,363.17 245.3,363.44 245.8,363.73 246.3,364.02 246.8,364.32 247.3,364.63 247.8,364.95 248.3,365.27 248.8,365.6 249.3,365.93 249.8,366.27 250.3,366.62 250.8,366.98 251.3,367.34 251.8,367.71 252.3,368.09 252.8,368.47 253.3,368.86 253.8,369.26 254.3,369.66 254.8,370.06 255.3,370.48 255.8,370.9 256.3,371.33 256.8,371.76 257.3,372.2 257.8,372.64 258.3,373.09 258.8,373.54 259.3,374 259.8,374.47 260.3,374.94 260.8,375.42 261.3,375.9 261.8,376.39 262.3,376.88 262.8,377.37 263.3,377.87 263.8,378.38 264.3,378.89 264.8,379.4 265.3,379.92 265.8,380.45 266.3,380.97 266.8,381.5 267.3,382.04 267.8,382.58 268.3,383.12 268.8,383.67 269.3,384.22 269.8,384.77 270.3,385.32 270.8,385.88 271.3,386.45 271.8,387.01 272.3,387.58 272.8,388.15 273.3,388.72 273.8,389.3 274.3,389.88 274.8,390.46 275.3,391.04 275.8,391.62 276.3,392.21 276.8,392.8 277.3,393.39 277.8,393.98 278.3,394.57 278.8,395.16 279.3,395.76 279.8,396.35 280.3,396.95 280.8,397.55 281.3,398.15 281.8,398.74 282.3,399.34 282.8,399.94 283.3,400.54 283.8,401.15 284.3,401.75 284.8,402.35 285.3,402.95 285.8,403.55 286.3,404.15 286.8,404.75 287.3,405.35 287.8,405.94 288.3,406.54 288.8,407.14 289.3,407.73 289.8,408.33 290.3,408.92 290.8,409.51 291.3,410.11 291.8,410.7 292.3,411.28 292.8,411.87 293.3,412.46 293.8,413.04 294.3,413.62 294.8,414.2 295.3,414.78 295.8,415.35 296.3,415.92 296.8,416.5 297.3,417.06 297.8,417.63 298.3,418.19 298.8,418.75 299.3,419.31 299.8,419.87 300.3,420.42 300.8,420.97 301.3,421.52 301.8,422.06 302.3,422.6 302.8,423.14 303.3,423.68 303.8,424.21 304.3,424.74 304.8,425.26 305.3,425.78 305.8,426.3 306.3,426.82 306.8,427.33 307.3,427.84 307.8,428.34 308.3,428.84 308.8,429.34 309.3,429.83 309.8,430.32 310.3,430.81 310.8,431.29 311.3,431.76 311.8,432.24 312.3,432.71 312.8,433.17 313.3,433.64 313.8,434.09 314.3,434.55 314.8,435 315.3,435.44 315.8,435.89 316.3,436.32 316.8,436.76 317.3,437.19 317.8,437.61 318.3,438.03 318.8,438.45 319.3,438.86 319.8,439.27 320.3,439.67 320.8,440.07 321.3,440.47 321.8,440.86 322.3,441.25 322.8,441.63 323.3,442.01 323.8,442.38 324.3,442.75 324.8,443.12 325.3,443.48 325.8,443.84 326.3,444.19 326.8,444.54 327.3,444.88 327.8,445.22 328.3,445.56 328.8,445.89 329.3,446.22 329.8,446.54 330.3,446.86 330.8,447.18 331.3,447.49 331.8,447.79 332.3,448.1 332.8,448.4 333.3,448.69 333.8,448.98 334.3,449.27 334.8,449.55 335.3,449.83 335.8,450.11 336.3,450.38 336.8,450.64 337.3,450.91 337.8,451.17 338.3,451.42 338.8,451.67 339.3,451.92 339.8,452.17 340.3,452.41 340.8,452.64 341.3,452.88 341.8,453.11 342.3,453.33 342.8,453.56 343.3,453.77 343.8,453.99 344.3,454.2 344.8,454.41 345.3,454.62 345.8,454.82 346.3,455.02 346.8,455.21 347.3,455.4 347.8,455.59 348.3,455.78 348.8,455.96 349.3,456.14 349.8,456.32 350.3,456.49 350.8,456.66 351.3,456.83 351.8,456.99 352.3,457.15 352.8,457.31 353.3,457.47 353.8,457.62 354.3,457.77 354.8,457.91 355.3,458.06 355.8,458.2 356.3,458.34 356.8,458.48 357.3,458.61 357.8,458.74 358.3,458.87 358.8,459 359.3,459.12 359.8,459.24 360.3,459.36 360.8,459.48 361.3,459.59 361.8,459.7 362.3,459.81 362.8,459.92 363.3,460.03 363.8,460.13 364.3,460.23 364.8,460.33 365.3,460.43 365.8,460.52 366.3,460.61 366.8,460.71 367.3,460.79 367.8,460.88 368.3,460.97 368.8,461.05 369.3,461.13 369.8,461.21 370.3,461.29 370.8,461.37 371.3,461.44 371.8,461.52 372.3,461.59 372.8,461.66 373.3,461.73 373.8,461.79 374.3,461.86 374.8,461.92 375.3,461.98 375.8,462.05 376.3,462.11 376.8,462.16 377.3,462.22 377.8,462.28 378.3,462.33 378.8,462.38 379.3,462.44 379.8,462.49 380.3,462.54 380.8,462.58 381.3,462.63 381.8,462.68 382.3,462.72 382.8,462.76 383.3,462.81 383.8,462.85 384.3,462.89 384.8,462.93 385.3,462.97 385.8,463 386.3,463.04 386.8,463.08 387.3,463.11 387.8,463.15 388.3,463.18 388.8,463.21 389.3,463.24 389.8,463.27 390.3,463.3 390.8,463.33 391.3,463.36 391.8,463.39 392.3,463.41 392.8,463.44 393.3,463.47 393.8,463.49 394.3,463.52 394.8,463.54 395.3,463.56 395.8,463.58" fill="none" stroke="#ff0000" stroke-width="1.6" stroke-linejoin="round" stroke-linecap="round"/>
<polyline points="20.8,461.44 21.3,461.36 21.8,461.27 22.3,461.18 22.8,461.09 23.3,460.99 23.8,460.9 24.3,460.8 24.8,460.7 25.3,460.59 25.8,460.49 26.3,460.38 26.8,460.27 27.3,460.16 27.8,460.04 28.3,459.92 28.8,459.8 29.3,459.67 29.8,459.55 30.3,459.42 30.8,459.28 31.3,459.15 31.8,459.01 32.3,458.87 32.8,458.72 33.3,458.57 33.8,458.42 34.3,458.27 34.8,458.11 35.3,457.95 35.8,457.79 36.3,457.62 36.8,457.45 37.3,457.27 37.8,457.1 38.3,456.91 38.8,456.73 39.3,456.54 39.8,456.35 40.3,456.15 40.8,455.95 41.3,455.75 41.8,455.54 42.3,455.33 42.8,455.12 43.3,454.9 43.8,454.67 44.3,454.45 44.8,454.22 45.3,453.98 45.8,453.74 46.3,453.5 46.8,453.25 47.3,453 47.8,452.74 48.3,452.48 48.8,452.22 49.3,451.95 49.8,451.68 50.3,451.4 50.8,451.12 51.3,450.84 51.8,450.55 52.3,450.25 52.8,449.95 53.3,449.65 53.8,449.34 54.3,449.03 54.8,448.71 55.3,448.39 55.8,448.07 56.3,447.74 56.8,447.4 57.3,447.06 57.8,446.72 58.3,446.37 58.8,446.02 59.3,445.66 59.8,445.3 60.3,444.94 60.8,444.57 61.3,444.19 61.8,443.81 62.3,443.43 62.8,443.04 63.3,442.65 63.8,442.25 64.3,441.85 64.8,441.45 65.3,441.04 65.8,440.63 66.3,440.21 66.8,439.79 67.3,439.36 67.8,438.93 68.3,438.5 68.8,438.06 69.3,437.62 69.8,437.17 70.3,436.72 70.8,436.27 71.3,435.81 71.8,435.35 72.3,434.89 72.8,434.42 73.3,433.95 73.8,433.48 74.3,433 74.8,432.52 75.3,432.04 75.8,431.55 76.3,431.06 76.8,430.57 77.3,430.07 77.8,429.58 78.3,429.07 78.8,428.57 79.3,428.07 79.8,427.56 80.3,427.05 80.8,426.54 81.3,426.02 81.8,425.51 82.3,424.99 82.8,424.47 83.3,423.95 83.8,423.43 84.3,422.91 84.8,422.38 85.3,421.86 85.8,421.33 86.3,420.8 86.8,420.27 87.3,419.75 87.8,419.22 88.3,418.69 88.8,418.16 89.3,417.63 89.8,417.1 90.3,416.57 90.8,416.04 91.3,415.52 91.8,414.99 92.3,414.46 92.8,413.94 93.3,413.41 93.8,412.89 94.3,412.37 94.8,411.85 95.3,411.34 95.8,410.82 96.3,410.31 96.8,409.8 97.3,409.29 97.8,408.78 98.3,408.28 98.8,407.78 99.3,407.28 99.8,406.79 100.3,406.3 100.8,405.81 101.3,405.32 101.8,404.84 102.3,404.37 102.8,403.9 103.3,403.43 103.8,402.97 104.3,402.51 104.8,402.06 105.3,401.61 105.8,401.17 106.3,400.73 106.8,400.3 107.3,399.87 107.8,399.45 108.3,399.03 108.8,398.62 109.3,398.22 109.8,397.82 110.3,397.43 110.8,397.05 111.3,396.67 111.8,396.3 112.3,395.94 112.8,395.58 113.3,395.24 113.8,394.9 114.3,394.56 114.8,394.24 115.3,393.92 115.8,393.61 116.3,393.3 116.8,393.01 117.3,392.72 117.8,392.45 118.3,392.18 118.8,391.92 119.3,391.67 119.8,391.42 120.3,391.19 120.8,390.96 121.3,390.75 121.8,390.54 122.3,390.34 122.8,390.15 123.3,389.97 123.8,389.8 124.3,389.64 124.8,389.49 125.3,389.35 125.8,389.22 126.3,389.09 126.8,388.98 127.3,388.88 127.8,388.79 128.3,388.7 128.8,388.63 129.3,388.57 129.8,388.52 130.3,388.47 130.8,388.44 131.3,388.42 131.8,388.4 132.3,388.4 132.8,388.41 133.3,388.42 133.8,388.45 134.3,388.49 134.8,388.54 135.3,388.59 135.8,388.66 136.3,388.74 136.8,388.82 137.3,388.92 137.8,389.03 138.3,389.14 138.8,389.27 139.3,389.4 139.8,389.55 140.3,389.7 140.8,389.87 141.3,390.04 141.8,390.23 142.3,390.42 142.8,390.62 143.3,390.83 143.8,391.05 144.3,391.28 144.8,391.52 145.3,391.76 145.8,392.02 146.3,392.28 146.8,392.56 147.3,392.84 147.8,393.13 148.3,393.42 148.8,393.73 149.3,394.04 149.8,394.36 150.3,394.69 150.8,395.03 151.3,395.37 151.8,395.73 152.3,396.09 152.8,396.45 153.3,396.82 153.8,397.2 154.3,397.59 154.8,397.98 155.3,398.38 155.8,398.79 156.3,399.2 156.8,399.62 157.3,400.04 157.8,400.47 158.3,400.9 158.8,401.34 159.3,401.79 159.8,402.24 160.3,402.69 160.8,403.15 161.3,403.62 161.8,404.09 162.3,404.56 162.8,405.04 163.3,405.52 163.8,406 164.3,406.49 164.8,406.98 165.3,407.48 165.8,407.98 166.3,408.48 166.8,408.98 167.3,409.49 167.8,410 168.3,410.51 168.8,411.03 169.3,411.54 169.8,412.06 170.3,412.58 170.8,413.1 171.3,413.62 171.8,414.15 172.3,414.67 172.8,415.2 173.3,415.73 173.8,416.25 174.3,416.78 174.8,417.31 175.3,417.84 175.8,418.37 176.3,418.9 176.8,419.43 177.3,419.96 177.8,420.49 178.3,421.01 178.8,421.54 179.3,422.07 179.8,422.59 180.3,423.11 180.8,423.64 181.3,424.16 181.8,424.68 182.3,425.2 182.8,425.71 183.3,426.23 183.8,426.74 184.3,427.25 184.8,427.76 185.3,428.27 185.8,428.77 186.3,429.28 186.8,429.77 187.3,430.27 187.8,430.77 188.3,431.26 188.8,431.75 189.3,432.23 189.8,432.71 190.3,433.19 190.8,433.67 191.3,434.14 191.8,434.61 192.3,435.08 192.8,435.54 193.3,436 193.8,436.45 194.3,436.9 194.8,437.35 195.3,437.8 195.8,438.23 196.3,438.67 196.8,439.1 197.3,439.53 197.8,439.96 198.3,440.38 198.8,440.79 199.3,441.2 199.8,441.61 200.3,442.01 200.8,442.41 201.3,442.81 201.8,443.2 202.3,443.58 202.8,443.96 203.3,444.34 203.8,444.71 204.3,445.08 204.8,445.45 205.3,445.81 205.8,446.16 206.3,446.51 206.8,446.86 207.3,447.2 207.8,447.54 208.3,447.87 208.8,448.2 209.3,448.52 209.8,448.84 210.3,449.15 210.8,449.47 211.3,449.77 211.8,450.07 212.3,450.37 212.8,450.66 213.3,450.95 213.8,451.23 214.3,451.51 214.8,451.79 215.3,452.06 215.8,452.33 216.3,452.59 216.8,452.85 217.3,453.1 217.8,453.35 218.3,453.6 218.8,453.84 219.3,454.08 219.8,454.31 220.3,454.54 220.8,454.76 221.3,454.98 221.8,455.2 222.3,455.42 222.8,455.62 223.3,455.83 223.8,456.03 224.3,456.23 224.8,456.43 225.3,456.62 225.8,456.8 226.3,456.99 226.8,457.17 227.3,457.34 227.8,457.52 228.3,457.69 228.8,457.85 229.3,458.02 229.8,458.18 230.3,458.33 230.8,458.48 231.3,458.63 231.8,458.78 232.3,458.92 232.8,459.07 233.3,459.2 233.8,459.34 234.3,459.47 234.8,459.6 235.3,459.72 235.8,459.85 236.3,459.97 236.8,460.09 237.3,460.2 237.8,460.31 238.3,460.42 238.8,460.53 239.3,460.64 239.8,460.74 240.3,460.84 240.8,460.94 241.3,461.03 241.8,461.12 242.3,461.22 242.8,461.3 243.3,461.39 243.8,461.48 244.3,461.56 244.8,461.64 245.3,461.72 245.8,461.79 246.3,461.87 246.8,461.94 247.3,462.01 247.8,462.08 248.3,462.15 248.8,462.21 249.3,462.27 249.8,462.34 250.3,462.4 250.8,462.45 251.3,462.51 251.8,462.57 252.3,462.62 252.8,462.67 253.3,462.72 253.8,462.77 254.3,462.82 254.8,462.87 255.3,462.92 255.8,462.96 256.3,463 256.8,463.05 257.3,463.09 257.8,463.13 258.3,463.16 258.8,463.2 259.3,463.24 259.8,463.27 260.3,463.31 260.8,463.34 261.3,463.37 261.8,463.4 262.3,463.43 262.8,463.46 263.3,463.49 263.8,463.52 264.3,463.55 264.8,463.57 265.3,463.6 265.8,463.62 266.3,463.64 266.8,463.67 267.3,463.69 267.8,463.71 268.3,463.73 268.8,463.75 269.3,463.77 269.8,463.79 270.3,463.81 270.8,463.83 271.3,463.84 271.8,463.86 272.3,463.88 272.8,463.89 273.3,463.91 273.8,463.92 274.3,463.93 274.8,463.95 275.3,463.96 275.8,463.97 276.3,463.99 276.8,464 277.3,464.01 277.8,464.02 278.3,464.03 278.8,464.04 279.3,464.05 279.8,464.06 280.3,464.07 280.8,464.08 281.3,464.09 281.8,464.09 282.3,464.1 282.8,464.11 283.3,464.12 283.8,464.13 284.3,464.13 284.8,464.14 285.3,464.14 285.8,464.15 286.3,464.16 286.8,464.16 287.3,464.17 287.8,464.17 288.3,464.18 288.8,464.18 289.3,464.19 289.8,464.19 290.3,464.2 290.8,464.2 291.3,464.21 291.8,464.21 292.3,464.21 292.8,464.22 293.3,464.22 293.8,464.22 294.3,464.23 294.8,464.23 295.3,464.23 295.8,464.24 296.3,464.24 296.8,464.24 297.3,464.24 297.8,464.25 298.3,464.25 298.8,464.25 299.3,464.25 299.8,464.25 300.3,464.26 300.8,464.26 301.3,464.26 301.8,464.26 302.3,464.26 302.8,464.27 303.3,464.27 303.8,464.27 304.3,464.27 304.8,464.27 305.3,464.27 305.8,464.27 306.3,464.27 306.8,464.28 307.3,464.28 307.8,464.28 308.3,464.28 308.8,464.28 309.3,464.28 309.8,464.28 310.3,464.28 310.8,464.28 311.3,464.28 311.8,464.28 312.3,464.29 312.8,464.29 313.3,464.29 313.8,464.29 314.3,464.29 314.8,464.29 315.3,464.29 315.8,464.29 316.3,464.29 316.8,464.29 317.3,464.29 317.8,464.29 318.3,464.29 318.8,464.29 319.3,464.29 319.8,464.29 320.3,464.29 320.8,464.29 321.3,464.29 321.8,464.29 322.3,464.29 322.8,464.29 323.3,464.3 323.8,464.3 324.3,464.3 324.8,464.3 325.3,464.3 325.8,464.3 326.3,464.3 326.8,464.3 327.3,464.3 327.8,464.3 328.3,464.3 328.8,464.3 329.3,464.3 329.8,464.3 330.3,464.3 330.8,464.3 331.3,464.3 331.8,464.3 332.3,464.3 332.8,464.3 333.3,464.3 333.8,464.3 334.3,464.3 334.8,464.3 335.3,464.3 335.8,464.3 336.3,464.3 336.8,464.3 337.3,464.3 337.8,464.3 338.3,464.3 338.8,464.3 339.3,464.3 339.8,464.3 340.3,464.3 340.8,464.3 341.3,464.3 341.8,464.3 342.3,464.3 342.8,464.3 343.3,464.3 343.8,464.3 344.3,464.3 344.8,464.3 345.3,464.3 345.8,464.3 346.3,464.3 346.8,464.3 347.3,464.3 347.8,464.3 348.3,464.3 348.8,464.3 349.3,464.3 349.8,464.3 350.3,464.3 350.8,464.3 351.3,464.3 351.8,464.3 352.3,464.3 352.8,464.3 353.3,464.3 353.8,464.3 354.3,464.3 354.8,464.3 355.3,464.3 355.8,464.3 356.3,464.3 356.8,464.3 357.3,464.3 357.8,464.3 358.3,464.3 358.8,464.3 359.3,464.3 359.8,464.3 360.3,464.3 360.8,464.3 361.3,464.3 361.8,464.3 362.3,464.3 362.8,464.3 363.3,464.3 363.8,464.3 364.3,464.3 364.8,464.3 365.3,464.3 365.8,464.3 366.3,464.3 366.8,464.3 367.3,464.3 367.8,464.3 368.3,464.3 368.8,464.3 369.3,464.3 369.8,464.3 370.3,464.3 370.8,464.3 371.3,464.3 371.8,464.3 372.3,464.3 372.8,464.3 373.3,464.3 373.8,464.3 374.3,464.3 374.8,464.3 375.3,464.3 375.8,464.3 376.3,464.3 376.8,464.3 377.3,464.3 377.8,464.3 378.3,464.3 378.8,464.3 379.3,464.3 379.8,464.3 380.3,464.3 380.8,464.3 381.3,464.3 381.8,464.3 382.3,464.3 382.8,464.3 383.3,464.3 383.8,464.3 384.3,464.3 384.8,464.3 385.3,464.3 385.8,464.3 386.3,464.3 386.8,464.3 387.3,464.3 387.8,464.3 388.3,464.3 388.8,464.3 389.3,464.3 389.8,464.3 390.3,464.3 390.8,464.3 391.3,464.3 391.8,464.3 392.3,464.3 392.8,464.3 393.3,464.3 393.8,464.3 394.3,464.3 394.8,464.3 395.3,464.3 395.8,464.3" fill="none" stroke="#00f000" stroke-width="1.6" stroke-linejoin="round" stroke-linecap="round"/>
<polyline points="20.8,464.28 21.3,464.28 21.8,464.28 22.3,464.28 22.8,464.28 23.3,464.28 23.8,464.28 24.3,464.27 24.8,464.27 25.3,464.27 25.8,464.27 26.3,464.27 26.8,464.27 27.3,464.27 27.8,464.27 28.3,464.26 28.8,464.26 29.3,464.26 29.8,464.26 30.3,464.26 30.8,464.26 31.3,464.26 31.8,464.25 32.3,464.25 32.8,464.25 33.3,464.25 33.8,464.25 34.3,464.24 34.8,464.24 35.3,464.24 35.8,464.24 36.3,464.24 36.8,464.23 37.3,464.23 37.8,464.23 38.3,464.23 38.8,464.22 39.3,464.22 39.8,464.22 40.3,464.21 40.8,464.21 41.3,464.21 41.8,464.2 42.3,464.2 42.8,464.2 43.3,464.19 43.8,464.19 44.3,464.18 44.8,464.18 45.3,464.18 45.8,464.17 46.3,464.17 46.8,464.16 47.3,464.16 47.8,464.15 48.3,464.15 48.8,464.14 49.3,464.14 49.8,464.13 50.3,464.12 50.8,464.12 51.3,464.11 51.8,464.1 52.3,464.1 52.8,464.09 53.3,464.08 53.8,464.08 54.3,464.07 54.8,464.06 55.3,464.05 55.8,464.04 56.3,464.03 56.8,464.03 57.3,464.02 57.8,464.01 58.3,464 58.8,463.99 59.3,463.98 59.8,463.96 60.3,463.95 60.8,463.94 61.3,463.93 61.8,463.92 62.3,463.91 62.8,463.89 63.3,463.88 63.8,463.87 64.3,463.85 64.8,463.84 65.3,463.82 65.8,463.81 66.3,463.79 66.8,463.77 67.3,463.76 67.8,463.74 68.3,463.72 68.8,463.7 69.3,463.69 69.8,463.67 70.3,463.65 70.8,463.63 71.3,463.61 71.8,463.58 72.3,463.56 72.8,463.54 73.3,463.52 73.8,463.49 74.3,463.47 74.8,463.44 75.3,463.41 75.8,463.39 76.3,463.36 76.8,463.33 77.3,463.3 77.8,463.27 78.3,463.24 78.8,463.21 79.3,463.18 79.8,463.15 80.3,463.11 80.8,463.08 81.3,463.04 81.8,463 82.3,462.97 82.8,462.93 83.3,462.89 83.8,462.85 84.3,462.81 84.8,462.76 85.3,462.72 85.8,462.68 86.3,462.63 86.8,462.58 87.3,462.54 87.8,462.49 88.3,462.44 88.8,462.38 89.3,462.33 89.8,462.28 90.3,462.22 90.8,462.16 91.3,462.11 91.8,462.05 92.3,461.98 92.8,461.92 93.3,461.86 93.8,461.79 94.3,461.73 94.8,461.66 95.3,461.59 95.8,461.52 96.3,461.44 96.8,461.37 97.3,461.29 97.8,461.21 98.3,461.13 98.8,461.05 99.3,460.97 99.8,460.88 100.3,460.79 100.8,460.71 101.3,460.61 101.8,460.52 102.3,460.43 102.8,460.33 103.3,460.23 103.8,460.13 104.3,460.03 104.8,459.92 105.3,459.81 105.8,459.7 106.3,459.59 106.8,459.48 107.3,459.36 107.8,459.24 108.3,459.12 108.8,459 109.3,458.87 109.8,458.74 110.3,458.61 110.8,458.48 111.3,458.34 111.8,458.2 112.3,458.06 112.8,457.91 113.3,457.77 113.8,457.62 114.3,457.47 114.8,457.31 115.3,457.15 115.8,456.99 116.3,456.83 116.8,456.66 117.3,456.49 117.8,456.32 118.3,456.14 118.8,455.96 119.3,455.78 119.8,455.59 120.3,455.4 120.8,455.21 121.3,455.02 121.8,454.82 122.3,454.62 122.8,454.41 123.3,454.2 123.8,453.99 124.3,453.78 124.8,453.56 125.3,453.33 125.8,453.11 126.3,452.88 126.8,452.64 127.3,452.41 127.8,452.17 128.3,451.92 128.8,451.67 129.3,451.42 129.8,451.17 130.3,450.91 130.8,450.64 131.3,450.38 131.8,450.11 132.3,449.83 132.8,449.55 133.3,449.27 133.8,448.98 134.3,448.69 134.8,448.4 135.3,448.1 135.8,447.8 136.3,447.49 136.8,447.18 137.3,446.86 137.8,446.54 138.3,446.22 138.8,445.89 139.3,445.56 139.8,445.23 140.3,444.88 140.8,444.54 141.3,444.19 141.8,443.84 142.3,443.48 142.8,443.12 143.3,442.76 143.8,442.39 144.3,442.01 144.8,441.63 145.3,441.25 145.8,440.86 146.3,440.47 146.8,440.08 147.3,439.68 147.8,439.28 148.3,438.87 148.8,438.46 149.3,438.04 149.8,437.62 150.3,437.19 150.8,436.77 151.3,436.33 151.8,435.9 152.3,435.45 152.8,435.01 153.3,434.56 153.8,434.11 154.3,433.65 154.8,433.19 155.3,432.72 155.8,432.25 156.3,431.78 156.8,431.3 157.3,430.82 157.8,430.34 158.3,429.85 158.8,429.36 159.3,428.86 159.8,428.36 160.3,427.86 160.8,427.35 161.3,426.84 161.8,426.33 162.3,425.81 162.8,425.29 163.3,424.77 163.8,424.24 164.3,423.71 164.8,423.18 165.3,422.64 165.8,422.1 166.3,421.56 166.8,421.01 167.3,420.46 167.8,419.91 168.3,419.36 168.8,418.8 169.3,418.24 169.8,417.68 170.3,417.12 170.8,416.55 171.3,415.99 171.8,415.42 172.3,414.84 172.8,414.27 173.3,413.69 173.8,413.11 174.3,412.53 174.8,411.95 175.3,411.37 175.8,410.79 176.3,410.2 176.8,409.61 177.3,409.02 177.8,408.44 178.3,407.85 178.8,407.25 179.3,406.66 179.8,406.07 180.3,405.48 180.8,404.88 181.3,404.29 181.8,403.7 182.3,403.1 182.8,402.51 183.3,401.91 183.8,401.32 184.3,400.73 184.8,400.13 185.3,399.54 185.8,398.95 186.3,398.36 186.8,397.77 187.3,397.18 187.8,396.59 188.3,396 188.8,395.42 189.3,394.84 189.8,394.25 190.3,393.67 190.8,393.1 191.3,392.52 191.8,391.95 192.3,391.37 192.8,390.8 193.3,390.24 193.8,389.67 194.3,389.11 194.8,388.55 195.3,388 195.8,387.45 196.3,386.9 196.8,386.35 197.3,385.81 197.8,385.27 198.3,384.74 198.8,384.21 199.3,383.68 199.8,383.16 200.3,382.64 200.8,382.13 201.3,381.62 201.8,381.11 202.3,380.61 202.8,380.12 203.3,379.63 203.8,379.15 204.3,378.67 204.8,378.19 205.3,377.73 205.8,377.26 206.3,376.81 206.8,376.36 207.3,375.91 207.8,375.47 208.3,375.04 208.8,374.61 209.3,374.2 209.8,373.78 210.3,373.38 210.8,372.98 211.3,372.58 211.8,372.2 212.3,371.82 212.8,371.45 213.3,371.09 213.8,370.73 214.3,370.38 214.8,370.04 215.3,369.7 215.8,369.38 216.3,369.06 216.8,368.75 217.3,368.45 217.8,368.15 218.3,367.87 218.8,367.59 219.3,367.32 219.8,367.06 220.3,366.81 220.8,366.56 221.3,366.33 221.8,366.1 222.3,365.88 222.8,365.68 223.3,365.48 223.8,365.28 224.3,365.1 224.8,364.93 225.3,364.76 225.8,364.61 226.3,364.46 226.8,364.33 227.3,364.2 227.8,364.08 228.3,363.97 228.8,363.87 229.3,363.78 229.8,363.7 230.3,363.63 230.8,363.57 231.3,363.52 231.8,363.48 232.3,363.44 232.8,363.42 233.3,363.4 233.8,363.4 234.3,363.4 234.8,363.42 235.3,363.44 235.8,363.48 236.3,363.52 236.8,363.57 237.3,363.63 237.8,363.7 238.3,363.78 238.8,363.87 239.3,363.97 239.8,364.08 240.3,364.2 240.8,364.33 241.3,364.46 241.8,364.61 242.3,364.76 242.8,364.93 243.3,365.1 243.8,365.28 244.3,365.48 244.8,365.68 245.3,365.88 245.8,366.1 246.3,366.33 246.8,366.56 247.3,366.81 247.8,367.06 248.3,367.32 248.8,367.59 249.3,367.87 249.8,368.15 250.3,368.45 250.8,368.75 251.3,369.06 251.8,369.38 252.3,369.7 252.8,370.04 253.3,370.38 253.8,370.73 254.3,371.09 254.8,371.45 255.3,371.82 255.8,372.2 256.3,372.58 256.8,372.98 257.3,373.38 257.8,373.78 258.3,374.2 258.8,374.61 259.3,375.04 259.8,375.47 260.3,375.91 260.8,376.36 261.3,376.81 261.8,377.26 262.3,377.73 262.8,378.19 263.3,378.67 263.8,379.15 264.3,379.63 264.8,380.12 265.3,380.61 265.8,381.11 266.3,381.62 266.8,382.13 267.3,382.64 267.8,383.16 268.3,383.68 268.8,384.21 269.3,384.74 269.8,385.27 270.3,385.81 270.8,386.35 271.3,386.9 271.8,387.45 272.3,388 272.8,388.55 273.3,389.11 273.8,389.67 274.3,390.24 274.8,390.8 275.3,391.37 275.8,391.95 276.3,392.52 276.8,393.1 277.3,393.67 277.8,394.25 278.3,394.84 278.8,395.42 279.3,396 279.8,396.59 280.3,397.18 280.8,397.77 281.3,398.36 281.8,398.95 282.3,399.54 282.8,400.13 283.3,400.73 283.8,401.32 284.3,401.91 284.8,402.51 285.3,403.1 285.8,403.7 286.3,404.29 286.8,404.88 287.3,405.48 287.8,406.07 288.3,406.66 288.8,407.25 289.3,407.85 289.8,408.44 290.3,409.02 290.8,409.61 291.3,410.2 291.8,410.79 292.3,411.37 292.8,411.95 293.3,412.53 293.8,413.11 294.3,413.69 294.8,414.27 295.3,414.84 295.8,415.42 296.3,415.99 296.8,416.55 297.3,417.12 297.8,417.68 298.3,418.24 298.8,418.8 299.3,419.36 299.8,419.91 300.3,420.46 300.8,421.01 301.3,421.56 301.8,422.1 302.3,422.64 302.8,423.18 303.3,423.71 303.8,424.24 304.3,424.77 304.8,425.29 305.3,425.81 305.8,426.33 306.3,426.84 306.8,427.35 307.3,427.86 307.8,428.36 308.3,428.86 308.8,429.36 309.3,429.85 309.8,430.34 310.3,430.82 310.8,431.3 311.3,431.78 311.8,432.25 312.3,432.72 312.8,433.19 313.3,433.65 313.8,434.11 314.3,434.56 314.8,435.01 315.3,435.45 315.8,435.9 316.3,436.33 316.8,436.77 317.3,437.19 317.8,437.62 318.3,438.04 318.8,438.46 319.3,438.87 319.8,439.28 320.3,439.68 320.8,440.08 321.3,440.47 321.8,440.86 322.3,441.25 322.8,441.63 323.3,442.01 323.8,442.39 324.3,442.76 324.8,443.12 325.3,443.48 325.8,443.84 326.3,444.19 326.8,444.54 327.3,444.88 327.8,445.23 328.3,445.56 328.8,445.89 329.3,446.22 329.8,446.54 330.3,446.86 330.8,447.18 331.3,447.49 331.8,447.8 332.3,448.1 332.8,448.4 333.3,448.69 333.8,448.98 334.3,449.27 334.8,449.55 335.3,449.83 335.8,450.11 336.3,450.38 336.8,450.64 337.3,450.91 337.8,451.17 338.3,451.42 338.8,451.67 339.3,451.92 339.8,452.17 340.3,452.41 340.8,452.64 341.3,452.88 341.8,453.11 342.3,453.33 342.8,453.56 343.3,453.78 343.8,453.99 344.3,454.2 344.8,454.41 345.3,454.62 345.8,454.82 346.3,455.02 346.8,455.21 347.3,455.4 347.8,455.59 348.3,455.78 348.8,455.96 349.3,456.14 349.8,456.32 350.3,456.49 350.8,456.66 351.3,456.83 351.8,456.99 352.3,457.15 352.8,457.31 353.3,457.47 353.8,457.62 354.3,457.77 354.8,457.91 355.3,458.06 355.8,458.2 356.3,458.34 356.8,458.48 357.3,458.61 357.8,458.74 358.3,458.87 358.8,459 359.3,459.12 359.8,459.24 360.3,459.36 360.8,459.48 361.3,459.59 361.8,459.7 362.3,459.81 362.8,459.92 363.3,460.03 363.8,460.13 364.3,460.23 364.8,460.33 365.3,460.43 365.8,460.52 366.3,460.61 366.8,460.71 367.3,460.79 367.8,460.88 368.3,460.97 368.8,461.05 369.3,461.13 369.8,461.21 370.3,461.29 370.8,461.37 371.3,461.44 371.8,461.52 372.3,461.59 372.8,461.66 373.3,461.73 373.8,461.79 374.3,461.86 374.8,461.92 375.3,461.98 375.8,462.05 376.3,462.11 376.8,462.16 377.3,462.22 377.8,462.28 378.3,462.33 378.8,462.38 379.3,462.44 379.8,462.49 380.3,462.54 380.8,462.58 381.3,462.63 381.8,462.68 382.3,462.72 382.8,462.76 383.3,462.81 383.8,462.85 384.3,462.89 384.8,462.93 385.3,462.97 385.8,463 386.3,463.04 386.8,463.08 387.3,463.11 387.8,463.15 388.3,463.18 388.8,463.21 389.3,463.24 389.8,463.27 390.3,463.3 390.8,463.33 391.3,463.36 391.8,463.39 392.3,463.41 392.8,463.44 393.3,463.47 393.8,463.49 394.3,463.52 394.8,463.54 395.3,463.56 395.8,463.58" fill="none" stroke="#0000f5" stroke-width="1.6" stroke-linejoin="round" stroke-linecap="round"/>
<line x1="17.1" y1="464.2" x2="20.8" y2="464.2" stroke="#111" stroke-width="1.4"/>
<line x1="392.3" y1="464.2" x2="395.8" y2="464.2" stroke="#111" stroke-width="1.4"/>
<line x1="17.1" y1="444.52" x2="20.8" y2="444.52" stroke="#111" stroke-width="1.4"/>
<line x1="392.3" y1="444.52" x2="395.8" y2="444.52" stroke="#111" stroke-width="1.4"/>
<line x1="17.1" y1="424.83" x2="20.8" y2="424.83" stroke="#111" stroke-width="1.4"/>
<line x1="392.3" y1="424.83" x2="395.8" y2="424.83" stroke="#111" stroke-width="1.4"/>
<line x1="17.1" y1="405.15" x2="20.8" y2="405.15" stroke="#111" stroke-width="1.4"/>
<line x1="392.3" y1="405.15" x2="395.8" y2="405.15" stroke="#111" stroke-width="1.4"/>
<line x1="17.1" y1="385.47" x2="20.8" y2="385.47" stroke="#111" stroke-width="1.4"/>
<line x1="392.3" y1="385.47" x2="395.8" y2="385.47" stroke="#111" stroke-width="1.4"/>
<line x1="17.1" y1="365.78" x2="20.8" y2="365.78" stroke="#111" stroke-width="1.4"/>
<line x1="392.3" y1="365.78" x2="395.8" y2="365.78" stroke="#111" stroke-width="1.4"/>
<line x1="17.1" y1="346.1" x2="20.8" y2="346.1" stroke="#111" stroke-width="1.4"/>
<line x1="392.3" y1="346.1" x2="395.8" y2="346.1" stroke="#111" stroke-width="1.4"/>
<line x1="18.3" y1="454.36" x2="20.8" y2="454.36" stroke="#111" stroke-width="1.4"/>
<line x1="393.3" y1="454.36" x2="395.8" y2="454.36" stroke="#111" stroke-width="1.4"/>
<line x1="18.3" y1="434.68" x2="20.8" y2="434.68" stroke="#111" stroke-width="1.4"/>
<line x1="393.3" y1="434.68" x2="395.8" y2="434.68" stroke="#111" stroke-width="1.4"/>
<line x1="18.3" y1="414.99" x2="20.8" y2="414.99" stroke="#111" stroke-width="1.4"/>
<line x1="393.3" y1="414.99" x2="395.8" y2="414.99" stroke="#111" stroke-width="1.4"/>
<line x1="18.3" y1="395.31" x2="20.8" y2="395.31" stroke="#111" stroke-width="1.4"/>
<line x1="393.3" y1="395.31" x2="395.8" y2="395.31" stroke="#111" stroke-width="1.4"/>
<line x1="18.3" y1="375.62" x2="20.8" y2="375.62" stroke="#111" stroke-width="1.4"/>
<line x1="393.3" y1="375.62" x2="395.8" y2="375.62" stroke="#111" stroke-width="1.4"/>
<line x1="18.3" y1="355.94" x2="20.8" y2="355.94" stroke="#111" stroke-width="1.4"/>
<line x1="393.3" y1="355.94" x2="395.8" y2="355.94" stroke="#111" stroke-width="1.4"/>
<line x1="44" y1="467.2" x2="44" y2="470" stroke="#111" stroke-width="1.4"/>
<line x1="44" y1="346.1" x2="44" y2="348.9" stroke="#111" stroke-width="1.4"/>
<line x1="90.86" y1="467.2" x2="90.86" y2="470" stroke="#111" stroke-width="1.4"/>
<line x1="90.86" y1="346.1" x2="90.86" y2="348.9" stroke="#111" stroke-width="1.4"/>
<line x1="137.71" y1="467.2" x2="137.71" y2="470" stroke="#111" stroke-width="1.4"/>
<line x1="137.71" y1="346.1" x2="137.71" y2="348.9" stroke="#111" stroke-width="1.4"/>
<line x1="184.57" y1="467.2" x2="184.57" y2="470" stroke="#111" stroke-width="1.4"/>
<line x1="184.57" y1="346.1" x2="184.57" y2="348.9" stroke="#111" stroke-width="1.4"/>
<line x1="231.43" y1="467.2" x2="231.43" y2="470" stroke="#111" stroke-width="1.4"/>
<line x1="231.43" y1="346.1" x2="231.43" y2="348.9" stroke="#111" stroke-width="1.4"/>
<line x1="278.29" y1="467.2" x2="278.29" y2="470" stroke="#111" stroke-width="1.4"/>
<line x1="278.29" y1="346.1" x2="278.29" y2="348.9" stroke="#111" stroke-width="1.4"/>
<line x1="325.14" y1="467.2" x2="325.14" y2="470" stroke="#111" stroke-width="1.4"/>
<line x1="325.14" y1="346.1" x2="325.14" y2="348.9" stroke="#111" stroke-width="1.4"/>
<line x1="372" y1="467.2" x2="372" y2="470" stroke="#111" stroke-width="1.4"/>
<line x1="372" y1="346.1" x2="372" y2="348.9" stroke="#111" stroke-width="1.4"/>
<line x1="20.57" y1="467.2" x2="20.57" y2="470" stroke="#111" stroke-width="1.4"/>
<line x1="20.57" y1="346.1" x2="20.57" y2="348.9" stroke="#111" stroke-width="1.4"/>
<line x1="67.43" y1="467.2" x2="67.43" y2="470" stroke="#111" stroke-width="1.4"/>
<line x1="67.43" y1="346.1" x2="67.43" y2="348.9" stroke="#111" stroke-width="1.4"/>
<line x1="114.29" y1="467.2" x2="114.29" y2="470" stroke="#111" stroke-width="1.4"/>
<line x1="114.29" y1="346.1" x2="114.29" y2="348.9" stroke="#111" stroke-width="1.4"/>
<line x1="161.14" y1="467.2" x2="161.14" y2="470" stroke="#111" stroke-width="1.4"/>
<line x1="161.14" y1="346.1" x2="161.14" y2="348.9" stroke="#111" stroke-width="1.4"/>
<line x1="208" y1="467.2" x2="208" y2="470" stroke="#111" stroke-width="1.4"/>
<line x1="208" y1="346.1" x2="208" y2="348.9" stroke="#111" stroke-width="1.4"/>
<line x1="254.86" y1="467.2" x2="254.86" y2="470" stroke="#111" stroke-width="1.4"/>
<line x1="254.86" y1="346.1" x2="254.86" y2="348.9" stroke="#111" stroke-width="1.4"/>
<line x1="301.71" y1="467.2" x2="301.71" y2="470" stroke="#111" stroke-width="1.4"/>
<line x1="301.71" y1="346.1" x2="301.71" y2="348.9" stroke="#111" stroke-width="1.4"/>
<line x1="348.57" y1="467.2" x2="348.57" y2="470" stroke="#111" stroke-width="1.4"/>
<line x1="348.57" y1="346.1" x2="348.57" y2="348.9" stroke="#111" stroke-width="1.4"/>
<line x1="395.43" y1="467.2" x2="395.43" y2="470" stroke="#111" stroke-width="1.4"/>
<line x1="395.43" y1="346.1" x2="395.43" y2="348.9" stroke="#111" stroke-width="1.4"/>
<rect x="20.8" y="346.1" width="375" height="121.1" fill="none" stroke="#111" stroke-width="1.4"/>
<text x="44" y="477.8" font-size="6.6" text-anchor="middle" font-weight="normal" fill="#111" textLength="10.2" lengthAdjust="spacing" stroke="#111" stroke-width="0.45">894</text>
<text x="90.86" y="477.8" font-size="6.6" text-anchor="middle" font-weight="normal" fill="#111" textLength="10.2" lengthAdjust="spacing" stroke="#111" stroke-width="0.45">896</text>
<text x="137.71" y="477.8" font-size="6.6" text-anchor="middle" font-weight="normal" fill="#111" textLength="10.2" lengthAdjust="spacing" stroke="#111" stroke-width="0.45">898</text>
<text x="184.57" y="477.8" font-size="6.6" text-anchor="middle" font-weight="normal" fill="#111" textLength="10.2" lengthAdjust="spacing" stroke="#111" stroke-width="0.45">900</text>
<text x="231.43" y="477.8" font-size="6.6" text-anchor="middle" font-weight="normal" fill="#111" textLength="10.2" lengthAdjust="spacing" stroke="#111" stroke-width="0.45">902</text>
<text x="278.29" y="477.8" font-size="6.6" text-anchor="middle" font-weight="normal" fill="#111" textLength="10.2" lengthAdjust="spacing" stroke="#111" stroke-width="0.45">904</text>
<text x="325.14" y="477.8" font-size="6.6" text-anchor="middle" font-weight="normal" fill="#111" textLength="10.2" lengthAdjust="spacing" stroke="#111" stroke-width="0.45">906</text>
<text x="372" y="477.8" font-size="6.6" text-anchor="middle" font-weight="normal" fill="#111" textLength="10.2" lengthAdjust="spacing" stroke="#111" stroke-width="0.45">908</text>
<text x="206.85" y="488" font-size="10.6" text-anchor="middle" font-weight="normal" fill="#111" textLength="60.1" lengthAdjust="spacing" stroke="#111" stroke-width="0.45">Energy (eV)</text>
<text x="6.8" y="399.4" font-size="9.5" text-anchor="middle" font-weight="normal" fill="#111" textLength="63.5" lengthAdjust="spacing" transform="rotate(-90 6.8 399.4)" stroke="#111" stroke-width="0.5">Intensity (a. u.)</text>
<line x1="20.8" y1="356.3" x2="50.1" y2="356.3" stroke="#000" stroke-width="1.5"/>
<line x1="20.8" y1="367.7" x2="50.1" y2="367.7" stroke="#ff0000" stroke-width="1.8"/>
<text x="53" y="359.9" font-size="9.2" text-anchor="start" font-weight="normal" fill="#111" textLength="69.9" lengthAdjust="spacing" stroke="#111" stroke-width="0.45">Data Ce 3d 3/2</text>
<text x="53" y="371.3" font-size="9.2" text-anchor="start" font-weight="normal" fill="#111" textLength="59.2" lengthAdjust="spacing" stroke="#111" stroke-width="0.45">Fit Ce 3d 3/2</text>
<polyline points="429.5,448.18 430,448.36 430.5,448.4 431,448.48 431.5,448.53 432,448.86 432.5,448.92 433,448.31 433.5,447.76 434,448.23 434.5,448.9 435,449.49 435.5,449.34 436,449.45 436.5,450.29 437,450.07 437.5,450.08 438,450.29 438.5,450.35 439,450.02 439.5,450.11 440,450.63 440.5,450.87 441,451.6 441.5,451.6 442,451.11 442.5,451.06 443,451.32 443.5,451.41 444,450.54 444.5,450.75 445,450.81 445.5,450.44 446,449.42 446.5,449.75 447,449.53 447.5,449.39 448,449.43 448.5,449.26 449,448.79 449.5,448.68 450,448.84 450.5,448.15 451,447.62 451.5,446.99 452,446.21 452.5,445.32 453,445.01 453.5,445.22 454,445.02 454.5,444.38 455,444.02 455.5,443.66 456,443.06 456.5,442.81 457,442.5 457.5,441.74 458,441.66 458.5,441.48 459,442.22 459.5,441.9 460,442.07 460.5,441.53 461,441.37 461.5,441.17 462,441.3 462.5,440.6 463,440.01 463.5,439.59 464,439.4 464.5,438.94 465,439.03 465.5,439.5 466,438.93 466.5,437.96 467,437.77 467.5,437.22 468,437.79 468.5,437.44 469,437.17 469.5,437.08 470,437.73 470.5,437.58 471,437.45 471.5,436.68 472,436.26 472.5,436.6 473,435.56 473.5,435.31 474,435.32 474.5,435.62 475,435.49 475.5,434.82 476,434.14 476.5,433.03 477,432.46 477.5,431.27 478,430.77 478.5,430.66 479,430.88 479.5,430.89 480,430.38 480.5,429.98 481,430.1 481.5,429.82 482,429.64 482.5,430.29 483,430.27 483.5,430.42 484,430.28 484.5,430.48 485,430.48 485.5,431.29 486,430.94 486.5,429.79 487,429.86 487.5,429.12 488,428.77 488.5,428.56 489,427.89 489.5,426.86 490,425.2 490.5,424.5 491,424.21 491.5,423.85 492,423.4 492.5,422.98 493,421.11 493.5,421.23 494,421.35 494.5,420.59 495,420.06 495.5,420.49 496,420.04 496.5,419.39 497,418.66 497.5,419.04 498,418.82 498.5,418.03 499,418.34 499.5,417.26 500,416.95 500.5,417.39 501,416.53 501.5,416.32 502,415.98 502.5,415.45 503,414.44 503.5,414.11 504,413.5 504.5,412.81 505,412.29 505.5,411.64 506,411.49 506.5,410.99 507,410.92 507.5,410.25 508,409.81 508.5,409.04 509,409.1 509.5,408.91 510,408.65 510.5,407.92 511,407.54 511.5,407.47 512,407.26 512.5,406.9 513,406.51 513.5,406.31 514,405.56 514.5,405.65 515,405.98 515.5,404.84 516,403.96 516.5,402.64 517,402.38 517.5,402.17 518,402.01 518.5,401.51 519,400.74 519.5,400.63 520,399.7 520.5,399.33 521,398.51 521.5,397.98 522,396.75 522.5,395.96 523,396.72 523.5,396.42 524,396.58 524.5,395.52 525,395.42 525.5,395.35 526,394.58 526.5,394.62 527,394.64 527.5,395.15 528,394.48 528.5,393.88 529,393.77 529.5,394.01 530,393.75 530.5,392.84 531,393.23 531.5,392.8 532,392.59 532.5,391.41 533,390.92 533.5,390.98 534,390.9 534.5,390.06 535,389 535.5,389.11 536,389.4 536.5,389.57 537,388.35 537.5,387.55 538,387.04 538.5,387.27 539,386.01 539.5,385.99 540,385.73 540.5,384.84 541,384.69 541.5,384.35 542,383.01 542.5,382.48 543,381.95 543.5,381.21 544,380.71 544.5,380.6 545,380.4 545.5,379.49 546,378.69 546.5,379.21 547,378.89 547.5,378.67 548,379.39 548.5,378.65 549,378.75 549.5,380.19 550,380.08 550.5,379.92 551,379.66 551.5,378.47 552,378.73 552.5,378.62 553,379.61 553.5,379.77 554,379 554.5,378.47 555,378.65 555.5,378.15 556,378.25 556.5,377.24 557,376.39 557.5,376.75 558,376.1 558.5,375.71 559,375.74 559.5,375.18 560,375.47 560.5,374.73 561,374.3 561.5,375.19 562,375.57 562.5,375.4 563,374.96 563.5,374.78 564,374.83 564.5,374.57 565,374.41 565.5,375.06 566,375.23 566.5,375.27 567,375.41 567.5,374.91 568,375.26 568.5,375.03 569,374.55 569.5,373.59 570,373.3 570.5,373.18 571,372.93 571.5,373.15 572,373.35 572.5,372.9 573,372.7 573.5,373.25 574,374.31 574.5,374.27 575,374.09 575.5,374.09 576,374.57 576.5,374.34 577,375.06 577.5,375.14 578,375.54 578.5,375.52 579,375.23 579.5,375.14 580,375.35 580.5,374.8 581,374.34 581.5,373.29 582,373.95 582.5,374.58 583,374.11 583.5,373.4 584,373.72 584.5,373.34 585,373.24 585.5,373.19 586,373.81 586.5,374.13 587,374.71 587.5,374.8 588,375.2 588.5,375.17 589,375.32 589.5,374.45 590,374.49 590.5,375.01 591,375.14 591.5,375.06 592,374.97 592.5,375.38 593,375.12 593.5,374.71 594,374.46 594.5,373.51 595,373.32 595.5,373.88 596,373.75 596.5,373.6 597,373.79 597.5,373.01 598,372.39 598.5,372.06 599,371.71 599.5,372.01 600,371.03 600.5,370.62 601,370.22 601.5,370.32 602,370.51 602.5,370.81 603,370.02 603.5,370.63 604,370.34 604.5,371.02 605,370.9 605.5,371.1 606,371.12 606.5,371.33 607,371.8 607.5,372.81 608,373.08 608.5,373.67 609,374.2 609.5,374.69 610,374.43 610.5,374.8 611,374.55 611.5,374.52 612,373.68 612.5,374.09 613,374.77 613.5,375.3 614,375.43 614.5,374.36 615,373.89 615.5,373.51 616,373.32 616.5,372.49 617,372.48 617.5,372.51 618,372.32 618.5,372.21 619,373.02 619.5,373.01 620,372.73 620.5,372.08 621,372.79 621.5,372.42 622,372.58 622.5,372.75 623,372.64 623.5,372.69 624,372.39 624.5,371.91 625,371.71 625.5,371.3 626,371.22 626.5,370.79 627,371.11 627.5,371.35 628,371.02 628.5,370.09 629,370.35 629.5,370.53 630,370.35 630.5,371.09 631,370.55 631.5,371.21 632,371.24 632.5,371.37 633,371.87 633.5,372.45 634,371.99 634.5,371.05 635,371.07 635.5,370.93 636,370.55 636.5,369.7 637,369.86 637.5,369.73 638,368.68 638.5,369.07 639,368.47 639.5,368.06 640,367.13 640.5,367.22 641,365.88 641.5,366.24 642,366.33 642.5,365.48 643,365.77 643.5,365.82 644,366.35 644.5,365.67 645,365.58 645.5,366.14 646,366.1 646.5,365.93 647,366.06 647.5,366.73 648,365.2 648.5,365.44 649,365.58 649.5,365.85 650,366.16 650.5,365.93 651,365.99 651.5,365.07 652,364.86 652.5,364.25 653,363.44 653.5,363.17 654,362.77 654.5,362.56 655,362.39 655.5,363.43 656,362.74 656.5,361.61 657,360.64 657.5,360.53 658,359.86 658.5,359.48 659,360.29 659.5,361.03 660,360.89 660.5,361.31 661,360.91 661.5,360.45 662,360.59 662.5,360.78 663,359.88 663.5,360.51 664,361.05 664.5,361.71 665,361.18 665.5,361.09 666,361.68 666.5,361.71 667,361.11 667.5,361.82 668,361.41 668.5,361.59 669,362.11 669.5,361 670,360.19 670.5,360.87 671,360.94 671.5,361.06 672,361.02 672.5,361.49 673,361.33 673.5,360.55 674,361.23 674.5,361.27 675,360.77 675.5,361.88 676,361.7 676.5,361.87 677,362.82 677.5,363.35 678,362.77 678.5,362.61 679,362.38 679.5,361.9 680,362.01 680.5,362.66 681,362.63 681.5,361.58 682,362.01 682.5,361.36 683,361.07 683.5,361.3 684,361.54 684.5,361.57 685,361.53 685.5,362.42 686,362.31 686.5,363.23 687,363.6 687.5,363.92 688,364.09 688.5,365.04 689,365.68 689.5,365.02 690,366.37 690.5,366.03 691,366.39 691.5,366.62 692,366.7 692.5,366.76 693,366.77 693.5,367.3 694,366.88 694.5,367.19 695,367.4 695.5,367.5 696,366.61 696.5,366.11 697,367.62 697.5,367.72 698,368.06 698.5,367.98 699,368.24 699.5,368.86 700,369.49 700.5,370.1 701,370.33 701.5,370.96 702,371.77 702.5,371.91 703,372.8 703.5,374.03 704,374.74 704.5,374.75 705,375.12 705.5,375.38 706,376.78 706.5,377.82 707,377.67 707.5,378.26 708,378.53 708.5,379.06 709,379.07 709.5,379.63 710,380.32 710.5,380.43 711,380.98 711.5,381.21 712,380.58 712.5,381.48 713,382.95 713.5,382.19 714,381.81 714.5,383.66 715,384.03 715.5,384.82 716,385.83 716.5,386.68 717,386.75 717.5,387.73 718,388.49 718.5,388.36 719,389 719.5,390.41 720,390.1 720.5,390.89 721,392.2 721.5,393.41 722,393.12 722.5,393.88 723,393.28 723.5,393.14 724,393.77 724.5,394.17 725,393.82 725.5,393.81 726,395.03 726.5,396.3 727,396.75 727.5,398 728,397.69 728.5,397.5 729,397.4 729.5,397.82 730,398.35 730.5,399.62 731,400.77 731.5,400.92 732,402.17 732.5,403.08 733,404.53 733.5,404.85 734,405.35 734.5,405.27 735,405.82 735.5,406.43 736,407.71 736.5,408.67 737,408.99 737.5,410.03 738,411.24 738.5,411.6 739,412.85 739.5,413.2 740,414.34 740.5,414.09 741,414.91 741.5,415.31 742,416.05 742.5,416.29 743,417.1 743.5,417.04 744,417.27 744.5,418.18 745,417.9 745.5,417.8 746,418.15 746.5,418.26 747,418.5 747.5,418.36 748,418.79 748.5,419.38 749,419.57 749.5,420.62 750,421.06 750.5,421.52 751,422.13 751.5,423.42 752,424.08 752.5,424.7 753,425.6 753.5,426.39 754,426.79 754.5,427.06 755,427.56 755.5,428.48 756,428.2 756.5,428.92 757,429.14 757.5,429.95 758,430.04 758.5,430.3 759,429.36 759.5,429.3 760,429.05 760.5,429.7 761,430.18 761.5,431 762,431.86 762.5,432.41 763,432.14 763.5,432.68 764,432.42 764.5,433.12 765,433.18 765.5,434.09 766,434.45 766.5,435.62 767,436.58 767.5,437.34 768,436.99 768.5,437.25 769,436.56 769.5,436.75 770,436.71 770.5,437.44 771,437.04 771.5,437.64 772,436.94 772.5,437.76 773,437.4 773.5,438 774,437.86 774.5,437.83 775,437.99 775.5,438.16 776,438.33 776.5,439.08 777,439.43 777.5,439.93 778,440.5 778.5,441.53 779,442 779.5,442.94 780,442.05 780.5,442.15 781,442.86 781.5,443.43 782,443.55 782.5,443.66 783,443.71 783.5,443.96 784,444.84 784.5,445.1 785,444.76 785.5,444.12 786,444.16 786.5,444.93 787,445.42 787.5,445.95 788,446.36 788.5,446.05 789,446.59 789.5,447.34 790,448.28 790.5,448.05 791,448.27 791.5,448.36 792,448.21 792.5,448.96 793,449.89 793.5,449.64 794,448.56 794.5,448.25 795,448.45 795.5,448.77 796,448.59 796.5,447.99 797,447.42 797.5,447.62 798,448.21 798.5,448.33 799,448.18 799.5,448.31 800,448.35 800.5,448.05 801,448.72 801.5,449.64 802,449.9 802.5,450.2 803,450.17 803.5,450.46 804,451.33 804.5,451.14 805,450.79 805.5,450.62 806,450.13 806.5,449.89 807,450.9 807.5,450.83 808,451.12 808.5,451.3 809,450.98 809.5,450.72 810,451.07 810.5,451.32 811,451.44 811.5,450.94 812,451.89 812.5,451.81 813,451.95 813.5,451.95 814,451.06 814.5,450.68 815,450.93 815.5,451.22" fill="none" stroke="#000" stroke-width="1.4" stroke-linejoin="round" stroke-linecap="round"/>
<polyline points="429.5,451.38 430,451.31 430.5,451.23 431,451.15 431.5,451.06 432,450.98 432.5,450.89 433,450.8 433.5,450.72 434,450.62 434.5,450.53 435,450.44 435.5,450.34 436,450.24 436.5,450.14 437,450.04 437.5,449.93 438,449.83 438.5,449.72 439,449.61 439.5,449.5 440,449.38 440.5,449.27 441,449.15 441.5,449.03 442,448.91 442.5,448.78 443,448.66 443.5,448.53 444,448.4 444.5,448.26 445,448.13 445.5,447.99 446,447.85 446.5,447.7 447,447.56 447.5,447.41 448,447.26 448.5,447.11 449,446.96 449.5,446.8 450,446.64 450.5,446.48 451,446.31 451.5,446.14 452,445.97 452.5,445.8 453,445.63 453.5,445.45 454,445.27 454.5,445.08 455,444.9 455.5,444.71 456,444.52 456.5,444.32 457,444.13 457.5,443.93 458,443.72 458.5,443.52 459,443.31 459.5,443.1 460,442.89 460.5,442.67 461,442.45 461.5,442.23 462,442 462.5,441.77 463,441.54 463.5,441.31 464,441.07 464.5,440.83 465,440.58 465.5,440.34 466,440.09 466.5,439.84 467,439.58 467.5,439.32 468,439.06 468.5,438.8 469,438.53 469.5,438.26 470,437.99 470.5,437.71 471,437.43 471.5,437.15 472,436.86 472.5,436.57 473,436.28 473.5,435.99 474,435.69 474.5,435.39 475,435.08 475.5,434.78 476,434.47 476.5,434.15 477,433.84 477.5,433.52 478,433.2 478.5,432.87 479,432.55 479.5,432.22 480,431.88 480.5,431.55 481,431.21 481.5,430.87 482,430.52 482.5,430.18 483,429.83 483.5,429.47 484,429.12 484.5,428.76 485,428.4 485.5,428.04 486,427.67 486.5,427.3 487,426.93 487.5,426.56 488,426.18 488.5,425.8 489,425.42 489.5,425.04 490,424.65 490.5,424.27 491,423.88 491.5,423.48 492,423.09 492.5,422.69 493,422.29 493.5,421.89 494,421.49 494.5,421.09 495,420.68 495.5,420.27 496,419.86 496.5,419.45 497,419.04 497.5,418.62 498,418.2 498.5,417.79 499,417.37 499.5,416.95 500,416.52 500.5,416.1 501,415.68 501.5,415.25 502,414.82 502.5,414.39 503,413.97 503.5,413.54 504,413.1 504.5,412.67 505,412.24 505.5,411.81 506,411.37 506.5,410.94 507,410.5 507.5,410.07 508,409.63 508.5,409.2 509,408.76 509.5,408.33 510,407.89 510.5,407.46 511,407.02 511.5,406.58 512,406.15 512.5,405.71 513,405.28 513.5,404.85 514,404.41 514.5,403.98 515,403.55 515.5,403.12 516,402.69 516.5,402.26 517,401.83 517.5,401.4 518,400.97 518.5,400.55 519,400.13 519.5,399.7 520,399.28 520.5,398.86 521,398.45 521.5,398.03 522,397.62 522.5,397.2 523,396.79 523.5,396.39 524,395.98 524.5,395.58 525,395.17 525.5,394.77 526,394.38 526.5,393.98 527,393.59 527.5,393.2 528,392.81 528.5,392.43 529,392.05 529.5,391.67 530,391.3 530.5,390.92 531,390.55 531.5,390.19 532,389.82 532.5,389.46 533,389.11 533.5,388.75 534,388.4 534.5,388.06 535,387.71 535.5,387.38 536,387.04 536.5,386.71 537,386.38 537.5,386.06 538,385.73 538.5,385.42 539,385.11 539.5,384.8 540,384.49 540.5,384.19 541,383.9 541.5,383.6 542,383.32 542.5,383.03 543,382.75 543.5,382.48 544,382.21 544.5,381.94 545,381.68 545.5,381.42 546,381.17 546.5,380.92 547,380.67 547.5,380.43 548,380.2 548.5,379.97 549,379.74 549.5,379.52 550,379.3 550.5,379.09 551,378.88 551.5,378.68 552,378.48 552.5,378.28 553,378.09 553.5,377.91 554,377.73 554.5,377.55 555,377.38 555.5,377.21 556,377.05 556.5,376.89 557,376.74 557.5,376.59 558,376.45 558.5,376.31 559,376.17 559.5,376.04 560,375.91 560.5,375.79 561,375.67 561.5,375.56 562,375.45 562.5,375.34 563,375.24 563.5,375.14 564,375.05 564.5,374.96 565,374.87 565.5,374.79 566,374.71 566.5,374.64 567,374.57 567.5,374.5 568,374.44 568.5,374.38 569,374.32 569.5,374.27 570,374.22 570.5,374.18 571,374.13 571.5,374.1 572,374.06 572.5,374.03 573,374 573.5,373.97 574,373.94 574.5,373.92 575,373.9 575.5,373.89 576,373.87 576.5,373.86 577,373.85 577.5,373.85 578,373.84 578.5,373.84 579,373.84 579.5,373.84 580,373.84 580.5,373.85 581,373.86 581.5,373.86 582,373.87 582.5,373.89 583,373.9 583.5,373.91 584,373.93 584.5,373.94 585,373.96 585.5,373.98 586,374 586.5,374.02 587,374.04 587.5,374.06 588,374.08 588.5,374.1 589,374.12 589.5,374.14 590,374.17 590.5,374.19 591,374.21 591.5,374.23 592,374.25 592.5,374.28 593,374.3 593.5,374.32 594,374.34 594.5,374.36 595,374.37 595.5,374.39 596,374.41 596.5,374.42 597,374.44 597.5,374.45 598,374.46 598.5,374.48 599,374.48 599.5,374.49 600,374.5 600.5,374.5 601,374.51 601.5,374.51 602,374.51 602.5,374.51 603,374.5 603.5,374.5 604,374.49 604.5,374.48 605,374.47 605.5,374.45 606,374.44 606.5,374.42 607,374.4 607.5,374.37 608,374.35 608.5,374.32 609,374.29 609.5,374.26 610,374.22 610.5,374.18 611,374.14 611.5,374.1 612,374.05 612.5,374 613,373.95 613.5,373.9 614,373.84 614.5,373.78 615,373.72 615.5,373.65 616,373.58 616.5,373.51 617,373.44 617.5,373.36 618,373.28 618.5,373.2 619,373.12 619.5,373.03 620,372.94 620.5,372.85 621,372.75 621.5,372.65 622,372.55 622.5,372.45 623,372.34 623.5,372.23 624,372.12 624.5,372.01 625,371.89 625.5,371.77 626,371.65 626.5,371.53 627,371.4 627.5,371.27 628,371.14 628.5,371.01 629,370.87 629.5,370.74 630,370.6 630.5,370.46 631,370.32 631.5,370.17 632,370.03 632.5,369.88 633,369.73 633.5,369.58 634,369.43 634.5,369.27 635,369.12 635.5,368.96 636,368.81 636.5,368.65 637,368.49 637.5,368.33 638,368.17 638.5,368.01 639,367.84 639.5,367.68 640,367.52 640.5,367.36 641,367.19 641.5,367.03 642,366.87 642.5,366.7 643,366.54 643.5,366.38 644,366.21 644.5,366.05 645,365.89 645.5,365.73 646,365.57 646.5,365.41 647,365.25 647.5,365.1 648,364.94 648.5,364.79 649,364.63 649.5,364.48 650,364.33 650.5,364.19 651,364.04 651.5,363.9 652,363.75 652.5,363.61 653,363.48 653.5,363.34 654,363.21 654.5,363.08 655,362.95 655.5,362.83 656,362.71 656.5,362.59 657,362.48 657.5,362.37 658,362.26 658.5,362.15 659,362.05 659.5,361.96 660,361.86 660.5,361.77 661,361.69 661.5,361.61 662,361.53 662.5,361.46 663,361.39 663.5,361.32 664,361.26 664.5,361.21 665,361.16 665.5,361.11 666,361.07 666.5,361.04 667,361.01 667.5,360.98 668,360.96 668.5,360.95 669,360.94 669.5,360.93 670,360.93 670.5,360.94 671,360.95 671.5,360.97 672,360.99 672.5,361.02 673,361.06 673.5,361.1 674,361.14 674.5,361.19 675,361.25 675.5,361.32 676,361.39 676.5,361.46 677,361.54 677.5,361.63 678,361.73 678.5,361.83 679,361.93 679.5,362.05 680,362.17 680.5,362.29 681,362.42 681.5,362.56 682,362.7 682.5,362.85 683,363.01 683.5,363.17 684,363.34 684.5,363.51 685,363.69 685.5,363.88 686,364.07 686.5,364.27 687,364.47 687.5,364.68 688,364.9 688.5,365.12 689,365.35 689.5,365.59 690,365.83 690.5,366.07 691,366.33 691.5,366.58 692,366.85 692.5,367.12 693,367.39 693.5,367.67 694,367.96 694.5,368.25 695,368.55 695.5,368.86 696,369.16 696.5,369.48 697,369.8 697.5,370.13 698,370.46 698.5,370.8 699,371.14 699.5,371.49 700,371.84 700.5,372.2 701,372.56 701.5,372.93 702,373.31 702.5,373.69 703,374.07 703.5,374.46 704,374.86 704.5,375.26 705,375.67 705.5,376.08 706,376.49 706.5,376.92 707,377.34 707.5,377.77 708,378.21 708.5,378.65 709,379.1 709.5,379.55 710,380 710.5,380.46 711,380.93 711.5,381.4 712,381.87 712.5,382.35 713,382.83 713.5,383.31 714,383.8 714.5,384.3 715,384.8 715.5,385.3 716,385.8 716.5,386.31 717,386.83 717.5,387.34 718,387.86 718.5,388.38 719,388.91 719.5,389.44 720,389.97 720.5,390.5 721,391.04 721.5,391.58 722,392.12 722.5,392.66 723,393.2 723.5,393.75 724,394.3 724.5,394.85 725,395.4 725.5,395.95 726,396.5 726.5,397.05 727,397.61 727.5,398.16 728,398.72 728.5,399.27 729,399.83 729.5,400.38 730,400.94 730.5,401.49 731,402.05 731.5,402.6 732,403.15 732.5,403.7 733,404.25 733.5,404.8 734,405.35 734.5,405.9 735,406.45 735.5,406.99 736,407.53 736.5,408.07 737,408.61 737.5,409.15 738,409.68 738.5,410.21 739,410.74 739.5,411.27 740,411.79 740.5,412.32 741,412.84 741.5,413.35 742,413.87 742.5,414.38 743,414.89 743.5,415.4 744,415.9 744.5,416.4 745,416.9 745.5,417.39 746,417.88 746.5,418.37 747,418.85 747.5,419.33 748,419.81 748.5,420.28 749,420.75 749.5,421.22 750,421.68 750.5,422.14 751,422.6 751.5,423.05 752,423.5 752.5,423.95 753,424.39 753.5,424.83 754,425.27 754.5,425.7 755,426.13 755.5,426.55 756,426.97 756.5,427.39 757,427.8 757.5,428.21 758,428.61 758.5,429.01 759,429.41 759.5,429.8 760,430.19 760.5,430.58 761,430.96 761.5,431.34 762,431.71 762.5,432.08 763,432.45 763.5,432.81 764,433.17 764.5,433.53 765,433.88 765.5,434.22 766,434.57 766.5,434.91 767,435.24 767.5,435.57 768,435.9 768.5,436.22 769,436.54 769.5,436.86 770,437.17 770.5,437.48 771,437.78 771.5,438.08 772,438.38 772.5,438.67 773,438.96 773.5,439.25 774,439.53 774.5,439.81 775,440.08 775.5,440.35 776,440.62 776.5,440.88 777,441.14 777.5,441.4 778,441.65 778.5,441.9 779,442.15 779.5,442.39 780,442.63 780.5,442.86 781,443.09 781.5,443.32 782,443.54 782.5,443.77 783,443.98 783.5,444.2 784,444.41 784.5,444.62 785,444.82 785.5,445.02 786,445.22 786.5,445.41 787,445.6 787.5,445.79 788,445.98 788.5,446.16 789,446.34 789.5,446.52 790,446.69 790.5,446.86 791,447.03 791.5,447.19 792,447.35 792.5,447.51 793,447.67 793.5,447.82 794,447.97 794.5,448.12 795,448.26 795.5,448.41 796,448.54 796.5,448.68 797,448.82 797.5,448.95 798,449.08 798.5,449.21 799,449.33 799.5,449.45 800,449.57 800.5,449.69 801,449.81 801.5,449.92 802,450.03 802.5,450.14 803,450.25 803.5,450.35 804,450.45 804.5,450.55 805,450.65 805.5,450.75 806,450.84 806.5,450.93 807,451.02 807.5,451.11 808,451.2 808.5,451.28 809,451.37 809.5,451.45 810,451.53 810.5,451.61 811,451.68 811.5,451.76 812,451.83 812.5,451.9 813,451.97 813.5,452.04 814,452.11 814.5,452.17 815,452.23 815.5,452.3" fill="none" stroke="#ff0000" stroke-width="1.6" stroke-linejoin="round" stroke-linecap="round"/>
<polyline points="429.5,451.39 430,451.31 430.5,451.23 431,451.15 431.5,451.07 432,450.99 432.5,450.9 433,450.81 433.5,450.72 434,450.63 434.5,450.54 435,450.45 435.5,450.35 436,450.25 436.5,450.15 437,450.05 437.5,449.94 438,449.84 438.5,449.73 439,449.62 439.5,449.51 440,449.4 440.5,449.28 441,449.16 441.5,449.04 442,448.92 442.5,448.8 443,448.67 443.5,448.54 444,448.41 444.5,448.28 445,448.14 445.5,448.01 446,447.87 446.5,447.72 447,447.58 447.5,447.43 448,447.28 448.5,447.13 449,446.98 449.5,446.82 450,446.66 450.5,446.5 451,446.34 451.5,446.17 452,446 452.5,445.83 453,445.65 453.5,445.48 454,445.3 454.5,445.12 455,444.93 455.5,444.74 456,444.55 456.5,444.36 457,444.16 457.5,443.97 458,443.76 458.5,443.56 459,443.35 459.5,443.14 460,442.93 460.5,442.71 461,442.5 461.5,442.27 462,442.05 462.5,441.82 463,441.59 463.5,441.36 464,441.13 464.5,440.89 465,440.65 465.5,440.4 466,440.15 466.5,439.9 467,439.65 467.5,439.39 468,439.13 468.5,438.87 469,438.61 469.5,438.34 470,438.07 470.5,437.79 471,437.52 471.5,437.23 472,436.95 472.5,436.67 473,436.38 473.5,436.08 474,435.79 474.5,435.49 475,435.19 475.5,434.89 476,434.58 476.5,434.27 477,433.96 477.5,433.64 478,433.33 478.5,433.01 479,432.68 479.5,432.36 480,432.03 480.5,431.69 481,431.36 481.5,431.02 482,430.68 482.5,430.34 483,429.99 483.5,429.65 484,429.3 484.5,428.94 485,428.59 485.5,428.23 486,427.87 486.5,427.5 487,427.14 487.5,426.77 488,426.4 488.5,426.03 489,425.65 489.5,425.28 490,424.9 490.5,424.52 491,424.13 491.5,423.75 492,423.36 492.5,422.97 493,422.58 493.5,422.19 494,421.79 494.5,421.4 495,421 495.5,420.6 496,420.2 496.5,419.8 497,419.39 497.5,418.99 498,418.58 498.5,418.17 499,417.76 499.5,417.35 500,416.94 500.5,416.53 501,416.11 501.5,415.7 502,415.28 502.5,414.87 503,414.45 503.5,414.03 504,413.61 504.5,413.2 505,412.78 505.5,412.36 506,411.94 506.5,411.52 507,411.1 507.5,410.68 508,410.26 508.5,409.84 509,409.42 509.5,409 510,408.58 510.5,408.16 511,407.74 511.5,407.33 512,406.91 512.5,406.49 513,406.08 513.5,405.67 514,405.25 514.5,404.84 515,404.43 515.5,404.02 516,403.61 516.5,403.21 517,402.8 517.5,402.4 518,402 518.5,401.6 519,401.2 519.5,400.8 520,400.41 520.5,400.02 521,399.63 521.5,399.24 522,398.86 522.5,398.47 523,398.09 523.5,397.72 524,397.34 524.5,396.97 525,396.6 525.5,396.24 526,395.88 526.5,395.52 527,395.16 527.5,394.81 528,394.46 528.5,394.12 529,393.77 529.5,393.44 530,393.1 530.5,392.77 531,392.45 531.5,392.12 532,391.81 532.5,391.49 533,391.18 533.5,390.88 534,390.58 534.5,390.28 535,389.99 535.5,389.7 536,389.42 536.5,389.14 537,388.87 537.5,388.6 538,388.34 538.5,388.08 539,387.83 539.5,387.59 540,387.34 540.5,387.11 541,386.88 541.5,386.65 542,386.43 542.5,386.22 543,386.01 543.5,385.81 544,385.61 544.5,385.42 545,385.24 545.5,385.06 546,384.88 546.5,384.72 547,384.55 547.5,384.4 548,384.25 548.5,384.11 549,383.97 549.5,383.84 550,383.72 550.5,383.6 551,383.49 551.5,383.39 552,383.29 552.5,383.2 553,383.11 553.5,383.03 554,382.96 554.5,382.89 555,382.83 555.5,382.78 556,382.74 556.5,382.7 557,382.66 557.5,382.64 558,382.62 558.5,382.61 559,382.6 559.5,382.6 560,382.61 560.5,382.62 561,382.64 561.5,382.67 562,382.7 562.5,382.74 563,382.79 563.5,382.85 564,382.91 564.5,382.97 565,383.05 565.5,383.13 566,383.21 566.5,383.31 567,383.41 567.5,383.51 568,383.62 568.5,383.74 569,383.87 569.5,384 570,384.14 570.5,384.28 571,384.43 571.5,384.59 572,384.75 572.5,384.92 573,385.09 573.5,385.27 574,385.46 574.5,385.65 575,385.85 575.5,386.05 576,386.26 576.5,386.48 577,386.7 577.5,386.92 578,387.16 578.5,387.39 579,387.63 579.5,387.88 580,388.14 580.5,388.39 581,388.66 581.5,388.93 582,389.2 582.5,389.48 583,389.76 583.5,390.05 584,390.34 584.5,390.64 585,390.94 585.5,391.24 586,391.55 586.5,391.87 587,392.19 587.5,392.51 588,392.84 588.5,393.17 589,393.5 589.5,393.84 590,394.18 590.5,394.53 591,394.88 591.5,395.23 592,395.59 592.5,395.95 593,396.31 593.5,396.68 594,397.05 594.5,397.42 595,397.79 595.5,398.17 596,398.55 596.5,398.93 597,399.32 597.5,399.71 598,400.09 598.5,400.49 599,400.88 599.5,401.28 600,401.68 600.5,402.08 601,402.48 601.5,402.88 602,403.29 602.5,403.69 603,404.1 603.5,404.51 604,404.92 604.5,405.34 605,405.75 605.5,406.16 606,406.58 606.5,406.99 607,407.41 607.5,407.83 608,408.25 608.5,408.66 609,409.08 609.5,409.5 610,409.92 610.5,410.34 611,410.76 611.5,411.18 612,411.6 612.5,412.02 613,412.44 613.5,412.86 614,413.28 614.5,413.7 615,414.12 615.5,414.53 616,414.95 616.5,415.37 617,415.78 617.5,416.2 618,416.61 618.5,417.02 619,417.43 619.5,417.84 620,418.25 620.5,418.66 621,419.07 621.5,419.47 622,419.88 622.5,420.28 623,420.68 623.5,421.08 624,421.48 624.5,421.87 625,422.27 625.5,422.66 626,423.05 626.5,423.44 627,423.83 627.5,424.21 628,424.59 628.5,424.97 629,425.35 629.5,425.73 630,426.1 630.5,426.48 631,426.85 631.5,427.21 632,427.58 632.5,427.94 633,428.3 633.5,428.66 634,429.01 634.5,429.37 635,429.72 635.5,430.06 636,430.41 636.5,430.75 637,431.09 637.5,431.43 638,431.76 638.5,432.09 639,432.42 639.5,432.75 640,433.07 640.5,433.39 641,433.71 641.5,434.02 642,434.33 642.5,434.64 643,434.95 643.5,435.25 644,435.55 644.5,435.85 645,436.14 645.5,436.43 646,436.72 646.5,437.01 647,437.29 647.5,437.57 648,437.85 648.5,438.12 649,438.39 649.5,438.66 650,438.92 650.5,439.19 651,439.44 651.5,439.7 652,439.95 652.5,440.2 653,440.45 653.5,440.69 654,440.93 654.5,441.17 655,441.41 655.5,441.64 656,441.87 656.5,442.1 657,442.32 657.5,442.54 658,442.76 658.5,442.97 659,443.18 659.5,443.39 660,443.6 660.5,443.8 661,444 661.5,444.2 662,444.4 662.5,444.59 663,444.78 663.5,444.97 664,445.15 664.5,445.33 665,445.51 665.5,445.69 666,445.86 666.5,446.03 667,446.2 667.5,446.37 668,446.53 668.5,446.69 669,446.85 669.5,447.01 670,447.16 670.5,447.31 671,447.46 671.5,447.61 672,447.75 672.5,447.89 673,448.03 673.5,448.17 674,448.31 674.5,448.44 675,448.57 675.5,448.7 676,448.82 676.5,448.95 677,449.07 677.5,449.19 678,449.3 678.5,449.42 679,449.53 679.5,449.64 680,449.75 680.5,449.86 681,449.97 681.5,450.07 682,450.17 682.5,450.27 683,450.37 683.5,450.46 684,450.56 684.5,450.65 685,450.74 685.5,450.83 686,450.92 686.5,451 687,451.09 687.5,451.17 688,451.25 688.5,451.33 689,451.41 689.5,451.48 690,451.56 690.5,451.63 691,451.7 691.5,451.77 692,451.84 692.5,451.91 693,451.97 693.5,452.04 694,452.1 694.5,452.16 695,452.22 695.5,452.28 696,452.34 696.5,452.39 697,452.45 697.5,452.5 698,452.56 698.5,452.61 699,452.66 699.5,452.71 700,452.76 700.5,452.81 701,452.85 701.5,452.9 702,452.94 702.5,452.98 703,453.03 703.5,453.07 704,453.11 704.5,453.15 705,453.19 705.5,453.22 706,453.26 706.5,453.3 707,453.33 707.5,453.37 708,453.4 708.5,453.43 709,453.46 709.5,453.5 710,453.53 710.5,453.56 711,453.58 711.5,453.61 712,453.64 712.5,453.67 713,453.69 713.5,453.72 714,453.74 714.5,453.77 715,453.79 715.5,453.81 716,453.84 716.5,453.86 717,453.88 717.5,453.9 718,453.92 718.5,453.94 719,453.96 719.5,453.98 720,454 720.5,454.01 721,454.03 721.5,454.05 722,454.06 722.5,454.08 723,454.1 723.5,454.11 724,454.13 724.5,454.14 725,454.15 725.5,454.17 726,454.18 726.5,454.19 727,454.21 727.5,454.22 728,454.23 728.5,454.24 729,454.25 729.5,454.26 730,454.27 730.5,454.28 731,454.29 731.5,454.3 732,454.31 732.5,454.32 733,454.33 733.5,454.34 734,454.35 734.5,454.35 735,454.36 735.5,454.37 736,454.38 736.5,454.38 737,454.39 737.5,454.4 738,454.41 738.5,454.41 739,454.42 739.5,454.42 740,454.43 740.5,454.43 741,454.44 741.5,454.45 742,454.45 742.5,454.46 743,454.46 743.5,454.47 744,454.47 744.5,454.47 745,454.48 745.5,454.48 746,454.49 746.5,454.49 747,454.49 747.5,454.5 748,454.5 748.5,454.5 749,454.51 749.5,454.51 750,454.51 750.5,454.52 751,454.52 751.5,454.52 752,454.53 752.5,454.53 753,454.53 753.5,454.53 754,454.54 754.5,454.54 755,454.54 755.5,454.54 756,454.54 756.5,454.55 757,454.55 757.5,454.55 758,454.55 758.5,454.55 759,454.56 759.5,454.56 760,454.56 760.5,454.56 761,454.56 761.5,454.56 762,454.56 762.5,454.57 763,454.57 763.5,454.57 764,454.57 764.5,454.57 765,454.57 765.5,454.57 766,454.57 766.5,454.57 767,454.58 767.5,454.58 768,454.58 768.5,454.58 769,454.58 769.5,454.58 770,454.58 770.5,454.58 771,454.58 771.5,454.58 772,454.58 772.5,454.58 773,454.58 773.5,454.59 774,454.59 774.5,454.59 775,454.59 775.5,454.59 776,454.59 776.5,454.59 777,454.59 777.5,454.59 778,454.59 778.5,454.59 779,454.59 779.5,454.59 780,454.59 780.5,454.59 781,454.59 781.5,454.59 782,454.59 782.5,454.59 783,454.59 783.5,454.59 784,454.59 784.5,454.59 785,454.59 785.5,454.59 786,454.59 786.5,454.59 787,454.6 787.5,454.6 788,454.6 788.5,454.6 789,454.6 789.5,454.6 790,454.6 790.5,454.6 791,454.6 791.5,454.6 792,454.6 792.5,454.6 793,454.6 793.5,454.6 794,454.6 794.5,454.6 795,454.6 795.5,454.6 796,454.6 796.5,454.6 797,454.6 797.5,454.6 798,454.6 798.5,454.6 799,454.6 799.5,454.6 800,454.6 800.5,454.6 801,454.6 801.5,454.6 802,454.6 802.5,454.6 803,454.6 803.5,454.6 804,454.6 804.5,454.6 805,454.6 805.5,454.6 806,454.6 806.5,454.6 807,454.6 807.5,454.6 808,454.6 808.5,454.6 809,454.6 809.5,454.6 810,454.6 810.5,454.6 811,454.6 811.5,454.6 812,454.6 812.5,454.6 813,454.6 813.5,454.6 814,454.6 814.5,454.6 815,454.6 815.5,454.6" fill="none" stroke="#00f000" stroke-width="1.6" stroke-linejoin="round" stroke-linecap="round"/>
<polyline points="429.5,454.6 430,454.6 430.5,454.6 431,454.6 431.5,454.6 432,454.6 432.5,454.6 433,454.6 433.5,454.6 434,454.6 434.5,454.6 435,454.6 435.5,454.6 436,454.6 436.5,454.6 437,454.6 437.5,454.6 438,454.6 438.5,454.6 439,454.6 439.5,454.6 440,454.6 440.5,454.6 441,454.6 441.5,454.6 442,454.6 442.5,454.6 443,454.6 443.5,454.6 444,454.6 444.5,454.6 445,454.6 445.5,454.6 446,454.6 446.5,454.6 447,454.6 447.5,454.6 448,454.6 448.5,454.6 449,454.6 449.5,454.6 450,454.6 450.5,454.6 451,454.6 451.5,454.6 452,454.6 452.5,454.6 453,454.6 453.5,454.6 454,454.6 454.5,454.6 455,454.6 455.5,454.6 456,454.6 456.5,454.59 457,454.59 457.5,454.59 458,454.59 458.5,454.59 459,454.59 459.5,454.59 460,454.59 460.5,454.59 461,454.59 461.5,454.59 462,454.59 462.5,454.59 463,454.59 463.5,454.59 464,454.59 464.5,454.59 465,454.59 465.5,454.59 466,454.59 466.5,454.59 467,454.59 467.5,454.59 468,454.59 468.5,454.59 469,454.59 469.5,454.58 470,454.58 470.5,454.58 471,454.58 471.5,454.58 472,454.58 472.5,454.58 473,454.58 473.5,454.58 474,454.58 474.5,454.58 475,454.58 475.5,454.57 476,454.57 476.5,454.57 477,454.57 477.5,454.57 478,454.57 478.5,454.57 479,454.57 479.5,454.57 480,454.56 480.5,454.56 481,454.56 481.5,454.56 482,454.56 482.5,454.56 483,454.55 483.5,454.55 484,454.55 484.5,454.55 485,454.55 485.5,454.55 486,454.54 486.5,454.54 487,454.54 487.5,454.54 488,454.53 488.5,454.53 489,454.53 489.5,454.53 490,454.52 490.5,454.52 491,454.52 491.5,454.51 492,454.51 492.5,454.51 493,454.5 493.5,454.5 494,454.5 494.5,454.49 495,454.49 495.5,454.49 496,454.48 496.5,454.48 497,454.47 497.5,454.47 498,454.46 498.5,454.46 499,454.45 499.5,454.45 500,454.44 500.5,454.44 501,454.43 501.5,454.42 502,454.42 502.5,454.41 503,454.41 503.5,454.4 504,454.39 504.5,454.38 505,454.38 505.5,454.37 506,454.36 506.5,454.35 507,454.34 507.5,454.33 508,454.33 508.5,454.32 509,454.31 509.5,454.3 510,454.29 510.5,454.28 511,454.27 511.5,454.25 512,454.24 512.5,454.23 513,454.22 513.5,454.21 514,454.19 514.5,454.18 515,454.17 515.5,454.15 516,454.14 516.5,454.12 517,454.11 517.5,454.09 518,454.07 518.5,454.06 519,454.04 519.5,454.02 520,454 520.5,453.98 521,453.96 521.5,453.94 522,453.92 522.5,453.9 523,453.88 523.5,453.86 524,453.84 524.5,453.81 525,453.79 525.5,453.76 526,453.74 526.5,453.71 527,453.68 527.5,453.66 528,453.63 528.5,453.6 529,453.57 529.5,453.54 530,453.51 530.5,453.47 531,453.44 531.5,453.41 532,453.37 532.5,453.34 533,453.3 533.5,453.26 534,453.22 534.5,453.18 535,453.14 535.5,453.1 536,453.06 536.5,453.01 537,452.97 537.5,452.92 538,452.87 538.5,452.83 539,452.78 539.5,452.72 540,452.67 540.5,452.62 541,452.57 541.5,452.51 542,452.45 542.5,452.39 543,452.33 543.5,452.27 544,452.21 544.5,452.15 545,452.08 545.5,452.01 546,451.94 546.5,451.87 547,451.8 547.5,451.73 548,451.65 548.5,451.58 549,451.5 549.5,451.42 550,451.34 550.5,451.25 551,451.17 551.5,451.08 552,450.99 552.5,450.9 553,450.81 553.5,450.71 554,450.61 554.5,450.51 555,450.41 555.5,450.31 556,450.21 556.5,450.1 557,449.99 557.5,449.88 558,449.76 558.5,449.65 559,449.53 559.5,449.41 560,449.28 560.5,449.16 561,449.03 561.5,448.9 562,448.77 562.5,448.63 563,448.49 563.5,448.35 564,448.21 564.5,448.06 565,447.91 565.5,447.76 566,447.61 566.5,447.45 567,447.29 567.5,447.13 568,446.96 568.5,446.8 569,446.63 569.5,446.45 570,446.27 570.5,446.09 571,445.91 571.5,445.72 572,445.54 572.5,445.34 573,445.15 573.5,444.95 574,444.75 574.5,444.54 575,444.33 575.5,444.12 576,443.91 576.5,443.69 577,443.47 577.5,443.24 578,443.01 578.5,442.78 579,442.54 579.5,442.3 580,442.06 580.5,441.82 581,441.57 581.5,441.31 582,441.06 582.5,440.8 583,440.53 583.5,440.26 584,439.99 584.5,439.72 585,439.44 585.5,439.16 586,438.87 586.5,438.58 587,438.29 587.5,437.99 588,437.69 588.5,437.38 589,437.07 589.5,436.76 590,436.45 590.5,436.13 591,435.8 591.5,435.47 592,435.14 592.5,434.81 593,434.47 593.5,434.12 594,433.78 594.5,433.43 595,433.07 595.5,432.71 596,432.35 596.5,431.99 597,431.62 597.5,431.24 598,430.87 598.5,430.49 599,430.1 599.5,429.72 600,429.32 600.5,428.93 601,428.53 601.5,428.13 602,427.72 602.5,427.31 603,426.9 603.5,426.48 604,426.06 604.5,425.64 605,425.21 605.5,424.78 606,424.35 606.5,423.91 607,423.47 607.5,423.03 608,422.58 608.5,422.13 609,421.68 609.5,421.22 610,420.76 610.5,420.3 611,419.83 611.5,419.37 612,418.9 612.5,418.42 613,417.95 613.5,417.47 614,416.99 614.5,416.5 615,416.02 615.5,415.53 616,415.04 616.5,414.55 617,414.05 617.5,413.55 618,413.06 618.5,412.55 619,412.05 619.5,411.55 620,411.04 620.5,410.53 621,410.02 621.5,409.51 622,409 622.5,408.48 623,407.97 623.5,407.45 624,406.94 624.5,406.42 625,405.9 625.5,405.38 626,404.86 626.5,404.34 627,403.82 627.5,403.29 628,402.77 628.5,402.25 629,401.73 629.5,401.2 630,400.68 630.5,400.16 631,399.64 631.5,399.12 632,398.6 632.5,398.08 633,397.56 633.5,397.04 634,396.52 634.5,396 635,395.49 635.5,394.98 636,394.46 636.5,393.95 637,393.44 637.5,392.94 638,392.43 638.5,391.93 639,391.43 639.5,390.93 640,390.43 640.5,389.93 641,389.44 641.5,388.95 642,388.47 642.5,387.98 643,387.5 643.5,387.03 644,386.55 644.5,386.08 645,385.61 645.5,385.15 646,384.69 646.5,384.24 647,383.78 647.5,383.34 648,382.89 648.5,382.45 649,382.02 649.5,381.59 650,381.16 650.5,380.74 651,380.32 651.5,379.91 652,379.51 652.5,379.11 653,378.71 653.5,378.32 654,377.94 654.5,377.56 655,377.18 655.5,376.82 656,376.46 656.5,376.1 657,375.75 657.5,375.41 658,375.07 658.5,374.74 659,374.42 659.5,374.1 660,373.79 660.5,373.48 661,373.19 661.5,372.9 662,372.61 662.5,372.34 663,372.07 663.5,371.81 664,371.55 664.5,371.31 665,371.07 665.5,370.83 666,370.61 666.5,370.39 667,370.18 667.5,369.98 668,369.79 668.5,369.6 669,369.43 669.5,369.26 670,369.09 670.5,368.94 671,368.8 671.5,368.66 672,368.53 672.5,368.41 673,368.3 673.5,368.19 674,368.1 674.5,368.01 675,367.93 675.5,367.86 676,367.8 676.5,367.74 677,367.7 677.5,367.66 678,367.63 678.5,367.61 679,367.6 679.5,367.6 680,367.61 680.5,367.62 681,367.64 681.5,367.68 682,367.72 682.5,367.76 683,367.82 683.5,367.89 684,367.96 684.5,368.04 685,368.13 685.5,368.23 686,368.34 686.5,368.46 687,368.58 687.5,368.71 688,368.85 688.5,369 689,369.16 689.5,369.32 690,369.5 690.5,369.68 691,369.87 691.5,370.06 692,370.27 692.5,370.48 693,370.7 693.5,370.93 694,371.16 694.5,371.4 695,371.65 695.5,371.91 696,372.18 696.5,372.45 697,372.73 697.5,373.01 698,373.31 698.5,373.61 699,373.91 699.5,374.23 700,374.55 700.5,374.87 701,375.21 701.5,375.54 702,375.89 702.5,376.24 703,376.6 703.5,376.96 704,377.33 704.5,377.71 705,378.09 705.5,378.48 706,378.87 706.5,379.27 707,379.67 707.5,380.08 708,380.49 708.5,380.91 709,381.33 709.5,381.76 710,382.19 710.5,382.63 711,383.07 711.5,383.51 712,383.96 712.5,384.42 713,384.87 713.5,385.34 714,385.8 714.5,386.27 715,386.74 715.5,387.22 716,387.69 716.5,388.18 717,388.66 717.5,389.15 718,389.64 718.5,390.13 719,390.63 719.5,391.13 720,391.63 720.5,392.13 721,392.63 721.5,393.14 722,393.65 722.5,394.16 723,394.67 723.5,395.18 724,395.7 724.5,396.21 725,396.73 725.5,397.25 726,397.76 726.5,398.28 727,398.8 727.5,399.33 728,399.85 728.5,400.37 729,400.89 729.5,401.41 730,401.94 730.5,402.46 731,402.98 731.5,403.5 732,404.02 732.5,404.55 733,405.07 733.5,405.59 734,406.11 734.5,406.63 735,407.14 735.5,407.66 736,408.18 736.5,408.69 737,409.2 737.5,409.72 738,410.23 738.5,410.74 739,411.24 739.5,411.75 740,412.25 740.5,412.75 741,413.26 741.5,413.75 742,414.25 742.5,414.74 743,415.24 743.5,415.73 744,416.21 744.5,416.7 745,417.18 745.5,417.66 746,418.14 746.5,418.61 747,419.08 747.5,419.55 748,420.02 748.5,420.48 749,420.94 749.5,421.4 750,421.86 750.5,422.31 751,422.76 751.5,423.2 752,423.65 752.5,424.08 753,424.52 753.5,424.95 754,425.38 754.5,425.81 755,426.23 755.5,426.65 756,427.06 756.5,427.48 757,427.88 757.5,428.29 758,428.69 758.5,429.09 759,429.48 759.5,429.87 760,430.26 760.5,430.64 761,431.02 761.5,431.39 762,431.77 762.5,432.13 763,432.5 763.5,432.86 764,433.22 764.5,433.57 765,433.92 765.5,434.26 766,434.6 766.5,434.94 767,435.28 767.5,435.61 768,435.93 768.5,436.25 769,436.57 769.5,436.89 770,437.2 770.5,437.51 771,437.81 771.5,438.11 772,438.4 772.5,438.7 773,438.98 773.5,439.27 774,439.55 774.5,439.83 775,440.1 775.5,440.37 776,440.64 776.5,440.9 777,441.16 777.5,441.41 778,441.67 778.5,441.91 779,442.16 779.5,442.4 780,442.64 780.5,442.87 781,443.1 781.5,443.33 782,443.55 782.5,443.77 783,443.99 783.5,444.21 784,444.42 784.5,444.62 785,444.83 785.5,445.03 786,445.23 786.5,445.42 787,445.61 787.5,445.8 788,445.98 788.5,446.17 789,446.35 789.5,446.52 790,446.69 790.5,446.86 791,447.03 791.5,447.2 792,447.36 792.5,447.51 793,447.67 793.5,447.82 794,447.97 794.5,448.12 795,448.27 795.5,448.41 796,448.55 796.5,448.69 797,448.82 797.5,448.95 798,449.08 798.5,449.21 799,449.33 799.5,449.46 800,449.58 800.5,449.69 801,449.81 801.5,449.92 802,450.03 802.5,450.14 803,450.25 803.5,450.35 804,450.45 804.5,450.55 805,450.65 805.5,450.75 806,450.84 806.5,450.94 807,451.03 807.5,451.11 808,451.2 808.5,451.29 809,451.37 809.5,451.45 810,451.53 810.5,451.61 811,451.68 811.5,451.76 812,451.83 812.5,451.9 813,451.97 813.5,452.04 814,452.11 814.5,452.17 815,452.23 815.5,452.3" fill="none" stroke="#0000f5" stroke-width="1.6" stroke-linejoin="round" stroke-linecap="round"/>
<line x1="425.1" y1="454.7" x2="429.5" y2="454.7" stroke="#111" stroke-width="1.4"/>
<line x1="812" y1="454.7" x2="815.5" y2="454.7" stroke="#111" stroke-width="1.4"/>
<line x1="425.1" y1="430.99" x2="429.5" y2="430.99" stroke="#111" stroke-width="1.4"/>
<line x1="812" y1="430.99" x2="815.5" y2="430.99" stroke="#111" stroke-width="1.4"/>
<line x1="425.1" y1="407.28" x2="429.5" y2="407.28" stroke="#111" stroke-width="1.4"/>
<line x1="812" y1="407.28" x2="815.5" y2="407.28" stroke="#111" stroke-width="1.4"/>
<line x1="425.1" y1="383.57" x2="429.5" y2="383.57" stroke="#111" stroke-width="1.4"/>
<line x1="812" y1="383.57" x2="815.5" y2="383.57" stroke="#111" stroke-width="1.4"/>
<line x1="425.1" y1="359.86" x2="429.5" y2="359.86" stroke="#111" stroke-width="1.4"/>
<line x1="812" y1="359.86" x2="815.5" y2="359.86" stroke="#111" stroke-width="1.4"/>
<line x1="427" y1="466.56" x2="429.5" y2="466.56" stroke="#111" stroke-width="1.4"/>
<line x1="813" y1="466.56" x2="815.5" y2="466.56" stroke="#111" stroke-width="1.4"/>
<line x1="427" y1="442.84" x2="429.5" y2="442.84" stroke="#111" stroke-width="1.4"/>
<line x1="813" y1="442.84" x2="815.5" y2="442.84" stroke="#111" stroke-width="1.4"/>
<line x1="427" y1="419.13" x2="429.5" y2="419.13" stroke="#111" stroke-width="1.4"/>
<line x1="813" y1="419.13" x2="815.5" y2="419.13" stroke="#111" stroke-width="1.4"/>
<line x1="427" y1="395.42" x2="429.5" y2="395.42" stroke="#111" stroke-width="1.4"/>
<line x1="813" y1="395.42" x2="815.5" y2="395.42" stroke="#111" stroke-width="1.4"/>
<line x1="427" y1="371.71" x2="429.5" y2="371.71" stroke="#111" stroke-width="1.4"/>
<line x1="813" y1="371.71" x2="815.5" y2="371.71" stroke="#111" stroke-width="1.4"/>
<line x1="427" y1="348" x2="429.5" y2="348" stroke="#111" stroke-width="1.4"/>
<line x1="813" y1="348" x2="815.5" y2="348" stroke="#111" stroke-width="1.4"/>
<line x1="429.5" y1="466.4" x2="429.5" y2="469" stroke="#111" stroke-width="1.4"/>
<line x1="429.5" y1="347.9" x2="429.5" y2="350.5" stroke="#111" stroke-width="1.4"/>
<line x1="493.8" y1="466.4" x2="493.8" y2="469" stroke="#111" stroke-width="1.4"/>
<line x1="493.8" y1="347.9" x2="493.8" y2="350.5" stroke="#111" stroke-width="1.4"/>
<line x1="558.1" y1="466.4" x2="558.1" y2="469" stroke="#111" stroke-width="1.4"/>
<line x1="558.1" y1="347.9" x2="558.1" y2="350.5" stroke="#111" stroke-width="1.4"/>
<line x1="622.4" y1="466.4" x2="622.4" y2="469" stroke="#111" stroke-width="1.4"/>
<line x1="622.4" y1="347.9" x2="622.4" y2="350.5" stroke="#111" stroke-width="1.4"/>
<line x1="686.7" y1="466.4" x2="686.7" y2="469" stroke="#111" stroke-width="1.4"/>
<line x1="686.7" y1="347.9" x2="686.7" y2="350.5" stroke="#111" stroke-width="1.4"/>
<line x1="751" y1="466.4" x2="751" y2="469" stroke="#111" stroke-width="1.4"/>
<line x1="751" y1="347.9" x2="751" y2="350.5" stroke="#111" stroke-width="1.4"/>
<line x1="815.3" y1="466.4" x2="815.3" y2="469" stroke="#111" stroke-width="1.4"/>
<line x1="815.3" y1="347.9" x2="815.3" y2="350.5" stroke="#111" stroke-width="1.4"/>
<line x1="461.65" y1="466.4" x2="461.65" y2="469" stroke="#111" stroke-width="1.4"/>
<line x1="461.65" y1="347.9" x2="461.65" y2="350.5" stroke="#111" stroke-width="1.4"/>
<line x1="525.95" y1="466.4" x2="525.95" y2="469" stroke="#111" stroke-width="1.4"/>
<line x1="525.95" y1="347.9" x2="525.95" y2="350.5" stroke="#111" stroke-width="1.4"/>
<line x1="590.25" y1="466.4" x2="590.25" y2="469" stroke="#111" stroke-width="1.4"/>
<line x1="590.25" y1="347.9" x2="590.25" y2="350.5" stroke="#111" stroke-width="1.4"/>
<line x1="654.55" y1="466.4" x2="654.55" y2="469" stroke="#111" stroke-width="1.4"/>
<line x1="654.55" y1="347.9" x2="654.55" y2="350.5" stroke="#111" stroke-width="1.4"/>
<line x1="718.85" y1="466.4" x2="718.85" y2="469" stroke="#111" stroke-width="1.4"/>
<line x1="718.85" y1="347.9" x2="718.85" y2="350.5" stroke="#111" stroke-width="1.4"/>
<line x1="783.15" y1="466.4" x2="783.15" y2="469" stroke="#111" stroke-width="1.4"/>
<line x1="783.15" y1="347.9" x2="783.15" y2="350.5" stroke="#111" stroke-width="1.4"/>
<rect x="429.5" y="347.9" width="386" height="118.5" fill="none" stroke="#111" stroke-width="1.4"/>
<text x="429.5" y="475.7" font-size="6.6" text-anchor="middle" font-weight="normal" fill="#111" textLength="10.2" lengthAdjust="spacing" stroke="#111" stroke-width="0.45">876</text>
<text x="493.8" y="475.7" font-size="6.6" text-anchor="middle" font-weight="normal" fill="#111" textLength="10.2" lengthAdjust="spacing" stroke="#111" stroke-width="0.45">878</text>
<text x="558.1" y="475.7" font-size="6.6" text-anchor="middle" font-weight="normal" fill="#111" textLength="10.2" lengthAdjust="spacing" stroke="#111" stroke-width="0.45">880</text>
<text x="622.4" y="475.7" font-size="6.6" text-anchor="middle" font-weight="normal" fill="#111" textLength="10.2" lengthAdjust="spacing" stroke="#111" stroke-width="0.45">882</text>
<text x="686.7" y="475.7" font-size="6.6" text-anchor="middle" font-weight="normal" fill="#111" textLength="10.2" lengthAdjust="spacing" stroke="#111" stroke-width="0.45">884</text>
<text x="751" y="475.7" font-size="6.6" text-anchor="middle" font-weight="normal" fill="#111" textLength="10.2" lengthAdjust="spacing" stroke="#111" stroke-width="0.45">886</text>
<text x="815.3" y="475.7" font-size="6.6" text-anchor="middle" font-weight="normal" fill="#111" textLength="10.2" lengthAdjust="spacing" stroke="#111" stroke-width="0.45">888</text>
<text x="645.4" y="485.1" font-size="9.0" text-anchor="middle" font-weight="normal" fill="#111" textLength="58.8" lengthAdjust="spacing" stroke="#111" stroke-width="0.45">Energy (eV)</text>
<text x="415.6" y="402.3" font-size="9.4" text-anchor="middle" font-weight="normal" fill="#111" textLength="63.7" lengthAdjust="spacing" transform="rotate(-90 415.6 402.3)" stroke="#111" stroke-width="0.5">Intensity (a. u.)</text>
<line x1="433.5" y1="359.2" x2="461.3" y2="359.2" stroke="#222" stroke-width="1.5"/>
<line x1="433.5" y1="370.3" x2="461.3" y2="370.3" stroke="#ff0000" stroke-width="1.6"/>
<text x="464.5" y="362.1" font-size="9.2" text-anchor="start" font-weight="normal" fill="#111" textLength="66.5" lengthAdjust="spacing" stroke="#111" stroke-width="0.45">Data Ce 3d5/2</text>
<text x="464.5" y="373.2" font-size="9.2" text-anchor="start" font-weight="normal" fill="#111" textLength="55.5" lengthAdjust="spacing" stroke="#111" stroke-width="0.45">fit Ce 3d 5/2</text>
</svg>
</body></html>
